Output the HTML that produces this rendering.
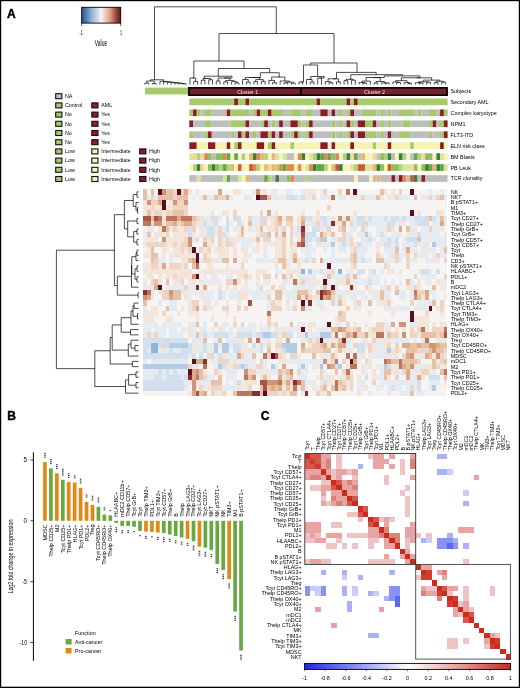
<!DOCTYPE html>
<html><head><meta charset="utf-8"><style>
html,body{margin:0;padding:0;background:#fff;}
body{width:520px;height:688px;overflow:hidden;}
svg{display:block;font-family:"Liberation Sans", sans-serif;will-change:transform;}
</style></head><body>
<svg width="520" height="688" viewBox="0 0 520 688" shape-rendering="auto">
<text x="7.10" y="17.60" font-size="12.0" text-anchor="start" font-weight="bold" fill="#000" stroke="#000" stroke-width="0.45">A</text>
<text x="7.30" y="419.80" font-size="12.0" text-anchor="start" font-weight="bold" fill="#000" stroke="#000" stroke-width="0.45">B</text>
<text x="260.70" y="420.20" font-size="12.0" text-anchor="start" font-weight="bold" fill="#000" stroke="#000" stroke-width="0.45">C</text>
<defs><linearGradient id="gk" x1="0" x2="1" y1="0" y2="0"><stop offset="0" stop-color="#2c4f8f"/><stop offset="0.25" stop-color="#8eb2d6"/><stop offset="0.5" stop-color="#f5f5f3"/><stop offset="0.72" stop-color="#d9a486"/><stop offset="0.87" stop-color="#a14d44"/><stop offset="1" stop-color="#66101f"/></linearGradient><linearGradient id="gc" x1="0" x2="1" y1="0" y2="0"><stop offset="0" stop-color="#2228e2"/><stop offset="0.25" stop-color="#8a90ef"/><stop offset="0.5" stop-color="#ffffff"/><stop offset="0.75" stop-color="#e3a29c"/><stop offset="1" stop-color="#c72a1c"/></linearGradient></defs>
<rect x="81.70" y="7.30" width="39.00" height="15.80" fill="url(#gk)" stroke="#000" stroke-width="0.9"/>
<line x1="81.70" y1="23.10" x2="81.70" y2="26.30" stroke="#000" stroke-width="0.6" />
<line x1="120.70" y1="23.10" x2="120.70" y2="26.30" stroke="#000" stroke-width="0.6" />
<text x="81.30" y="35.00" font-size="6.8" text-anchor="middle" font-weight="normal" fill="#000" textLength="3.40" lengthAdjust="spacingAndGlyphs" >-1</text>
<text x="120.90" y="35.00" font-size="6.8" text-anchor="middle" font-weight="normal" fill="#000" textLength="2.00" lengthAdjust="spacingAndGlyphs" >1</text>
<text x="101.00" y="45.90" font-size="8.2" text-anchor="middle" font-weight="normal" fill="#000" textLength="12.50" lengthAdjust="spacingAndGlyphs" >Value</text>
<rect x="55.70" y="93.70" width="6.20" height="5.00" fill="#bebebe" stroke="#111" stroke-width="1.1"/>
<text x="65.00" y="98.00" font-size="5.3" text-anchor="start" font-weight="normal" fill="#000" >NA</text>
<rect x="55.70" y="102.90" width="6.20" height="5.00" fill="#a6c96b" stroke="#111" stroke-width="1.1"/>
<text x="65.00" y="107.20" font-size="5.3" text-anchor="start" font-weight="normal" fill="#000" >Control</text>
<rect x="91.80" y="102.90" width="6.20" height="5.00" fill="#8c1c28" stroke="#111" stroke-width="1.1"/>
<text x="101.20" y="107.20" font-size="5.3" text-anchor="start" font-weight="normal" fill="#000" >AML</text>
<rect x="55.70" y="112.10" width="6.20" height="5.00" fill="#a6c96b" stroke="#111" stroke-width="1.1"/>
<text x="65.00" y="116.40" font-size="5.3" text-anchor="start" font-weight="normal" fill="#000" >No</text>
<rect x="91.80" y="112.10" width="6.20" height="5.00" fill="#8c1c28" stroke="#111" stroke-width="1.1"/>
<text x="101.20" y="116.40" font-size="5.3" text-anchor="start" font-weight="normal" fill="#000" >Yes</text>
<rect x="55.70" y="121.30" width="6.20" height="5.00" fill="#a6c96b" stroke="#111" stroke-width="1.1"/>
<text x="65.00" y="125.60" font-size="5.3" text-anchor="start" font-weight="normal" fill="#000" >No</text>
<rect x="91.80" y="121.30" width="6.20" height="5.00" fill="#8c1c28" stroke="#111" stroke-width="1.1"/>
<text x="101.20" y="125.60" font-size="5.3" text-anchor="start" font-weight="normal" fill="#000" >Yes</text>
<rect x="55.70" y="130.50" width="6.20" height="5.00" fill="#a6c96b" stroke="#111" stroke-width="1.1"/>
<text x="65.00" y="134.80" font-size="5.3" text-anchor="start" font-weight="normal" fill="#000" >No</text>
<rect x="91.80" y="130.50" width="6.20" height="5.00" fill="#8c1c28" stroke="#111" stroke-width="1.1"/>
<text x="101.20" y="134.80" font-size="5.3" text-anchor="start" font-weight="normal" fill="#000" >Yes</text>
<rect x="55.70" y="139.70" width="6.20" height="5.00" fill="#a6c96b" stroke="#111" stroke-width="1.1"/>
<text x="65.00" y="144.00" font-size="5.3" text-anchor="start" font-weight="normal" fill="#000" >No</text>
<rect x="91.80" y="139.70" width="6.20" height="5.00" fill="#8c1c28" stroke="#111" stroke-width="1.1"/>
<text x="101.20" y="144.00" font-size="5.3" text-anchor="start" font-weight="normal" fill="#000" >Yes</text>
<rect x="55.70" y="148.90" width="6.20" height="5.00" fill="#a6c96b" stroke="#111" stroke-width="1.1"/>
<text x="65.00" y="153.20" font-size="5.3" text-anchor="start" font-weight="normal" fill="#000" >Low</text>
<rect x="91.80" y="148.90" width="6.20" height="5.00" fill="#f7f3b3" stroke="#111" stroke-width="1.1"/>
<text x="101.20" y="153.20" font-size="5.3" text-anchor="start" font-weight="normal" fill="#000" >Intermediate</text>
<rect x="139.70" y="148.90" width="6.20" height="5.00" fill="#8c1c28" stroke="#111" stroke-width="1.1"/>
<text x="149.00" y="153.20" font-size="5.3" text-anchor="start" font-weight="normal" fill="#000" >High</text>
<rect x="55.70" y="158.10" width="6.20" height="5.00" fill="#a6c96b" stroke="#111" stroke-width="1.1"/>
<text x="65.00" y="162.40" font-size="5.3" text-anchor="start" font-weight="normal" fill="#000" >Low</text>
<rect x="91.80" y="158.10" width="6.20" height="5.00" fill="#f7f3b3" stroke="#111" stroke-width="1.1"/>
<text x="101.20" y="162.40" font-size="5.3" text-anchor="start" font-weight="normal" fill="#000" >Intermediate</text>
<rect x="139.70" y="158.10" width="6.20" height="5.00" fill="#8c1c28" stroke="#111" stroke-width="1.1"/>
<text x="149.00" y="162.40" font-size="5.3" text-anchor="start" font-weight="normal" fill="#000" >High</text>
<rect x="55.70" y="167.30" width="6.20" height="5.00" fill="#a6c96b" stroke="#111" stroke-width="1.1"/>
<text x="65.00" y="171.60" font-size="5.3" text-anchor="start" font-weight="normal" fill="#000" >Low</text>
<rect x="91.80" y="167.30" width="6.20" height="5.00" fill="#f7f3b3" stroke="#111" stroke-width="1.1"/>
<text x="101.20" y="171.60" font-size="5.3" text-anchor="start" font-weight="normal" fill="#000" >Intermediate</text>
<rect x="139.70" y="167.30" width="6.20" height="5.00" fill="#8c1c28" stroke="#111" stroke-width="1.1"/>
<text x="149.00" y="171.60" font-size="5.3" text-anchor="start" font-weight="normal" fill="#000" >High</text>
<rect x="55.70" y="176.50" width="6.20" height="5.00" fill="#a6c96b" stroke="#111" stroke-width="1.1"/>
<text x="65.00" y="180.80" font-size="5.3" text-anchor="start" font-weight="normal" fill="#000" >Low</text>
<rect x="91.80" y="176.50" width="6.20" height="5.00" fill="#f7f3b3" stroke="#111" stroke-width="1.1"/>
<text x="101.20" y="180.80" font-size="5.3" text-anchor="start" font-weight="normal" fill="#000" >Intermediate</text>
<rect x="139.70" y="176.50" width="6.20" height="5.00" fill="#8c1c28" stroke="#111" stroke-width="1.1"/>
<text x="149.00" y="180.80" font-size="5.3" text-anchor="start" font-weight="normal" fill="#000" >High</text>
<rect x="189.30" y="98.50" width="44.92" height="6.70" fill="#a6c96b" />
<rect x="234.22" y="98.50" width="3.74" height="6.70" fill="#8c1c28" />
<rect x="237.97" y="98.50" width="7.49" height="6.70" fill="#a6c96b" />
<rect x="245.45" y="98.50" width="3.74" height="6.70" fill="#8c1c28" />
<rect x="249.20" y="98.50" width="67.38" height="6.70" fill="#a6c96b" />
<rect x="316.58" y="98.50" width="3.74" height="6.70" fill="#8c1c28" />
<rect x="320.32" y="98.50" width="26.20" height="6.70" fill="#a6c96b" />
<rect x="346.53" y="98.50" width="3.74" height="6.70" fill="#8c1c28" />
<rect x="350.27" y="98.50" width="3.74" height="6.70" fill="#a6c96b" />
<rect x="354.01" y="98.50" width="3.74" height="6.70" fill="#8c1c28" />
<rect x="357.76" y="98.50" width="89.84" height="6.70" fill="#a6c96b" />
<text x="450.50" y="103.80" font-size="5.4" text-anchor="start" font-weight="normal" fill="#000" >Secondary AML</text>
<rect x="189.30" y="109.45" width="3.74" height="6.70" fill="#a6c96b" />
<rect x="193.04" y="109.45" width="3.74" height="6.70" fill="#8c1c28" />
<rect x="196.79" y="109.45" width="3.74" height="6.70" fill="#a6c96b" />
<rect x="200.53" y="109.45" width="3.74" height="6.70" fill="#bebebe" />
<rect x="204.27" y="109.45" width="7.49" height="6.70" fill="#a6c96b" />
<rect x="211.76" y="109.45" width="14.97" height="6.70" fill="#bebebe" />
<rect x="226.73" y="109.45" width="3.74" height="6.70" fill="#8c1c28" />
<rect x="230.48" y="109.45" width="18.72" height="6.70" fill="#a6c96b" />
<rect x="249.20" y="109.45" width="3.74" height="6.70" fill="#bebebe" />
<rect x="252.94" y="109.45" width="3.74" height="6.70" fill="#a6c96b" />
<rect x="256.68" y="109.45" width="3.74" height="6.70" fill="#8c1c28" />
<rect x="260.43" y="109.45" width="7.49" height="6.70" fill="#a6c96b" />
<rect x="267.91" y="109.45" width="3.74" height="6.70" fill="#8c1c28" />
<rect x="271.66" y="109.45" width="11.23" height="6.70" fill="#a6c96b" />
<rect x="282.89" y="109.45" width="7.49" height="6.70" fill="#bebebe" />
<rect x="290.37" y="109.45" width="11.23" height="6.70" fill="#a6c96b" />
<rect x="301.60" y="109.45" width="3.74" height="6.70" fill="#bebebe" />
<rect x="305.35" y="109.45" width="7.49" height="6.70" fill="#a6c96b" />
<rect x="312.83" y="109.45" width="7.49" height="6.70" fill="#bebebe" />
<rect x="320.32" y="109.45" width="7.49" height="6.70" fill="#8c1c28" />
<rect x="327.81" y="109.45" width="3.74" height="6.70" fill="#bebebe" />
<rect x="331.55" y="109.45" width="3.74" height="6.70" fill="#8c1c28" />
<rect x="335.30" y="109.45" width="3.74" height="6.70" fill="#bebebe" />
<rect x="339.04" y="109.45" width="3.74" height="6.70" fill="#a6c96b" />
<rect x="342.78" y="109.45" width="3.74" height="6.70" fill="#bebebe" />
<rect x="346.53" y="109.45" width="3.74" height="6.70" fill="#a6c96b" />
<rect x="350.27" y="109.45" width="3.74" height="6.70" fill="#8c1c28" />
<rect x="354.01" y="109.45" width="7.49" height="6.70" fill="#bebebe" />
<rect x="361.50" y="109.45" width="14.97" height="6.70" fill="#a6c96b" />
<rect x="376.47" y="109.45" width="3.74" height="6.70" fill="#bebebe" />
<rect x="380.22" y="109.45" width="3.74" height="6.70" fill="#a6c96b" />
<rect x="383.96" y="109.45" width="3.74" height="6.70" fill="#bebebe" />
<rect x="387.70" y="109.45" width="3.74" height="6.70" fill="#a6c96b" />
<rect x="391.45" y="109.45" width="7.49" height="6.70" fill="#bebebe" />
<rect x="398.93" y="109.45" width="14.97" height="6.70" fill="#a6c96b" />
<rect x="413.91" y="109.45" width="3.74" height="6.70" fill="#bebebe" />
<rect x="417.65" y="109.45" width="3.74" height="6.70" fill="#a6c96b" />
<rect x="421.40" y="109.45" width="7.49" height="6.70" fill="#bebebe" />
<rect x="428.88" y="109.45" width="7.49" height="6.70" fill="#a6c96b" />
<rect x="436.37" y="109.45" width="3.74" height="6.70" fill="#bebebe" />
<rect x="440.11" y="109.45" width="3.74" height="6.70" fill="#8c1c28" />
<rect x="443.86" y="109.45" width="3.74" height="6.70" fill="#a6c96b" />
<text x="450.50" y="114.75" font-size="5.4" text-anchor="start" font-weight="normal" fill="#000" >Complex karyotype</text>
<rect x="189.30" y="120.40" width="3.74" height="6.70" fill="#8c1c28" />
<rect x="193.04" y="120.40" width="11.23" height="6.70" fill="#bebebe" />
<rect x="204.27" y="120.40" width="7.49" height="6.70" fill="#a6c96b" />
<rect x="211.76" y="120.40" width="18.72" height="6.70" fill="#bebebe" />
<rect x="230.48" y="120.40" width="14.97" height="6.70" fill="#a6c96b" />
<rect x="245.45" y="120.40" width="3.74" height="6.70" fill="#8c1c28" />
<rect x="249.20" y="120.40" width="11.23" height="6.70" fill="#bebebe" />
<rect x="260.43" y="120.40" width="3.74" height="6.70" fill="#a6c96b" />
<rect x="264.17" y="120.40" width="3.74" height="6.70" fill="#8c1c28" />
<rect x="267.91" y="120.40" width="3.74" height="6.70" fill="#bebebe" />
<rect x="271.66" y="120.40" width="3.74" height="6.70" fill="#a6c96b" />
<rect x="275.40" y="120.40" width="3.74" height="6.70" fill="#bebebe" />
<rect x="279.14" y="120.40" width="3.74" height="6.70" fill="#8c1c28" />
<rect x="282.89" y="120.40" width="7.49" height="6.70" fill="#bebebe" />
<rect x="290.37" y="120.40" width="7.49" height="6.70" fill="#8c1c28" />
<rect x="297.86" y="120.40" width="3.74" height="6.70" fill="#a6c96b" />
<rect x="301.60" y="120.40" width="3.74" height="6.70" fill="#bebebe" />
<rect x="305.35" y="120.40" width="3.74" height="6.70" fill="#a6c96b" />
<rect x="309.09" y="120.40" width="3.74" height="6.70" fill="#8c1c28" />
<rect x="312.83" y="120.40" width="18.72" height="6.70" fill="#bebebe" />
<rect x="331.55" y="120.40" width="3.74" height="6.70" fill="#a6c96b" />
<rect x="335.30" y="120.40" width="3.74" height="6.70" fill="#bebebe" />
<rect x="339.04" y="120.40" width="3.74" height="6.70" fill="#a6c96b" />
<rect x="342.78" y="120.40" width="3.74" height="6.70" fill="#bebebe" />
<rect x="346.53" y="120.40" width="3.74" height="6.70" fill="#8c1c28" />
<rect x="350.27" y="120.40" width="3.74" height="6.70" fill="#a6c96b" />
<rect x="354.01" y="120.40" width="3.74" height="6.70" fill="#bebebe" />
<rect x="357.76" y="120.40" width="7.49" height="6.70" fill="#8c1c28" />
<rect x="365.24" y="120.40" width="7.49" height="6.70" fill="#a6c96b" />
<rect x="372.73" y="120.40" width="3.74" height="6.70" fill="#8c1c28" />
<rect x="376.47" y="120.40" width="3.74" height="6.70" fill="#bebebe" />
<rect x="380.22" y="120.40" width="3.74" height="6.70" fill="#a6c96b" />
<rect x="383.96" y="120.40" width="3.74" height="6.70" fill="#bebebe" />
<rect x="387.70" y="120.40" width="3.74" height="6.70" fill="#a6c96b" />
<rect x="391.45" y="120.40" width="11.23" height="6.70" fill="#bebebe" />
<rect x="402.68" y="120.40" width="7.49" height="6.70" fill="#a6c96b" />
<rect x="410.17" y="120.40" width="18.72" height="6.70" fill="#bebebe" />
<rect x="428.88" y="120.40" width="3.74" height="6.70" fill="#a6c96b" />
<rect x="432.63" y="120.40" width="3.74" height="6.70" fill="#8c1c28" />
<rect x="436.37" y="120.40" width="3.74" height="6.70" fill="#bebebe" />
<rect x="440.11" y="120.40" width="3.74" height="6.70" fill="#a6c96b" />
<rect x="443.86" y="120.40" width="3.74" height="6.70" fill="#8c1c28" />
<text x="450.50" y="125.70" font-size="5.4" text-anchor="start" font-weight="normal" fill="#000" >NPM1</text>
<rect x="189.30" y="131.35" width="3.74" height="6.70" fill="#a6c96b" />
<rect x="193.04" y="131.35" width="11.23" height="6.70" fill="#bebebe" />
<rect x="204.27" y="131.35" width="3.74" height="6.70" fill="#a6c96b" />
<rect x="208.02" y="131.35" width="3.74" height="6.70" fill="#8c1c28" />
<rect x="211.76" y="131.35" width="18.72" height="6.70" fill="#bebebe" />
<rect x="230.48" y="131.35" width="3.74" height="6.70" fill="#a6c96b" />
<rect x="234.22" y="131.35" width="3.74" height="6.70" fill="#bebebe" />
<rect x="237.97" y="131.35" width="3.74" height="6.70" fill="#8c1c28" />
<rect x="241.71" y="131.35" width="3.74" height="6.70" fill="#a6c96b" />
<rect x="245.45" y="131.35" width="3.74" height="6.70" fill="#8c1c28" />
<rect x="249.20" y="131.35" width="3.74" height="6.70" fill="#bebebe" />
<rect x="252.94" y="131.35" width="3.74" height="6.70" fill="#a6c96b" />
<rect x="256.68" y="131.35" width="3.74" height="6.70" fill="#bebebe" />
<rect x="260.43" y="131.35" width="7.49" height="6.70" fill="#8c1c28" />
<rect x="267.91" y="131.35" width="3.74" height="6.70" fill="#a6c96b" />
<rect x="271.66" y="131.35" width="3.74" height="6.70" fill="#8c1c28" />
<rect x="275.40" y="131.35" width="3.74" height="6.70" fill="#bebebe" />
<rect x="279.14" y="131.35" width="3.74" height="6.70" fill="#8c1c28" />
<rect x="282.89" y="131.35" width="7.49" height="6.70" fill="#bebebe" />
<rect x="290.37" y="131.35" width="3.74" height="6.70" fill="#a6c96b" />
<rect x="294.12" y="131.35" width="3.74" height="6.70" fill="#8c1c28" />
<rect x="297.86" y="131.35" width="3.74" height="6.70" fill="#a6c96b" />
<rect x="301.60" y="131.35" width="3.74" height="6.70" fill="#bebebe" />
<rect x="305.35" y="131.35" width="3.74" height="6.70" fill="#a6c96b" />
<rect x="309.09" y="131.35" width="3.74" height="6.70" fill="#8c1c28" />
<rect x="312.83" y="131.35" width="18.72" height="6.70" fill="#bebebe" />
<rect x="331.55" y="131.35" width="3.74" height="6.70" fill="#a6c96b" />
<rect x="335.30" y="131.35" width="3.74" height="6.70" fill="#bebebe" />
<rect x="339.04" y="131.35" width="3.74" height="6.70" fill="#a6c96b" />
<rect x="342.78" y="131.35" width="3.74" height="6.70" fill="#bebebe" />
<rect x="346.53" y="131.35" width="3.74" height="6.70" fill="#a6c96b" />
<rect x="350.27" y="131.35" width="3.74" height="6.70" fill="#8c1c28" />
<rect x="354.01" y="131.35" width="3.74" height="6.70" fill="#bebebe" />
<rect x="357.76" y="131.35" width="7.49" height="6.70" fill="#8c1c28" />
<rect x="365.24" y="131.35" width="11.23" height="6.70" fill="#a6c96b" />
<rect x="376.47" y="131.35" width="3.74" height="6.70" fill="#bebebe" />
<rect x="380.22" y="131.35" width="3.74" height="6.70" fill="#a6c96b" />
<rect x="383.96" y="131.35" width="3.74" height="6.70" fill="#bebebe" />
<rect x="387.70" y="131.35" width="3.74" height="6.70" fill="#8c1c28" />
<rect x="391.45" y="131.35" width="7.49" height="6.70" fill="#bebebe" />
<rect x="398.93" y="131.35" width="11.23" height="6.70" fill="#a6c96b" />
<rect x="410.17" y="131.35" width="18.72" height="6.70" fill="#bebebe" />
<rect x="428.88" y="131.35" width="3.74" height="6.70" fill="#a6c96b" />
<rect x="432.63" y="131.35" width="7.49" height="6.70" fill="#bebebe" />
<rect x="440.11" y="131.35" width="3.74" height="6.70" fill="#a6c96b" />
<rect x="443.86" y="131.35" width="3.74" height="6.70" fill="#8c1c28" />
<text x="450.50" y="136.65" font-size="5.4" text-anchor="start" font-weight="normal" fill="#000" >FLT3-ITD</text>
<rect x="189.30" y="142.30" width="7.49" height="6.70" fill="#8c1c28" />
<rect x="196.79" y="142.30" width="11.23" height="6.70" fill="#f7f3b3" />
<rect x="208.02" y="142.30" width="7.49" height="6.70" fill="#8c1c28" />
<rect x="215.50" y="142.30" width="11.23" height="6.70" fill="#f7f3b3" />
<rect x="226.73" y="142.30" width="3.74" height="6.70" fill="#8c1c28" />
<rect x="230.48" y="142.30" width="3.74" height="6.70" fill="#f7f3b3" />
<rect x="234.22" y="142.30" width="3.74" height="6.70" fill="#a6c96b" />
<rect x="237.97" y="142.30" width="3.74" height="6.70" fill="#8c1c28" />
<rect x="241.71" y="142.30" width="14.97" height="6.70" fill="#f7f3b3" />
<rect x="256.68" y="142.30" width="7.49" height="6.70" fill="#8c1c28" />
<rect x="264.17" y="142.30" width="3.74" height="6.70" fill="#f7f3b3" />
<rect x="267.91" y="142.30" width="3.74" height="6.70" fill="#a6c96b" />
<rect x="271.66" y="142.30" width="3.74" height="6.70" fill="#8c1c28" />
<rect x="275.40" y="142.30" width="14.97" height="6.70" fill="#f7f3b3" />
<rect x="290.37" y="142.30" width="3.74" height="6.70" fill="#a6c96b" />
<rect x="294.12" y="142.30" width="26.20" height="6.70" fill="#f7f3b3" />
<rect x="320.32" y="142.30" width="7.49" height="6.70" fill="#8c1c28" />
<rect x="327.81" y="142.30" width="3.74" height="6.70" fill="#f7f3b3" />
<rect x="331.55" y="142.30" width="3.74" height="6.70" fill="#8c1c28" />
<rect x="335.30" y="142.30" width="14.97" height="6.70" fill="#f7f3b3" />
<rect x="350.27" y="142.30" width="3.74" height="6.70" fill="#8c1c28" />
<rect x="354.01" y="142.30" width="18.72" height="6.70" fill="#f7f3b3" />
<rect x="372.73" y="142.30" width="3.74" height="6.70" fill="#a6c96b" />
<rect x="376.47" y="142.30" width="11.23" height="6.70" fill="#f7f3b3" />
<rect x="387.70" y="142.30" width="3.74" height="6.70" fill="#8c1c28" />
<rect x="391.45" y="142.30" width="18.72" height="6.70" fill="#f7f3b3" />
<rect x="410.17" y="142.30" width="3.74" height="6.70" fill="#a6c96b" />
<rect x="413.91" y="142.30" width="26.20" height="6.70" fill="#f7f3b3" />
<rect x="440.11" y="142.30" width="3.74" height="6.70" fill="#8c1c28" />
<rect x="443.86" y="142.30" width="3.74" height="6.70" fill="#f7f3b3" />
<text x="450.50" y="147.60" font-size="5.4" text-anchor="start" font-weight="normal" fill="#000" >ELN risk class</text>
<rect x="189.30" y="153.25" width="3.74" height="6.70" fill="#d8e59a" />
<rect x="193.04" y="153.25" width="3.74" height="6.70" fill="#f2d898" />
<rect x="196.79" y="153.25" width="3.74" height="6.70" fill="#b0d27a" />
<rect x="200.53" y="153.25" width="3.74" height="6.70" fill="#f2d898" />
<rect x="204.27" y="153.25" width="3.74" height="6.70" fill="#df8a4c" />
<rect x="208.02" y="153.25" width="3.74" height="6.70" fill="#8cbf62" />
<rect x="211.76" y="153.25" width="3.74" height="6.70" fill="#bebebe" />
<rect x="215.50" y="153.25" width="7.49" height="6.70" fill="#8cbf62" />
<rect x="222.99" y="153.25" width="3.74" height="6.70" fill="#df8a4c" />
<rect x="226.73" y="153.25" width="3.74" height="6.70" fill="#66a44e" />
<rect x="230.48" y="153.25" width="3.74" height="6.70" fill="#f6f4b8" />
<rect x="234.22" y="153.25" width="3.74" height="6.70" fill="#66a44e" />
<rect x="237.97" y="153.25" width="3.74" height="6.70" fill="#f6f4b8" />
<rect x="241.71" y="153.25" width="3.74" height="6.70" fill="#b0d27a" />
<rect x="245.45" y="153.25" width="3.74" height="6.70" fill="#f6f4b8" />
<rect x="249.20" y="153.25" width="3.74" height="6.70" fill="#ebb470" />
<rect x="252.94" y="153.25" width="3.74" height="6.70" fill="#3f7d3a" />
<rect x="256.68" y="153.25" width="3.74" height="6.70" fill="#df8a4c" />
<rect x="260.43" y="153.25" width="3.74" height="6.70" fill="#ebb470" />
<rect x="264.17" y="153.25" width="3.74" height="6.70" fill="#b0d27a" />
<rect x="267.91" y="153.25" width="3.74" height="6.70" fill="#f6f4b8" />
<rect x="271.66" y="153.25" width="3.74" height="6.70" fill="#ebb470" />
<rect x="275.40" y="153.25" width="3.74" height="6.70" fill="#d8e59a" />
<rect x="279.14" y="153.25" width="3.74" height="6.70" fill="#f6f4b8" />
<rect x="282.89" y="153.25" width="3.74" height="6.70" fill="#d8e59a" />
<rect x="286.63" y="153.25" width="7.49" height="6.70" fill="#bebebe" />
<rect x="294.12" y="153.25" width="3.74" height="6.70" fill="#f6f4b8" />
<rect x="297.86" y="153.25" width="3.74" height="6.70" fill="#df8a4c" />
<rect x="301.60" y="153.25" width="3.74" height="6.70" fill="#3f7d3a" />
<rect x="305.35" y="153.25" width="3.74" height="6.70" fill="#f6f4b8" />
<rect x="309.09" y="153.25" width="3.74" height="6.70" fill="#f2d898" />
<rect x="312.83" y="153.25" width="3.74" height="6.70" fill="#b0d27a" />
<rect x="316.58" y="153.25" width="3.74" height="6.70" fill="#3f7d3a" />
<rect x="320.32" y="153.25" width="3.74" height="6.70" fill="#66a44e" />
<rect x="324.07" y="153.25" width="3.74" height="6.70" fill="#df8a4c" />
<rect x="327.81" y="153.25" width="3.74" height="6.70" fill="#66a44e" />
<rect x="331.55" y="153.25" width="3.74" height="6.70" fill="#8cbf62" />
<rect x="335.30" y="153.25" width="3.74" height="6.70" fill="#df8a4c" />
<rect x="339.04" y="153.25" width="3.74" height="6.70" fill="#f6f4b8" />
<rect x="342.78" y="153.25" width="3.74" height="6.70" fill="#b0d27a" />
<rect x="346.53" y="153.25" width="3.74" height="6.70" fill="#3f7d3a" />
<rect x="350.27" y="153.25" width="3.74" height="6.70" fill="#f2d898" />
<rect x="354.01" y="153.25" width="3.74" height="6.70" fill="#66a44e" />
<rect x="357.76" y="153.25" width="3.74" height="6.70" fill="#bebebe" />
<rect x="361.50" y="153.25" width="3.74" height="6.70" fill="#ebb470" />
<rect x="365.24" y="153.25" width="7.49" height="6.70" fill="#f6f4b8" />
<rect x="372.73" y="153.25" width="3.74" height="6.70" fill="#f2d898" />
<rect x="376.47" y="153.25" width="3.74" height="6.70" fill="#bebebe" />
<rect x="380.22" y="153.25" width="3.74" height="6.70" fill="#8cbf62" />
<rect x="383.96" y="153.25" width="3.74" height="6.70" fill="#b0d27a" />
<rect x="387.70" y="153.25" width="3.74" height="6.70" fill="#3f7d3a" />
<rect x="391.45" y="153.25" width="3.74" height="6.70" fill="#bebebe" />
<rect x="395.19" y="153.25" width="3.74" height="6.70" fill="#f6f4b8" />
<rect x="398.93" y="153.25" width="3.74" height="6.70" fill="#3f7d3a" />
<rect x="402.68" y="153.25" width="3.74" height="6.70" fill="#b0d27a" />
<rect x="406.42" y="153.25" width="3.74" height="6.70" fill="#f6f4b8" />
<rect x="410.17" y="153.25" width="3.74" height="6.70" fill="#bebebe" />
<rect x="413.91" y="153.25" width="3.74" height="6.70" fill="#66a44e" />
<rect x="417.65" y="153.25" width="3.74" height="6.70" fill="#b0d27a" />
<rect x="421.40" y="153.25" width="3.74" height="6.70" fill="#f2d898" />
<rect x="425.14" y="153.25" width="7.49" height="6.70" fill="#8cbf62" />
<rect x="432.63" y="153.25" width="3.74" height="6.70" fill="#f6f4b8" />
<rect x="436.37" y="153.25" width="3.74" height="6.70" fill="#3f7d3a" />
<rect x="440.11" y="153.25" width="3.74" height="6.70" fill="#d8e59a" />
<rect x="443.86" y="153.25" width="3.74" height="6.70" fill="#f6f4b8" />
<text x="450.50" y="158.55" font-size="5.4" text-anchor="start" font-weight="normal" fill="#000" >BM Blasts</text>
<rect x="189.30" y="164.20" width="3.74" height="6.70" fill="#f6f4b8" />
<rect x="193.04" y="164.20" width="3.74" height="6.70" fill="#b0d27a" />
<rect x="196.79" y="164.20" width="3.74" height="6.70" fill="#3f7d3a" />
<rect x="200.53" y="164.20" width="3.74" height="6.70" fill="#f2d898" />
<rect x="204.27" y="164.20" width="3.74" height="6.70" fill="#f6f4b8" />
<rect x="208.02" y="164.20" width="3.74" height="6.70" fill="#8cbf62" />
<rect x="211.76" y="164.20" width="3.74" height="6.70" fill="#3f7d3a" />
<rect x="215.50" y="164.20" width="3.74" height="6.70" fill="#8cbf62" />
<rect x="219.25" y="164.20" width="3.74" height="6.70" fill="#b0d27a" />
<rect x="222.99" y="164.20" width="3.74" height="6.70" fill="#66a44e" />
<rect x="226.73" y="164.20" width="3.74" height="6.70" fill="#b0d27a" />
<rect x="230.48" y="164.20" width="3.74" height="6.70" fill="#ebb470" />
<rect x="234.22" y="164.20" width="3.74" height="6.70" fill="#f6f4b8" />
<rect x="237.97" y="164.20" width="3.74" height="6.70" fill="#cc5a38" />
<rect x="241.71" y="164.20" width="7.49" height="6.70" fill="#f6f4b8" />
<rect x="249.20" y="164.20" width="3.74" height="6.70" fill="#cc5a38" />
<rect x="252.94" y="164.20" width="3.74" height="6.70" fill="#df8a4c" />
<rect x="256.68" y="164.20" width="3.74" height="6.70" fill="#b0d27a" />
<rect x="260.43" y="164.20" width="3.74" height="6.70" fill="#f6f4b8" />
<rect x="264.17" y="164.20" width="3.74" height="6.70" fill="#ebb470" />
<rect x="267.91" y="164.20" width="3.74" height="6.70" fill="#f2d898" />
<rect x="271.66" y="164.20" width="3.74" height="6.70" fill="#ebb470" />
<rect x="275.40" y="164.20" width="3.74" height="6.70" fill="#b0d27a" />
<rect x="279.14" y="164.20" width="3.74" height="6.70" fill="#df8a4c" />
<rect x="282.89" y="164.20" width="3.74" height="6.70" fill="#66a44e" />
<rect x="286.63" y="164.20" width="7.49" height="6.70" fill="#df8a4c" />
<rect x="294.12" y="164.20" width="3.74" height="6.70" fill="#f6f4b8" />
<rect x="297.86" y="164.20" width="3.74" height="6.70" fill="#df8a4c" />
<rect x="301.60" y="164.20" width="3.74" height="6.70" fill="#f6f4b8" />
<rect x="305.35" y="164.20" width="3.74" height="6.70" fill="#d8e59a" />
<rect x="309.09" y="164.20" width="3.74" height="6.70" fill="#df8a4c" />
<rect x="312.83" y="164.20" width="3.74" height="6.70" fill="#3f7d3a" />
<rect x="316.58" y="164.20" width="7.49" height="6.70" fill="#66a44e" />
<rect x="324.07" y="164.20" width="3.74" height="6.70" fill="#b0d27a" />
<rect x="327.81" y="164.20" width="3.74" height="6.70" fill="#f6f4b8" />
<rect x="331.55" y="164.20" width="3.74" height="6.70" fill="#ebb470" />
<rect x="335.30" y="164.20" width="3.74" height="6.70" fill="#cc5a38" />
<rect x="339.04" y="164.20" width="3.74" height="6.70" fill="#3f7d3a" />
<rect x="342.78" y="164.20" width="7.49" height="6.70" fill="#f6f4b8" />
<rect x="350.27" y="164.20" width="3.74" height="6.70" fill="#f2d898" />
<rect x="354.01" y="164.20" width="3.74" height="6.70" fill="#b0d27a" />
<rect x="357.76" y="164.20" width="7.49" height="6.70" fill="#cc5a38" />
<rect x="365.24" y="164.20" width="3.74" height="6.70" fill="#d8e59a" />
<rect x="368.99" y="164.20" width="3.74" height="6.70" fill="#f2d898" />
<rect x="372.73" y="164.20" width="3.74" height="6.70" fill="#ebb470" />
<rect x="376.47" y="164.20" width="3.74" height="6.70" fill="#3f7d3a" />
<rect x="380.22" y="164.20" width="3.74" height="6.70" fill="#8cbf62" />
<rect x="383.96" y="164.20" width="3.74" height="6.70" fill="#f6f4b8" />
<rect x="387.70" y="164.20" width="3.74" height="6.70" fill="#cc5a38" />
<rect x="391.45" y="164.20" width="7.49" height="6.70" fill="#8cbf62" />
<rect x="398.93" y="164.20" width="3.74" height="6.70" fill="#b0d27a" />
<rect x="402.68" y="164.20" width="7.49" height="6.70" fill="#d8e59a" />
<rect x="410.17" y="164.20" width="3.74" height="6.70" fill="#f2d898" />
<rect x="413.91" y="164.20" width="3.74" height="6.70" fill="#8cbf62" />
<rect x="417.65" y="164.20" width="3.74" height="6.70" fill="#f6f4b8" />
<rect x="421.40" y="164.20" width="3.74" height="6.70" fill="#8cbf62" />
<rect x="425.14" y="164.20" width="3.74" height="6.70" fill="#3f7d3a" />
<rect x="428.88" y="164.20" width="3.74" height="6.70" fill="#66a44e" />
<rect x="432.63" y="164.20" width="3.74" height="6.70" fill="#ebb470" />
<rect x="436.37" y="164.20" width="3.74" height="6.70" fill="#3f7d3a" />
<rect x="440.11" y="164.20" width="3.74" height="6.70" fill="#66a44e" />
<rect x="443.86" y="164.20" width="3.74" height="6.70" fill="#d8e59a" />
<text x="450.50" y="169.50" font-size="5.4" text-anchor="start" font-weight="normal" fill="#000" >PB Leuk</text>
<rect x="189.30" y="175.15" width="7.49" height="6.70" fill="#bebebe" />
<rect x="196.79" y="175.15" width="3.74" height="6.70" fill="#f2d898" />
<rect x="200.53" y="175.15" width="22.46" height="6.70" fill="#bebebe" />
<rect x="222.99" y="175.15" width="3.74" height="6.70" fill="#d8e59a" />
<rect x="226.73" y="175.15" width="3.74" height="6.70" fill="#66a44e" />
<rect x="230.48" y="175.15" width="7.49" height="6.70" fill="#bebebe" />
<rect x="237.97" y="175.15" width="3.74" height="6.70" fill="#d8e59a" />
<rect x="241.71" y="175.15" width="3.74" height="6.70" fill="#f6f4b8" />
<rect x="245.45" y="175.15" width="3.74" height="6.70" fill="#ebb470" />
<rect x="249.20" y="175.15" width="14.97" height="6.70" fill="#bebebe" />
<rect x="264.17" y="175.15" width="3.74" height="6.70" fill="#66a44e" />
<rect x="267.91" y="175.15" width="3.74" height="6.70" fill="#b0d27a" />
<rect x="271.66" y="175.15" width="3.74" height="6.70" fill="#bebebe" />
<rect x="275.40" y="175.15" width="3.74" height="6.70" fill="#3f7d3a" />
<rect x="279.14" y="175.15" width="7.49" height="6.70" fill="#bebebe" />
<rect x="286.63" y="175.15" width="3.74" height="6.70" fill="#8cbf62" />
<rect x="290.37" y="175.15" width="3.74" height="6.70" fill="#df8a4c" />
<rect x="294.12" y="175.15" width="11.23" height="6.70" fill="#bebebe" />
<rect x="305.35" y="175.15" width="3.74" height="6.70" fill="#b0d27a" />
<rect x="309.09" y="175.15" width="44.92" height="6.70" fill="#bebebe" />
<rect x="354.01" y="175.15" width="3.74" height="6.70" fill="#f6f4b8" />
<rect x="357.76" y="175.15" width="11.23" height="6.70" fill="#bebebe" />
<rect x="368.99" y="175.15" width="3.74" height="6.70" fill="#f6f4b8" />
<rect x="372.73" y="175.15" width="3.74" height="6.70" fill="#bebebe" />
<rect x="376.47" y="175.15" width="3.74" height="6.70" fill="#ebb470" />
<rect x="380.22" y="175.15" width="11.23" height="6.70" fill="#bebebe" />
<rect x="391.45" y="175.15" width="3.74" height="6.70" fill="#8c1c28" />
<rect x="395.19" y="175.15" width="3.74" height="6.70" fill="#bebebe" />
<rect x="398.93" y="175.15" width="3.74" height="6.70" fill="#8c1c28" />
<rect x="402.68" y="175.15" width="3.74" height="6.70" fill="#df8a4c" />
<rect x="406.42" y="175.15" width="3.74" height="6.70" fill="#bebebe" />
<rect x="410.17" y="175.15" width="3.74" height="6.70" fill="#cc5a38" />
<rect x="413.91" y="175.15" width="3.74" height="6.70" fill="#3f7d3a" />
<rect x="417.65" y="175.15" width="3.74" height="6.70" fill="#bebebe" />
<rect x="421.40" y="175.15" width="3.74" height="6.70" fill="#8c1c28" />
<rect x="425.14" y="175.15" width="22.46" height="6.70" fill="#bebebe" />
<text x="450.50" y="180.45" font-size="5.4" text-anchor="start" font-weight="normal" fill="#000" >TCR clonality</text>
<rect x="145.00" y="87.60" width="43.00" height="6.80" fill="#a6c96b" />
<rect x="188.90" y="87.80" width="112.20" height="7.40" fill="#7d1c2a" stroke="#000" stroke-width="1.6"/>
<rect x="301.10" y="87.80" width="146.00" height="7.40" fill="#7d1c2a" stroke="#000" stroke-width="1.6"/>
<text x="247.70" y="93.50" font-size="5.2" text-anchor="middle" font-weight="normal" fill="#f3e6e6" >Cluster 1</text>
<text x="374.50" y="93.50" font-size="5.2" text-anchor="middle" font-weight="normal" fill="#f3e6e6" >Cluster 2</text>
<text x="450.50" y="93.00" font-size="5.4" text-anchor="start" font-weight="normal" fill="#000" >Subjects</text>
<g shape-rendering="crispEdges">
<rect x="143.00" y="189.20" width="3.81" height="5.35" fill="#e7c1a6"/>
<rect x="146.76" y="189.20" width="3.81" height="5.35" fill="#f5f4f3"/>
<rect x="150.52" y="189.20" width="3.81" height="5.35" fill="#e7c1a6"/>
<rect x="154.27" y="189.20" width="3.81" height="5.35" fill="#f5f4f3"/>
<rect x="158.03" y="189.20" width="3.81" height="5.35" fill="#5c0b21"/>
<rect x="161.79" y="189.20" width="3.81" height="5.35" fill="#cf9474"/>
<rect x="165.55" y="189.20" width="7.57" height="5.35" fill="#e7c1a6"/>
<rect x="173.06" y="189.20" width="3.81" height="5.35" fill="#eed5c3"/>
<rect x="176.82" y="189.20" width="3.81" height="5.35" fill="#5c0b21"/>
<rect x="180.58" y="189.20" width="3.81" height="5.35" fill="#eed5c3"/>
<rect x="184.34" y="189.20" width="3.81" height="5.35" fill="#dcaa8a"/>
<rect x="188.10" y="189.20" width="3.81" height="5.35" fill="#f3e5da"/>
<rect x="191.85" y="189.20" width="3.81" height="5.35" fill="#f5f4f3"/>
<rect x="195.61" y="189.20" width="3.81" height="5.35" fill="#f3e5da"/>
<rect x="199.37" y="189.20" width="18.84" height="5.35" fill="#f5f4f3"/>
<rect x="218.16" y="189.20" width="3.81" height="5.35" fill="#dcaa8a"/>
<rect x="221.92" y="189.20" width="11.32" height="5.35" fill="#f5f4f3"/>
<rect x="233.19" y="189.20" width="7.57" height="5.35" fill="#f3e5da"/>
<rect x="240.71" y="189.20" width="11.32" height="5.35" fill="#f5f4f3"/>
<rect x="251.98" y="189.20" width="3.81" height="5.35" fill="#e6ebf2"/>
<rect x="255.74" y="189.20" width="3.81" height="5.35" fill="#cf9474"/>
<rect x="259.50" y="189.20" width="7.57" height="5.35" fill="#f3e5da"/>
<rect x="267.01" y="189.20" width="3.81" height="5.35" fill="#f5f4f3"/>
<rect x="270.77" y="189.20" width="7.57" height="5.35" fill="#e6ebf2"/>
<rect x="278.29" y="189.20" width="7.57" height="5.35" fill="#f5f4f3"/>
<rect x="285.80" y="189.20" width="7.57" height="5.35" fill="#e6ebf2"/>
<rect x="293.32" y="189.20" width="7.57" height="5.35" fill="#f5f4f3"/>
<rect x="300.84" y="189.20" width="3.81" height="5.35" fill="#e6ebf2"/>
<rect x="304.60" y="189.20" width="11.32" height="5.35" fill="#f3e5da"/>
<rect x="315.87" y="189.20" width="3.81" height="5.35" fill="#f5f4f3"/>
<rect x="319.63" y="189.20" width="3.81" height="5.35" fill="#e6ebf2"/>
<rect x="323.39" y="189.20" width="3.81" height="5.35" fill="#eed5c3"/>
<rect x="327.14" y="189.20" width="11.32" height="5.35" fill="#f5f4f3"/>
<rect x="338.42" y="189.20" width="3.81" height="5.35" fill="#eed5c3"/>
<rect x="342.18" y="189.20" width="3.81" height="5.35" fill="#f5f4f3"/>
<rect x="345.93" y="189.20" width="3.81" height="5.35" fill="#bd765d"/>
<rect x="349.69" y="189.20" width="3.81" height="5.35" fill="#f5f4f3"/>
<rect x="353.45" y="189.20" width="3.81" height="5.35" fill="#5c0b21"/>
<rect x="357.21" y="189.20" width="22.60" height="5.35" fill="#f5f4f3"/>
<rect x="379.76" y="189.20" width="3.81" height="5.35" fill="#e7c1a6"/>
<rect x="383.51" y="189.20" width="3.81" height="5.35" fill="#f3e5da"/>
<rect x="387.27" y="189.20" width="3.81" height="5.35" fill="#f5f4f3"/>
<rect x="391.03" y="189.20" width="3.81" height="5.35" fill="#f3e5da"/>
<rect x="394.79" y="189.20" width="3.81" height="5.35" fill="#f5f4f3"/>
<rect x="398.55" y="189.20" width="3.81" height="5.35" fill="#eed5c3"/>
<rect x="402.30" y="189.20" width="7.57" height="5.35" fill="#f5f4f3"/>
<rect x="409.82" y="189.20" width="3.81" height="5.35" fill="#5c0b21"/>
<rect x="413.58" y="189.20" width="15.08" height="5.35" fill="#f5f4f3"/>
<rect x="428.61" y="189.20" width="3.81" height="5.35" fill="#e6ebf2"/>
<rect x="432.37" y="189.20" width="7.57" height="5.35" fill="#f5f4f3"/>
<rect x="439.88" y="189.20" width="3.81" height="5.35" fill="#e6ebf2"/>
<rect x="443.64" y="189.20" width="3.81" height="5.35" fill="#f5f4f3"/>
<rect x="143.00" y="194.50" width="3.81" height="5.35" fill="#e7c1a6"/>
<rect x="146.76" y="194.50" width="3.81" height="5.35" fill="#e6ebf2"/>
<rect x="150.52" y="194.50" width="3.81" height="5.35" fill="#eed5c3"/>
<rect x="154.27" y="194.50" width="3.81" height="5.35" fill="#e6ebf2"/>
<rect x="158.03" y="194.50" width="15.08" height="5.35" fill="#e7c1a6"/>
<rect x="173.06" y="194.50" width="3.81" height="5.35" fill="#eed5c3"/>
<rect x="176.82" y="194.50" width="11.32" height="5.35" fill="#e7c1a6"/>
<rect x="188.10" y="194.50" width="3.81" height="5.35" fill="#f5f4f3"/>
<rect x="191.85" y="194.50" width="3.81" height="5.35" fill="#e6ebf2"/>
<rect x="195.61" y="194.50" width="3.81" height="5.35" fill="#f5f4f3"/>
<rect x="199.37" y="194.50" width="3.81" height="5.35" fill="#e6ebf2"/>
<rect x="203.13" y="194.50" width="3.81" height="5.35" fill="#e7c1a6"/>
<rect x="206.89" y="194.50" width="7.57" height="5.35" fill="#e6ebf2"/>
<rect x="214.40" y="194.50" width="3.81" height="5.35" fill="#e7c1a6"/>
<rect x="218.16" y="194.50" width="7.57" height="5.35" fill="#eed5c3"/>
<rect x="225.68" y="194.50" width="3.81" height="5.35" fill="#dcaa8a"/>
<rect x="229.43" y="194.50" width="3.81" height="5.35" fill="#e6ebf2"/>
<rect x="233.19" y="194.50" width="11.32" height="5.35" fill="#f5f4f3"/>
<rect x="244.47" y="194.50" width="3.81" height="5.35" fill="#f3e5da"/>
<rect x="248.22" y="194.50" width="3.81" height="5.35" fill="#e6ebf2"/>
<rect x="251.98" y="194.50" width="3.81" height="5.35" fill="#f5f4f3"/>
<rect x="255.74" y="194.50" width="3.81" height="5.35" fill="#5c0b21"/>
<rect x="259.50" y="194.50" width="7.57" height="5.35" fill="#a65548"/>
<rect x="267.01" y="194.50" width="3.81" height="5.35" fill="#e7c1a6"/>
<rect x="270.77" y="194.50" width="3.81" height="5.35" fill="#e6ebf2"/>
<rect x="274.53" y="194.50" width="3.81" height="5.35" fill="#f3e5da"/>
<rect x="278.29" y="194.50" width="7.57" height="5.35" fill="#e6ebf2"/>
<rect x="285.80" y="194.50" width="11.32" height="5.35" fill="#d2dfed"/>
<rect x="297.08" y="194.50" width="3.81" height="5.35" fill="#e6ebf2"/>
<rect x="300.84" y="194.50" width="3.81" height="5.35" fill="#d2dfed"/>
<rect x="304.60" y="194.50" width="7.57" height="5.35" fill="#e6ebf2"/>
<rect x="312.11" y="194.50" width="3.81" height="5.35" fill="#eed5c3"/>
<rect x="315.87" y="194.50" width="3.81" height="5.35" fill="#f5f4f3"/>
<rect x="319.63" y="194.50" width="7.57" height="5.35" fill="#e6ebf2"/>
<rect x="327.14" y="194.50" width="3.81" height="5.35" fill="#f3e5da"/>
<rect x="330.90" y="194.50" width="3.81" height="5.35" fill="#bd765d"/>
<rect x="334.66" y="194.50" width="3.81" height="5.35" fill="#f5f4f3"/>
<rect x="338.42" y="194.50" width="7.57" height="5.35" fill="#e6ebf2"/>
<rect x="345.93" y="194.50" width="3.81" height="5.35" fill="#f5f4f3"/>
<rect x="349.69" y="194.50" width="3.81" height="5.35" fill="#e6ebf2"/>
<rect x="353.45" y="194.50" width="3.81" height="5.35" fill="#f3e5da"/>
<rect x="357.21" y="194.50" width="3.81" height="5.35" fill="#e6ebf2"/>
<rect x="360.97" y="194.50" width="3.81" height="5.35" fill="#eed5c3"/>
<rect x="364.72" y="194.50" width="7.57" height="5.35" fill="#e6ebf2"/>
<rect x="372.24" y="194.50" width="3.81" height="5.35" fill="#f3e5da"/>
<rect x="376.00" y="194.50" width="3.81" height="5.35" fill="#e7c1a6"/>
<rect x="379.76" y="194.50" width="3.81" height="5.35" fill="#e6ebf2"/>
<rect x="383.51" y="194.50" width="3.81" height="5.35" fill="#f5f4f3"/>
<rect x="387.27" y="194.50" width="3.81" height="5.35" fill="#f3e5da"/>
<rect x="391.03" y="194.50" width="3.81" height="5.35" fill="#e6ebf2"/>
<rect x="394.79" y="194.50" width="3.81" height="5.35" fill="#eed5c3"/>
<rect x="398.55" y="194.50" width="11.32" height="5.35" fill="#e6ebf2"/>
<rect x="409.82" y="194.50" width="3.81" height="5.35" fill="#f5f4f3"/>
<rect x="413.58" y="194.50" width="3.81" height="5.35" fill="#e7c1a6"/>
<rect x="417.34" y="194.50" width="3.81" height="5.35" fill="#f5f4f3"/>
<rect x="421.09" y="194.50" width="7.57" height="5.35" fill="#e6ebf2"/>
<rect x="428.61" y="194.50" width="3.81" height="5.35" fill="#eed5c3"/>
<rect x="432.37" y="194.50" width="3.81" height="5.35" fill="#e6ebf2"/>
<rect x="436.13" y="194.50" width="3.81" height="5.35" fill="#eed5c3"/>
<rect x="439.88" y="194.50" width="3.81" height="5.35" fill="#e7c1a6"/>
<rect x="443.64" y="194.50" width="3.81" height="5.35" fill="#e6ebf2"/>
<rect x="143.00" y="199.79" width="3.81" height="5.35" fill="#f3e5da"/>
<rect x="146.76" y="199.79" width="3.81" height="5.35" fill="#cf9474"/>
<rect x="150.52" y="199.79" width="7.57" height="5.35" fill="#eed5c3"/>
<rect x="158.03" y="199.79" width="3.81" height="5.35" fill="#dcaa8a"/>
<rect x="161.79" y="199.79" width="3.81" height="5.35" fill="#5c0b21"/>
<rect x="165.55" y="199.79" width="3.81" height="5.35" fill="#f5f4f3"/>
<rect x="169.31" y="199.79" width="3.81" height="5.35" fill="#f3e5da"/>
<rect x="173.06" y="199.79" width="3.81" height="5.35" fill="#cf9474"/>
<rect x="176.82" y="199.79" width="7.57" height="5.35" fill="#eed5c3"/>
<rect x="184.34" y="199.79" width="3.81" height="5.35" fill="#cf9474"/>
<rect x="188.10" y="199.79" width="259.35" height="5.35" fill="#f5f4f3"/>
<rect x="143.00" y="205.09" width="7.57" height="5.35" fill="#f3e5da"/>
<rect x="150.52" y="205.09" width="3.81" height="5.35" fill="#eed5c3"/>
<rect x="154.27" y="205.09" width="7.57" height="5.35" fill="#f3e5da"/>
<rect x="161.79" y="205.09" width="3.81" height="5.35" fill="#5c0b21"/>
<rect x="165.55" y="205.09" width="7.57" height="5.35" fill="#f3e5da"/>
<rect x="173.06" y="205.09" width="15.08" height="5.35" fill="#eed5c3"/>
<rect x="188.10" y="205.09" width="139.10" height="5.35" fill="#f5f4f3"/>
<rect x="327.14" y="205.09" width="3.81" height="5.35" fill="#eed5c3"/>
<rect x="330.90" y="205.09" width="116.55" height="5.35" fill="#f5f4f3"/>
<rect x="143.00" y="210.39" width="3.81" height="5.35" fill="#f3e5da"/>
<rect x="146.76" y="210.39" width="3.81" height="5.35" fill="#e7c1a6"/>
<rect x="150.52" y="210.39" width="3.81" height="5.35" fill="#f3e5da"/>
<rect x="154.27" y="210.39" width="7.57" height="5.35" fill="#eed5c3"/>
<rect x="161.79" y="210.39" width="3.81" height="5.35" fill="#f3e5da"/>
<rect x="165.55" y="210.39" width="7.57" height="5.35" fill="#eed5c3"/>
<rect x="173.06" y="210.39" width="11.32" height="5.35" fill="#e7c1a6"/>
<rect x="184.34" y="210.39" width="3.81" height="5.35" fill="#eed5c3"/>
<rect x="188.10" y="210.39" width="22.60" height="5.35" fill="#f5f4f3"/>
<rect x="210.64" y="210.39" width="3.81" height="5.35" fill="#f3e5da"/>
<rect x="214.40" y="210.39" width="7.57" height="5.35" fill="#f5f4f3"/>
<rect x="221.92" y="210.39" width="7.57" height="5.35" fill="#f3e5da"/>
<rect x="229.43" y="210.39" width="3.81" height="5.35" fill="#f5f4f3"/>
<rect x="233.19" y="210.39" width="3.81" height="5.35" fill="#eed5c3"/>
<rect x="236.95" y="210.39" width="22.60" height="5.35" fill="#f5f4f3"/>
<rect x="259.50" y="210.39" width="3.81" height="5.35" fill="#eed5c3"/>
<rect x="263.26" y="210.39" width="3.81" height="5.35" fill="#f5f4f3"/>
<rect x="267.01" y="210.39" width="3.81" height="5.35" fill="#dcaa8a"/>
<rect x="270.77" y="210.39" width="3.81" height="5.35" fill="#f5f4f3"/>
<rect x="274.53" y="210.39" width="3.81" height="5.35" fill="#f3e5da"/>
<rect x="278.29" y="210.39" width="22.60" height="5.35" fill="#f5f4f3"/>
<rect x="300.84" y="210.39" width="3.81" height="5.35" fill="#f3e5da"/>
<rect x="304.60" y="210.39" width="11.32" height="5.35" fill="#f5f4f3"/>
<rect x="315.87" y="210.39" width="3.81" height="5.35" fill="#f3e5da"/>
<rect x="319.63" y="210.39" width="33.87" height="5.35" fill="#f5f4f3"/>
<rect x="353.45" y="210.39" width="3.81" height="5.35" fill="#f3e5da"/>
<rect x="357.21" y="210.39" width="52.66" height="5.35" fill="#f5f4f3"/>
<rect x="409.82" y="210.39" width="3.81" height="5.35" fill="#5c0b21"/>
<rect x="413.58" y="210.39" width="3.81" height="5.35" fill="#f5f4f3"/>
<rect x="417.34" y="210.39" width="3.81" height="5.35" fill="#f3e5da"/>
<rect x="421.09" y="210.39" width="15.08" height="5.35" fill="#f5f4f3"/>
<rect x="436.13" y="210.39" width="7.57" height="5.35" fill="#f3e5da"/>
<rect x="443.64" y="210.39" width="3.81" height="5.35" fill="#f5f4f3"/>
<rect x="143.00" y="215.69" width="7.57" height="5.35" fill="#a65548"/>
<rect x="150.52" y="215.69" width="3.81" height="5.35" fill="#e7c1a6"/>
<rect x="154.27" y="215.69" width="3.81" height="5.35" fill="#a65548"/>
<rect x="158.03" y="215.69" width="3.81" height="5.35" fill="#bd765d"/>
<rect x="161.79" y="215.69" width="3.81" height="5.35" fill="#f3e5da"/>
<rect x="165.55" y="215.69" width="11.32" height="5.35" fill="#bd765d"/>
<rect x="176.82" y="215.69" width="3.81" height="5.35" fill="#dcaa8a"/>
<rect x="180.58" y="215.69" width="11.32" height="5.35" fill="#bd765d"/>
<rect x="191.85" y="215.69" width="3.81" height="5.35" fill="#e7c1a6"/>
<rect x="195.61" y="215.69" width="3.81" height="5.35" fill="#eed5c3"/>
<rect x="199.37" y="215.69" width="3.81" height="5.35" fill="#f3e5da"/>
<rect x="203.13" y="215.69" width="7.57" height="5.35" fill="#e6ebf2"/>
<rect x="210.64" y="215.69" width="3.81" height="5.35" fill="#eed5c3"/>
<rect x="214.40" y="215.69" width="3.81" height="5.35" fill="#d2dfed"/>
<rect x="218.16" y="215.69" width="3.81" height="5.35" fill="#e6ebf2"/>
<rect x="221.92" y="215.69" width="3.81" height="5.35" fill="#f5f4f3"/>
<rect x="225.68" y="215.69" width="3.81" height="5.35" fill="#d2dfed"/>
<rect x="229.43" y="215.69" width="3.81" height="5.35" fill="#f5f4f3"/>
<rect x="233.19" y="215.69" width="3.81" height="5.35" fill="#eed5c3"/>
<rect x="236.95" y="215.69" width="3.81" height="5.35" fill="#d2dfed"/>
<rect x="240.71" y="215.69" width="7.57" height="5.35" fill="#f5f4f3"/>
<rect x="248.22" y="215.69" width="3.81" height="5.35" fill="#eed5c3"/>
<rect x="251.98" y="215.69" width="7.57" height="5.35" fill="#e6ebf2"/>
<rect x="259.50" y="215.69" width="3.81" height="5.35" fill="#d2dfed"/>
<rect x="263.26" y="215.69" width="3.81" height="5.35" fill="#eed5c3"/>
<rect x="267.01" y="215.69" width="3.81" height="5.35" fill="#e6ebf2"/>
<rect x="270.77" y="215.69" width="3.81" height="5.35" fill="#f3e5da"/>
<rect x="274.53" y="215.69" width="3.81" height="5.35" fill="#eed5c3"/>
<rect x="278.29" y="215.69" width="3.81" height="5.35" fill="#dcaa8a"/>
<rect x="282.05" y="215.69" width="3.81" height="5.35" fill="#f3e5da"/>
<rect x="285.80" y="215.69" width="7.57" height="5.35" fill="#e7c1a6"/>
<rect x="293.32" y="215.69" width="3.81" height="5.35" fill="#f5f4f3"/>
<rect x="297.08" y="215.69" width="3.81" height="5.35" fill="#f3e5da"/>
<rect x="300.84" y="215.69" width="3.81" height="5.35" fill="#e7c1a6"/>
<rect x="304.60" y="215.69" width="7.57" height="5.35" fill="#d2dfed"/>
<rect x="312.11" y="215.69" width="3.81" height="5.35" fill="#e6ebf2"/>
<rect x="315.87" y="215.69" width="3.81" height="5.35" fill="#f3e5da"/>
<rect x="319.63" y="215.69" width="7.57" height="5.35" fill="#d2dfed"/>
<rect x="327.14" y="215.69" width="3.81" height="5.35" fill="#e6ebf2"/>
<rect x="330.90" y="215.69" width="3.81" height="5.35" fill="#f3e5da"/>
<rect x="334.66" y="215.69" width="3.81" height="5.35" fill="#f5f4f3"/>
<rect x="338.42" y="215.69" width="3.81" height="5.35" fill="#cf9474"/>
<rect x="342.18" y="215.69" width="3.81" height="5.35" fill="#e6ebf2"/>
<rect x="345.93" y="215.69" width="3.81" height="5.35" fill="#cf9474"/>
<rect x="349.69" y="215.69" width="3.81" height="5.35" fill="#f3e5da"/>
<rect x="353.45" y="215.69" width="3.81" height="5.35" fill="#e6ebf2"/>
<rect x="357.21" y="215.69" width="7.57" height="5.35" fill="#d2dfed"/>
<rect x="364.72" y="215.69" width="3.81" height="5.35" fill="#e6ebf2"/>
<rect x="368.48" y="215.69" width="3.81" height="5.35" fill="#d2dfed"/>
<rect x="372.24" y="215.69" width="11.32" height="5.35" fill="#e6ebf2"/>
<rect x="383.51" y="215.69" width="3.81" height="5.35" fill="#d2dfed"/>
<rect x="387.27" y="215.69" width="3.81" height="5.35" fill="#e6ebf2"/>
<rect x="391.03" y="215.69" width="7.57" height="5.35" fill="#d2dfed"/>
<rect x="398.55" y="215.69" width="3.81" height="5.35" fill="#e6ebf2"/>
<rect x="402.30" y="215.69" width="3.81" height="5.35" fill="#d2dfed"/>
<rect x="406.06" y="215.69" width="7.57" height="5.35" fill="#e6ebf2"/>
<rect x="413.58" y="215.69" width="15.08" height="5.35" fill="#d2dfed"/>
<rect x="428.61" y="215.69" width="3.81" height="5.35" fill="#e7c1a6"/>
<rect x="432.37" y="215.69" width="3.81" height="5.35" fill="#d2dfed"/>
<rect x="436.13" y="215.69" width="3.81" height="5.35" fill="#e6ebf2"/>
<rect x="439.88" y="215.69" width="3.81" height="5.35" fill="#e7c1a6"/>
<rect x="443.64" y="215.69" width="3.81" height="5.35" fill="#e6ebf2"/>
<rect x="143.00" y="220.98" width="7.57" height="5.35" fill="#bd765d"/>
<rect x="150.52" y="220.98" width="3.81" height="5.35" fill="#eed5c3"/>
<rect x="154.27" y="220.98" width="7.57" height="5.35" fill="#cf9474"/>
<rect x="161.79" y="220.98" width="3.81" height="5.35" fill="#f3e5da"/>
<rect x="165.55" y="220.98" width="7.57" height="5.35" fill="#e7c1a6"/>
<rect x="173.06" y="220.98" width="3.81" height="5.35" fill="#dcaa8a"/>
<rect x="176.82" y="220.98" width="3.81" height="5.35" fill="#eed5c3"/>
<rect x="180.58" y="220.98" width="3.81" height="5.35" fill="#e7c1a6"/>
<rect x="184.34" y="220.98" width="7.57" height="5.35" fill="#dcaa8a"/>
<rect x="191.85" y="220.98" width="3.81" height="5.35" fill="#eed5c3"/>
<rect x="195.61" y="220.98" width="7.57" height="5.35" fill="#f3e5da"/>
<rect x="203.13" y="220.98" width="3.81" height="5.35" fill="#d2dfed"/>
<rect x="206.89" y="220.98" width="3.81" height="5.35" fill="#e6ebf2"/>
<rect x="210.64" y="220.98" width="3.81" height="5.35" fill="#f3e5da"/>
<rect x="214.40" y="220.98" width="3.81" height="5.35" fill="#d2dfed"/>
<rect x="218.16" y="220.98" width="7.57" height="5.35" fill="#f5f4f3"/>
<rect x="225.68" y="220.98" width="3.81" height="5.35" fill="#d2dfed"/>
<rect x="229.43" y="220.98" width="3.81" height="5.35" fill="#e6ebf2"/>
<rect x="233.19" y="220.98" width="3.81" height="5.35" fill="#f5f4f3"/>
<rect x="236.95" y="220.98" width="3.81" height="5.35" fill="#d2dfed"/>
<rect x="240.71" y="220.98" width="3.81" height="5.35" fill="#f3e5da"/>
<rect x="244.47" y="220.98" width="3.81" height="5.35" fill="#f5f4f3"/>
<rect x="248.22" y="220.98" width="3.81" height="5.35" fill="#e7c1a6"/>
<rect x="251.98" y="220.98" width="3.81" height="5.35" fill="#e6ebf2"/>
<rect x="255.74" y="220.98" width="3.81" height="5.35" fill="#f3e5da"/>
<rect x="259.50" y="220.98" width="3.81" height="5.35" fill="#d2dfed"/>
<rect x="263.26" y="220.98" width="3.81" height="5.35" fill="#eed5c3"/>
<rect x="267.01" y="220.98" width="3.81" height="5.35" fill="#f5f4f3"/>
<rect x="270.77" y="220.98" width="3.81" height="5.35" fill="#f3e5da"/>
<rect x="274.53" y="220.98" width="3.81" height="5.35" fill="#eed5c3"/>
<rect x="278.29" y="220.98" width="3.81" height="5.35" fill="#e7c1a6"/>
<rect x="282.05" y="220.98" width="3.81" height="5.35" fill="#f5f4f3"/>
<rect x="285.80" y="220.98" width="7.57" height="5.35" fill="#eed5c3"/>
<rect x="293.32" y="220.98" width="3.81" height="5.35" fill="#f5f4f3"/>
<rect x="297.08" y="220.98" width="3.81" height="5.35" fill="#f3e5da"/>
<rect x="300.84" y="220.98" width="3.81" height="5.35" fill="#dcaa8a"/>
<rect x="304.60" y="220.98" width="7.57" height="5.35" fill="#e6ebf2"/>
<rect x="312.11" y="220.98" width="3.81" height="5.35" fill="#f3e5da"/>
<rect x="315.87" y="220.98" width="3.81" height="5.35" fill="#eed5c3"/>
<rect x="319.63" y="220.98" width="3.81" height="5.35" fill="#f3e5da"/>
<rect x="323.39" y="220.98" width="3.81" height="5.35" fill="#d2dfed"/>
<rect x="327.14" y="220.98" width="3.81" height="5.35" fill="#e6ebf2"/>
<rect x="330.90" y="220.98" width="3.81" height="5.35" fill="#882e36"/>
<rect x="334.66" y="220.98" width="7.57" height="5.35" fill="#f3e5da"/>
<rect x="342.18" y="220.98" width="3.81" height="5.35" fill="#dcaa8a"/>
<rect x="345.93" y="220.98" width="3.81" height="5.35" fill="#f5f4f3"/>
<rect x="349.69" y="220.98" width="3.81" height="5.35" fill="#eed5c3"/>
<rect x="353.45" y="220.98" width="3.81" height="5.35" fill="#e6ebf2"/>
<rect x="357.21" y="220.98" width="7.57" height="5.35" fill="#d2dfed"/>
<rect x="364.72" y="220.98" width="3.81" height="5.35" fill="#eed5c3"/>
<rect x="368.48" y="220.98" width="18.84" height="5.35" fill="#e6ebf2"/>
<rect x="387.27" y="220.98" width="7.57" height="5.35" fill="#d2dfed"/>
<rect x="394.79" y="220.98" width="3.81" height="5.35" fill="#e6ebf2"/>
<rect x="398.55" y="220.98" width="3.81" height="5.35" fill="#f3e5da"/>
<rect x="402.30" y="220.98" width="3.81" height="5.35" fill="#e6ebf2"/>
<rect x="406.06" y="220.98" width="3.81" height="5.35" fill="#f5f4f3"/>
<rect x="409.82" y="220.98" width="7.57" height="5.35" fill="#e6ebf2"/>
<rect x="417.34" y="220.98" width="11.32" height="5.35" fill="#d2dfed"/>
<rect x="428.61" y="220.98" width="3.81" height="5.35" fill="#f5f4f3"/>
<rect x="432.37" y="220.98" width="7.57" height="5.35" fill="#e6ebf2"/>
<rect x="439.88" y="220.98" width="3.81" height="5.35" fill="#dcaa8a"/>
<rect x="443.64" y="220.98" width="3.81" height="5.35" fill="#e6ebf2"/>
<rect x="143.00" y="226.28" width="3.81" height="5.35" fill="#f5f4f3"/>
<rect x="146.76" y="226.28" width="3.81" height="5.35" fill="#f3e5da"/>
<rect x="150.52" y="226.28" width="3.81" height="5.35" fill="#e6ebf2"/>
<rect x="154.27" y="226.28" width="3.81" height="5.35" fill="#f5f4f3"/>
<rect x="158.03" y="226.28" width="3.81" height="5.35" fill="#f3e5da"/>
<rect x="161.79" y="226.28" width="3.81" height="5.35" fill="#bd765d"/>
<rect x="165.55" y="226.28" width="3.81" height="5.35" fill="#e7c1a6"/>
<rect x="169.31" y="226.28" width="3.81" height="5.35" fill="#f3e5da"/>
<rect x="173.06" y="226.28" width="3.81" height="5.35" fill="#eed5c3"/>
<rect x="176.82" y="226.28" width="7.57" height="5.35" fill="#f3e5da"/>
<rect x="184.34" y="226.28" width="3.81" height="5.35" fill="#eed5c3"/>
<rect x="188.10" y="226.28" width="3.81" height="5.35" fill="#d2dfed"/>
<rect x="191.85" y="226.28" width="3.81" height="5.35" fill="#eed5c3"/>
<rect x="195.61" y="226.28" width="3.81" height="5.35" fill="#f5f4f3"/>
<rect x="199.37" y="226.28" width="3.81" height="5.35" fill="#f3e5da"/>
<rect x="203.13" y="226.28" width="3.81" height="5.35" fill="#e6ebf2"/>
<rect x="206.89" y="226.28" width="7.57" height="5.35" fill="#d2dfed"/>
<rect x="214.40" y="226.28" width="3.81" height="5.35" fill="#e6ebf2"/>
<rect x="218.16" y="226.28" width="3.81" height="5.35" fill="#eed5c3"/>
<rect x="221.92" y="226.28" width="3.81" height="5.35" fill="#e6ebf2"/>
<rect x="225.68" y="226.28" width="3.81" height="5.35" fill="#d2dfed"/>
<rect x="229.43" y="226.28" width="3.81" height="5.35" fill="#f5f4f3"/>
<rect x="233.19" y="226.28" width="7.57" height="5.35" fill="#f3e5da"/>
<rect x="240.71" y="226.28" width="3.81" height="5.35" fill="#e7c1a6"/>
<rect x="244.47" y="226.28" width="3.81" height="5.35" fill="#f5f4f3"/>
<rect x="248.22" y="226.28" width="3.81" height="5.35" fill="#f3e5da"/>
<rect x="251.98" y="226.28" width="3.81" height="5.35" fill="#e6ebf2"/>
<rect x="255.74" y="226.28" width="3.81" height="5.35" fill="#f3e5da"/>
<rect x="259.50" y="226.28" width="3.81" height="5.35" fill="#e7c1a6"/>
<rect x="263.26" y="226.28" width="3.81" height="5.35" fill="#f5f4f3"/>
<rect x="267.01" y="226.28" width="7.57" height="5.35" fill="#f3e5da"/>
<rect x="274.53" y="226.28" width="3.81" height="5.35" fill="#eed5c3"/>
<rect x="278.29" y="226.28" width="3.81" height="5.35" fill="#e6ebf2"/>
<rect x="282.05" y="226.28" width="3.81" height="5.35" fill="#eed5c3"/>
<rect x="285.80" y="226.28" width="3.81" height="5.35" fill="#f5f4f3"/>
<rect x="289.56" y="226.28" width="3.81" height="5.35" fill="#eed5c3"/>
<rect x="293.32" y="226.28" width="3.81" height="5.35" fill="#e6ebf2"/>
<rect x="297.08" y="226.28" width="3.81" height="5.35" fill="#d2dfed"/>
<rect x="300.84" y="226.28" width="3.81" height="5.35" fill="#882e36"/>
<rect x="304.60" y="226.28" width="3.81" height="5.35" fill="#e6ebf2"/>
<rect x="308.35" y="226.28" width="3.81" height="5.35" fill="#f5f4f3"/>
<rect x="312.11" y="226.28" width="7.57" height="5.35" fill="#d2dfed"/>
<rect x="319.63" y="226.28" width="7.57" height="5.35" fill="#e6ebf2"/>
<rect x="327.14" y="226.28" width="3.81" height="5.35" fill="#eed5c3"/>
<rect x="330.90" y="226.28" width="7.57" height="5.35" fill="#f5f4f3"/>
<rect x="338.42" y="226.28" width="3.81" height="5.35" fill="#eed5c3"/>
<rect x="342.18" y="226.28" width="3.81" height="5.35" fill="#e7c1a6"/>
<rect x="345.93" y="226.28" width="3.81" height="5.35" fill="#f5f4f3"/>
<rect x="349.69" y="226.28" width="7.57" height="5.35" fill="#e6ebf2"/>
<rect x="357.21" y="226.28" width="3.81" height="5.35" fill="#f5f4f3"/>
<rect x="360.97" y="226.28" width="3.81" height="5.35" fill="#eed5c3"/>
<rect x="364.72" y="226.28" width="3.81" height="5.35" fill="#e6ebf2"/>
<rect x="368.48" y="226.28" width="7.57" height="5.35" fill="#f5f4f3"/>
<rect x="376.00" y="226.28" width="11.32" height="5.35" fill="#e6ebf2"/>
<rect x="387.27" y="226.28" width="3.81" height="5.35" fill="#eed5c3"/>
<rect x="391.03" y="226.28" width="3.81" height="5.35" fill="#f3e5da"/>
<rect x="394.79" y="226.28" width="3.81" height="5.35" fill="#f5f4f3"/>
<rect x="398.55" y="226.28" width="3.81" height="5.35" fill="#dcaa8a"/>
<rect x="402.30" y="226.28" width="3.81" height="5.35" fill="#f5f4f3"/>
<rect x="406.06" y="226.28" width="3.81" height="5.35" fill="#e7c1a6"/>
<rect x="409.82" y="226.28" width="7.57" height="5.35" fill="#e6ebf2"/>
<rect x="417.34" y="226.28" width="3.81" height="5.35" fill="#f5f4f3"/>
<rect x="421.09" y="226.28" width="7.57" height="5.35" fill="#e6ebf2"/>
<rect x="428.61" y="226.28" width="3.81" height="5.35" fill="#eed5c3"/>
<rect x="432.37" y="226.28" width="7.57" height="5.35" fill="#e6ebf2"/>
<rect x="439.88" y="226.28" width="3.81" height="5.35" fill="#f3e5da"/>
<rect x="443.64" y="226.28" width="3.81" height="5.35" fill="#f5f4f3"/>
<rect x="143.00" y="231.58" width="3.81" height="5.35" fill="#e6ebf2"/>
<rect x="146.76" y="231.58" width="3.81" height="5.35" fill="#e7c1a6"/>
<rect x="150.52" y="231.58" width="3.81" height="5.35" fill="#f5f4f3"/>
<rect x="154.27" y="231.58" width="3.81" height="5.35" fill="#e6ebf2"/>
<rect x="158.03" y="231.58" width="7.57" height="5.35" fill="#f3e5da"/>
<rect x="165.55" y="231.58" width="3.81" height="5.35" fill="#eed5c3"/>
<rect x="169.31" y="231.58" width="3.81" height="5.35" fill="#f5f4f3"/>
<rect x="173.06" y="231.58" width="15.08" height="5.35" fill="#f3e5da"/>
<rect x="188.10" y="231.58" width="3.81" height="5.35" fill="#d2dfed"/>
<rect x="191.85" y="231.58" width="3.81" height="5.35" fill="#f3e5da"/>
<rect x="195.61" y="231.58" width="3.81" height="5.35" fill="#f5f4f3"/>
<rect x="199.37" y="231.58" width="3.81" height="5.35" fill="#f3e5da"/>
<rect x="203.13" y="231.58" width="3.81" height="5.35" fill="#e6ebf2"/>
<rect x="206.89" y="231.58" width="7.57" height="5.35" fill="#d2dfed"/>
<rect x="214.40" y="231.58" width="3.81" height="5.35" fill="#e6ebf2"/>
<rect x="218.16" y="231.58" width="3.81" height="5.35" fill="#eed5c3"/>
<rect x="221.92" y="231.58" width="3.81" height="5.35" fill="#d2dfed"/>
<rect x="225.68" y="231.58" width="3.81" height="5.35" fill="#e6ebf2"/>
<rect x="229.43" y="231.58" width="7.57" height="5.35" fill="#f5f4f3"/>
<rect x="236.95" y="231.58" width="3.81" height="5.35" fill="#f3e5da"/>
<rect x="240.71" y="231.58" width="3.81" height="5.35" fill="#e7c1a6"/>
<rect x="244.47" y="231.58" width="11.32" height="5.35" fill="#f5f4f3"/>
<rect x="255.74" y="231.58" width="3.81" height="5.35" fill="#e6ebf2"/>
<rect x="259.50" y="231.58" width="3.81" height="5.35" fill="#eed5c3"/>
<rect x="263.26" y="231.58" width="3.81" height="5.35" fill="#d2dfed"/>
<rect x="267.01" y="231.58" width="3.81" height="5.35" fill="#e7c1a6"/>
<rect x="270.77" y="231.58" width="3.81" height="5.35" fill="#f5f4f3"/>
<rect x="274.53" y="231.58" width="3.81" height="5.35" fill="#e7c1a6"/>
<rect x="278.29" y="231.58" width="3.81" height="5.35" fill="#e6ebf2"/>
<rect x="282.05" y="231.58" width="3.81" height="5.35" fill="#dcaa8a"/>
<rect x="285.80" y="231.58" width="3.81" height="5.35" fill="#f5f4f3"/>
<rect x="289.56" y="231.58" width="3.81" height="5.35" fill="#eed5c3"/>
<rect x="293.32" y="231.58" width="3.81" height="5.35" fill="#e6ebf2"/>
<rect x="297.08" y="231.58" width="3.81" height="5.35" fill="#f3e5da"/>
<rect x="300.84" y="231.58" width="3.81" height="5.35" fill="#a65548"/>
<rect x="304.60" y="231.58" width="11.32" height="5.35" fill="#d2dfed"/>
<rect x="315.87" y="231.58" width="3.81" height="5.35" fill="#f5f4f3"/>
<rect x="319.63" y="231.58" width="3.81" height="5.35" fill="#dcaa8a"/>
<rect x="323.39" y="231.58" width="3.81" height="5.35" fill="#eed5c3"/>
<rect x="327.14" y="231.58" width="3.81" height="5.35" fill="#f3e5da"/>
<rect x="330.90" y="231.58" width="3.81" height="5.35" fill="#e7c1a6"/>
<rect x="334.66" y="231.58" width="7.57" height="5.35" fill="#f5f4f3"/>
<rect x="342.18" y="231.58" width="3.81" height="5.35" fill="#eed5c3"/>
<rect x="345.93" y="231.58" width="7.57" height="5.35" fill="#e6ebf2"/>
<rect x="353.45" y="231.58" width="3.81" height="5.35" fill="#f5f4f3"/>
<rect x="357.21" y="231.58" width="3.81" height="5.35" fill="#e6ebf2"/>
<rect x="360.97" y="231.58" width="3.81" height="5.35" fill="#f3e5da"/>
<rect x="364.72" y="231.58" width="3.81" height="5.35" fill="#b3cbe4"/>
<rect x="368.48" y="231.58" width="3.81" height="5.35" fill="#e6ebf2"/>
<rect x="372.24" y="231.58" width="3.81" height="5.35" fill="#f5f4f3"/>
<rect x="376.00" y="231.58" width="3.81" height="5.35" fill="#e6ebf2"/>
<rect x="379.76" y="231.58" width="3.81" height="5.35" fill="#d2dfed"/>
<rect x="383.51" y="231.58" width="3.81" height="5.35" fill="#e6ebf2"/>
<rect x="387.27" y="231.58" width="3.81" height="5.35" fill="#f5f4f3"/>
<rect x="391.03" y="231.58" width="7.57" height="5.35" fill="#e6ebf2"/>
<rect x="398.55" y="231.58" width="3.81" height="5.35" fill="#f3e5da"/>
<rect x="402.30" y="231.58" width="3.81" height="5.35" fill="#f5f4f3"/>
<rect x="406.06" y="231.58" width="3.81" height="5.35" fill="#f3e5da"/>
<rect x="409.82" y="231.58" width="7.57" height="5.35" fill="#e6ebf2"/>
<rect x="417.34" y="231.58" width="3.81" height="5.35" fill="#d2dfed"/>
<rect x="421.09" y="231.58" width="7.57" height="5.35" fill="#e6ebf2"/>
<rect x="428.61" y="231.58" width="3.81" height="5.35" fill="#f3e5da"/>
<rect x="432.37" y="231.58" width="7.57" height="5.35" fill="#e6ebf2"/>
<rect x="439.88" y="231.58" width="3.81" height="5.35" fill="#f5f4f3"/>
<rect x="443.64" y="231.58" width="3.81" height="5.35" fill="#e6ebf2"/>
<rect x="143.00" y="236.88" width="3.81" height="5.35" fill="#e6ebf2"/>
<rect x="146.76" y="236.88" width="11.32" height="5.35" fill="#f3e5da"/>
<rect x="158.03" y="236.88" width="3.81" height="5.35" fill="#f5f4f3"/>
<rect x="161.79" y="236.88" width="3.81" height="5.35" fill="#cf9474"/>
<rect x="165.55" y="236.88" width="18.84" height="5.35" fill="#f3e5da"/>
<rect x="184.34" y="236.88" width="3.81" height="5.35" fill="#eed5c3"/>
<rect x="188.10" y="236.88" width="3.81" height="5.35" fill="#cf9474"/>
<rect x="191.85" y="236.88" width="3.81" height="5.35" fill="#f3e5da"/>
<rect x="195.61" y="236.88" width="3.81" height="5.35" fill="#d2dfed"/>
<rect x="199.37" y="236.88" width="3.81" height="5.35" fill="#f5f4f3"/>
<rect x="203.13" y="236.88" width="3.81" height="5.35" fill="#eed5c3"/>
<rect x="206.89" y="236.88" width="3.81" height="5.35" fill="#f3e5da"/>
<rect x="210.64" y="236.88" width="3.81" height="5.35" fill="#eed5c3"/>
<rect x="214.40" y="236.88" width="3.81" height="5.35" fill="#f5f4f3"/>
<rect x="218.16" y="236.88" width="3.81" height="5.35" fill="#eed5c3"/>
<rect x="221.92" y="236.88" width="3.81" height="5.35" fill="#e6ebf2"/>
<rect x="225.68" y="236.88" width="3.81" height="5.35" fill="#eed5c3"/>
<rect x="229.43" y="236.88" width="11.32" height="5.35" fill="#f3e5da"/>
<rect x="240.71" y="236.88" width="11.32" height="5.35" fill="#e6ebf2"/>
<rect x="251.98" y="236.88" width="3.81" height="5.35" fill="#f3e5da"/>
<rect x="255.74" y="236.88" width="3.81" height="5.35" fill="#e7c1a6"/>
<rect x="259.50" y="236.88" width="3.81" height="5.35" fill="#f5f4f3"/>
<rect x="263.26" y="236.88" width="7.57" height="5.35" fill="#eed5c3"/>
<rect x="270.77" y="236.88" width="3.81" height="5.35" fill="#f5f4f3"/>
<rect x="274.53" y="236.88" width="7.57" height="5.35" fill="#f3e5da"/>
<rect x="282.05" y="236.88" width="3.81" height="5.35" fill="#eed5c3"/>
<rect x="285.80" y="236.88" width="3.81" height="5.35" fill="#f5f4f3"/>
<rect x="289.56" y="236.88" width="3.81" height="5.35" fill="#eed5c3"/>
<rect x="293.32" y="236.88" width="3.81" height="5.35" fill="#f5f4f3"/>
<rect x="297.08" y="236.88" width="3.81" height="5.35" fill="#f3e5da"/>
<rect x="300.84" y="236.88" width="3.81" height="5.35" fill="#bd765d"/>
<rect x="304.60" y="236.88" width="7.57" height="5.35" fill="#d2dfed"/>
<rect x="312.11" y="236.88" width="3.81" height="5.35" fill="#e6ebf2"/>
<rect x="315.87" y="236.88" width="3.81" height="5.35" fill="#d2dfed"/>
<rect x="319.63" y="236.88" width="3.81" height="5.35" fill="#e7c1a6"/>
<rect x="323.39" y="236.88" width="3.81" height="5.35" fill="#b3cbe4"/>
<rect x="327.14" y="236.88" width="3.81" height="5.35" fill="#f5f4f3"/>
<rect x="330.90" y="236.88" width="3.81" height="5.35" fill="#e6ebf2"/>
<rect x="334.66" y="236.88" width="3.81" height="5.35" fill="#f3e5da"/>
<rect x="338.42" y="236.88" width="7.57" height="5.35" fill="#eed5c3"/>
<rect x="345.93" y="236.88" width="3.81" height="5.35" fill="#e6ebf2"/>
<rect x="349.69" y="236.88" width="3.81" height="5.35" fill="#eed5c3"/>
<rect x="353.45" y="236.88" width="7.57" height="5.35" fill="#f5f4f3"/>
<rect x="360.97" y="236.88" width="7.57" height="5.35" fill="#e6ebf2"/>
<rect x="368.48" y="236.88" width="3.81" height="5.35" fill="#d2dfed"/>
<rect x="372.24" y="236.88" width="3.81" height="5.35" fill="#e6ebf2"/>
<rect x="376.00" y="236.88" width="3.81" height="5.35" fill="#f5f4f3"/>
<rect x="379.76" y="236.88" width="3.81" height="5.35" fill="#f3e5da"/>
<rect x="383.51" y="236.88" width="3.81" height="5.35" fill="#e6ebf2"/>
<rect x="387.27" y="236.88" width="3.81" height="5.35" fill="#d2dfed"/>
<rect x="391.03" y="236.88" width="3.81" height="5.35" fill="#e6ebf2"/>
<rect x="394.79" y="236.88" width="3.81" height="5.35" fill="#d2dfed"/>
<rect x="398.55" y="236.88" width="3.81" height="5.35" fill="#f5f4f3"/>
<rect x="402.30" y="236.88" width="3.81" height="5.35" fill="#e6ebf2"/>
<rect x="406.06" y="236.88" width="11.32" height="5.35" fill="#d2dfed"/>
<rect x="417.34" y="236.88" width="3.81" height="5.35" fill="#e7c1a6"/>
<rect x="421.09" y="236.88" width="26.36" height="5.35" fill="#e6ebf2"/>
<rect x="143.00" y="242.17" width="3.81" height="5.35" fill="#f3e5da"/>
<rect x="146.76" y="242.17" width="18.84" height="5.35" fill="#eed5c3"/>
<rect x="165.55" y="242.17" width="7.57" height="5.35" fill="#f3e5da"/>
<rect x="173.06" y="242.17" width="3.81" height="5.35" fill="#eed5c3"/>
<rect x="176.82" y="242.17" width="3.81" height="5.35" fill="#f3e5da"/>
<rect x="180.58" y="242.17" width="7.57" height="5.35" fill="#eed5c3"/>
<rect x="188.10" y="242.17" width="3.81" height="5.35" fill="#cf9474"/>
<rect x="191.85" y="242.17" width="11.32" height="5.35" fill="#f5f4f3"/>
<rect x="203.13" y="242.17" width="3.81" height="5.35" fill="#dcaa8a"/>
<rect x="206.89" y="242.17" width="7.57" height="5.35" fill="#f3e5da"/>
<rect x="214.40" y="242.17" width="3.81" height="5.35" fill="#f5f4f3"/>
<rect x="218.16" y="242.17" width="3.81" height="5.35" fill="#eed5c3"/>
<rect x="221.92" y="242.17" width="3.81" height="5.35" fill="#f3e5da"/>
<rect x="225.68" y="242.17" width="7.57" height="5.35" fill="#eed5c3"/>
<rect x="233.19" y="242.17" width="3.81" height="5.35" fill="#f3e5da"/>
<rect x="236.95" y="242.17" width="3.81" height="5.35" fill="#f5f4f3"/>
<rect x="240.71" y="242.17" width="11.32" height="5.35" fill="#e6ebf2"/>
<rect x="251.98" y="242.17" width="3.81" height="5.35" fill="#f5f4f3"/>
<rect x="255.74" y="242.17" width="3.81" height="5.35" fill="#f3e5da"/>
<rect x="259.50" y="242.17" width="3.81" height="5.35" fill="#f5f4f3"/>
<rect x="263.26" y="242.17" width="7.57" height="5.35" fill="#e6ebf2"/>
<rect x="270.77" y="242.17" width="11.32" height="5.35" fill="#f3e5da"/>
<rect x="282.05" y="242.17" width="3.81" height="5.35" fill="#eed5c3"/>
<rect x="285.80" y="242.17" width="3.81" height="5.35" fill="#f5f4f3"/>
<rect x="289.56" y="242.17" width="3.81" height="5.35" fill="#eed5c3"/>
<rect x="293.32" y="242.17" width="3.81" height="5.35" fill="#f3e5da"/>
<rect x="297.08" y="242.17" width="3.81" height="5.35" fill="#bd765d"/>
<rect x="300.84" y="242.17" width="3.81" height="5.35" fill="#a65548"/>
<rect x="304.60" y="242.17" width="3.81" height="5.35" fill="#d2dfed"/>
<rect x="308.35" y="242.17" width="3.81" height="5.35" fill="#e6ebf2"/>
<rect x="312.11" y="242.17" width="3.81" height="5.35" fill="#f5f4f3"/>
<rect x="315.87" y="242.17" width="3.81" height="5.35" fill="#f3e5da"/>
<rect x="319.63" y="242.17" width="11.32" height="5.35" fill="#e6ebf2"/>
<rect x="330.90" y="242.17" width="3.81" height="5.35" fill="#b3cbe4"/>
<rect x="334.66" y="242.17" width="3.81" height="5.35" fill="#f5f4f3"/>
<rect x="338.42" y="242.17" width="3.81" height="5.35" fill="#e6ebf2"/>
<rect x="342.18" y="242.17" width="3.81" height="5.35" fill="#d2dfed"/>
<rect x="345.93" y="242.17" width="3.81" height="5.35" fill="#e6ebf2"/>
<rect x="349.69" y="242.17" width="3.81" height="5.35" fill="#eed5c3"/>
<rect x="353.45" y="242.17" width="3.81" height="5.35" fill="#f3e5da"/>
<rect x="357.21" y="242.17" width="3.81" height="5.35" fill="#d2dfed"/>
<rect x="360.97" y="242.17" width="11.32" height="5.35" fill="#e6ebf2"/>
<rect x="372.24" y="242.17" width="3.81" height="5.35" fill="#f5f4f3"/>
<rect x="376.00" y="242.17" width="3.81" height="5.35" fill="#f3e5da"/>
<rect x="379.76" y="242.17" width="3.81" height="5.35" fill="#e6ebf2"/>
<rect x="383.51" y="242.17" width="7.57" height="5.35" fill="#d2dfed"/>
<rect x="391.03" y="242.17" width="3.81" height="5.35" fill="#e6ebf2"/>
<rect x="394.79" y="242.17" width="3.81" height="5.35" fill="#d2dfed"/>
<rect x="398.55" y="242.17" width="3.81" height="5.35" fill="#f5f4f3"/>
<rect x="402.30" y="242.17" width="11.32" height="5.35" fill="#e6ebf2"/>
<rect x="413.58" y="242.17" width="3.81" height="5.35" fill="#d2dfed"/>
<rect x="417.34" y="242.17" width="7.57" height="5.35" fill="#e6ebf2"/>
<rect x="424.85" y="242.17" width="3.81" height="5.35" fill="#f3e5da"/>
<rect x="428.61" y="242.17" width="3.81" height="5.35" fill="#f5f4f3"/>
<rect x="432.37" y="242.17" width="3.81" height="5.35" fill="#b3cbe4"/>
<rect x="436.13" y="242.17" width="11.32" height="5.35" fill="#e6ebf2"/>
<rect x="143.00" y="247.47" width="3.81" height="5.35" fill="#f5f4f3"/>
<rect x="146.76" y="247.47" width="3.81" height="5.35" fill="#f3e5da"/>
<rect x="150.52" y="247.47" width="3.81" height="5.35" fill="#e7c1a6"/>
<rect x="154.27" y="247.47" width="7.57" height="5.35" fill="#f5f4f3"/>
<rect x="161.79" y="247.47" width="3.81" height="5.35" fill="#f3e5da"/>
<rect x="165.55" y="247.47" width="3.81" height="5.35" fill="#e6ebf2"/>
<rect x="169.31" y="247.47" width="3.81" height="5.35" fill="#f5f4f3"/>
<rect x="173.06" y="247.47" width="7.57" height="5.35" fill="#f3e5da"/>
<rect x="180.58" y="247.47" width="3.81" height="5.35" fill="#eed5c3"/>
<rect x="184.34" y="247.47" width="3.81" height="5.35" fill="#f3e5da"/>
<rect x="188.10" y="247.47" width="3.81" height="5.35" fill="#eed5c3"/>
<rect x="191.85" y="247.47" width="3.81" height="5.35" fill="#5c0b21"/>
<rect x="195.61" y="247.47" width="3.81" height="5.35" fill="#f5f4f3"/>
<rect x="199.37" y="247.47" width="3.81" height="5.35" fill="#eed5c3"/>
<rect x="203.13" y="247.47" width="3.81" height="5.35" fill="#f3e5da"/>
<rect x="206.89" y="247.47" width="3.81" height="5.35" fill="#eed5c3"/>
<rect x="210.64" y="247.47" width="3.81" height="5.35" fill="#f5f4f3"/>
<rect x="214.40" y="247.47" width="15.08" height="5.35" fill="#f3e5da"/>
<rect x="229.43" y="247.47" width="3.81" height="5.35" fill="#f5f4f3"/>
<rect x="233.19" y="247.47" width="3.81" height="5.35" fill="#f3e5da"/>
<rect x="236.95" y="247.47" width="3.81" height="5.35" fill="#f5f4f3"/>
<rect x="240.71" y="247.47" width="7.57" height="5.35" fill="#f3e5da"/>
<rect x="248.22" y="247.47" width="3.81" height="5.35" fill="#f5f4f3"/>
<rect x="251.98" y="247.47" width="3.81" height="5.35" fill="#e6ebf2"/>
<rect x="255.74" y="247.47" width="3.81" height="5.35" fill="#f3e5da"/>
<rect x="259.50" y="247.47" width="3.81" height="5.35" fill="#f5f4f3"/>
<rect x="263.26" y="247.47" width="3.81" height="5.35" fill="#f3e5da"/>
<rect x="267.01" y="247.47" width="7.57" height="5.35" fill="#f5f4f3"/>
<rect x="274.53" y="247.47" width="7.57" height="5.35" fill="#f3e5da"/>
<rect x="282.05" y="247.47" width="3.81" height="5.35" fill="#eed5c3"/>
<rect x="285.80" y="247.47" width="3.81" height="5.35" fill="#f5f4f3"/>
<rect x="289.56" y="247.47" width="7.57" height="5.35" fill="#f3e5da"/>
<rect x="297.08" y="247.47" width="3.81" height="5.35" fill="#f5f4f3"/>
<rect x="300.84" y="247.47" width="15.08" height="5.35" fill="#e6ebf2"/>
<rect x="315.87" y="247.47" width="7.57" height="5.35" fill="#f5f4f3"/>
<rect x="323.39" y="247.47" width="3.81" height="5.35" fill="#e6ebf2"/>
<rect x="327.14" y="247.47" width="3.81" height="5.35" fill="#f5f4f3"/>
<rect x="330.90" y="247.47" width="3.81" height="5.35" fill="#e6ebf2"/>
<rect x="334.66" y="247.47" width="3.81" height="5.35" fill="#f5f4f3"/>
<rect x="338.42" y="247.47" width="7.57" height="5.35" fill="#e6ebf2"/>
<rect x="345.93" y="247.47" width="3.81" height="5.35" fill="#f5f4f3"/>
<rect x="349.69" y="247.47" width="3.81" height="5.35" fill="#f3e5da"/>
<rect x="353.45" y="247.47" width="3.81" height="5.35" fill="#eed5c3"/>
<rect x="357.21" y="247.47" width="11.32" height="5.35" fill="#e6ebf2"/>
<rect x="368.48" y="247.47" width="7.57" height="5.35" fill="#f5f4f3"/>
<rect x="376.00" y="247.47" width="3.81" height="5.35" fill="#f3e5da"/>
<rect x="379.76" y="247.47" width="3.81" height="5.35" fill="#f5f4f3"/>
<rect x="383.51" y="247.47" width="11.32" height="5.35" fill="#e6ebf2"/>
<rect x="394.79" y="247.47" width="3.81" height="5.35" fill="#e7c1a6"/>
<rect x="398.55" y="247.47" width="3.81" height="5.35" fill="#f5f4f3"/>
<rect x="402.30" y="247.47" width="3.81" height="5.35" fill="#e6ebf2"/>
<rect x="406.06" y="247.47" width="3.81" height="5.35" fill="#dcaa8a"/>
<rect x="409.82" y="247.47" width="3.81" height="5.35" fill="#e6ebf2"/>
<rect x="413.58" y="247.47" width="3.81" height="5.35" fill="#f3e5da"/>
<rect x="417.34" y="247.47" width="3.81" height="5.35" fill="#f5f4f3"/>
<rect x="421.09" y="247.47" width="3.81" height="5.35" fill="#f3e5da"/>
<rect x="424.85" y="247.47" width="11.32" height="5.35" fill="#e6ebf2"/>
<rect x="436.13" y="247.47" width="3.81" height="5.35" fill="#f5f4f3"/>
<rect x="439.88" y="247.47" width="3.81" height="5.35" fill="#e6ebf2"/>
<rect x="443.64" y="247.47" width="3.81" height="5.35" fill="#e7c1a6"/>
<rect x="143.00" y="252.77" width="7.57" height="5.35" fill="#f3e5da"/>
<rect x="150.52" y="252.77" width="7.57" height="5.35" fill="#e7c1a6"/>
<rect x="158.03" y="252.77" width="3.81" height="5.35" fill="#f5f4f3"/>
<rect x="161.79" y="252.77" width="3.81" height="5.35" fill="#f3e5da"/>
<rect x="165.55" y="252.77" width="3.81" height="5.35" fill="#f5f4f3"/>
<rect x="169.31" y="252.77" width="26.36" height="5.35" fill="#f3e5da"/>
<rect x="195.61" y="252.77" width="3.81" height="5.35" fill="#5c0b21"/>
<rect x="199.37" y="252.77" width="3.81" height="5.35" fill="#f5f4f3"/>
<rect x="203.13" y="252.77" width="3.81" height="5.35" fill="#eed5c3"/>
<rect x="206.89" y="252.77" width="3.81" height="5.35" fill="#f3e5da"/>
<rect x="210.64" y="252.77" width="7.57" height="5.35" fill="#f5f4f3"/>
<rect x="218.16" y="252.77" width="11.32" height="5.35" fill="#f3e5da"/>
<rect x="229.43" y="252.77" width="3.81" height="5.35" fill="#f5f4f3"/>
<rect x="233.19" y="252.77" width="3.81" height="5.35" fill="#f3e5da"/>
<rect x="236.95" y="252.77" width="7.57" height="5.35" fill="#f5f4f3"/>
<rect x="244.47" y="252.77" width="3.81" height="5.35" fill="#f3e5da"/>
<rect x="248.22" y="252.77" width="3.81" height="5.35" fill="#e6ebf2"/>
<rect x="251.98" y="252.77" width="11.32" height="5.35" fill="#f5f4f3"/>
<rect x="263.26" y="252.77" width="3.81" height="5.35" fill="#e6ebf2"/>
<rect x="267.01" y="252.77" width="7.57" height="5.35" fill="#f5f4f3"/>
<rect x="274.53" y="252.77" width="7.57" height="5.35" fill="#f3e5da"/>
<rect x="282.05" y="252.77" width="3.81" height="5.35" fill="#eed5c3"/>
<rect x="285.80" y="252.77" width="3.81" height="5.35" fill="#f5f4f3"/>
<rect x="289.56" y="252.77" width="3.81" height="5.35" fill="#f3e5da"/>
<rect x="293.32" y="252.77" width="3.81" height="5.35" fill="#e7c1a6"/>
<rect x="297.08" y="252.77" width="7.57" height="5.35" fill="#f5f4f3"/>
<rect x="304.60" y="252.77" width="7.57" height="5.35" fill="#e6ebf2"/>
<rect x="312.11" y="252.77" width="18.84" height="5.35" fill="#f5f4f3"/>
<rect x="330.90" y="252.77" width="3.81" height="5.35" fill="#e6ebf2"/>
<rect x="334.66" y="252.77" width="15.08" height="5.35" fill="#f5f4f3"/>
<rect x="349.69" y="252.77" width="3.81" height="5.35" fill="#eed5c3"/>
<rect x="353.45" y="252.77" width="3.81" height="5.35" fill="#e7c1a6"/>
<rect x="357.21" y="252.77" width="7.57" height="5.35" fill="#e6ebf2"/>
<rect x="364.72" y="252.77" width="11.32" height="5.35" fill="#f5f4f3"/>
<rect x="376.00" y="252.77" width="3.81" height="5.35" fill="#eed5c3"/>
<rect x="379.76" y="252.77" width="3.81" height="5.35" fill="#e6ebf2"/>
<rect x="383.51" y="252.77" width="3.81" height="5.35" fill="#f5f4f3"/>
<rect x="387.27" y="252.77" width="3.81" height="5.35" fill="#e6ebf2"/>
<rect x="391.03" y="252.77" width="3.81" height="5.35" fill="#f3e5da"/>
<rect x="394.79" y="252.77" width="3.81" height="5.35" fill="#eed5c3"/>
<rect x="398.55" y="252.77" width="7.57" height="5.35" fill="#e6ebf2"/>
<rect x="406.06" y="252.77" width="3.81" height="5.35" fill="#eed5c3"/>
<rect x="409.82" y="252.77" width="3.81" height="5.35" fill="#f5f4f3"/>
<rect x="413.58" y="252.77" width="3.81" height="5.35" fill="#eed5c3"/>
<rect x="417.34" y="252.77" width="11.32" height="5.35" fill="#e6ebf2"/>
<rect x="428.61" y="252.77" width="3.81" height="5.35" fill="#f5f4f3"/>
<rect x="432.37" y="252.77" width="3.81" height="5.35" fill="#e6ebf2"/>
<rect x="436.13" y="252.77" width="3.81" height="5.35" fill="#eed5c3"/>
<rect x="439.88" y="252.77" width="7.57" height="5.35" fill="#e6ebf2"/>
<rect x="143.00" y="258.07" width="7.57" height="5.35" fill="#f5f4f3"/>
<rect x="150.52" y="258.07" width="3.81" height="5.35" fill="#e7c1a6"/>
<rect x="154.27" y="258.07" width="3.81" height="5.35" fill="#eed5c3"/>
<rect x="158.03" y="258.07" width="7.57" height="5.35" fill="#e6ebf2"/>
<rect x="165.55" y="258.07" width="3.81" height="5.35" fill="#f5f4f3"/>
<rect x="169.31" y="258.07" width="3.81" height="5.35" fill="#e6ebf2"/>
<rect x="173.06" y="258.07" width="7.57" height="5.35" fill="#f5f4f3"/>
<rect x="180.58" y="258.07" width="7.57" height="5.35" fill="#f3e5da"/>
<rect x="188.10" y="258.07" width="3.81" height="5.35" fill="#e7c1a6"/>
<rect x="191.85" y="258.07" width="3.81" height="5.35" fill="#dcaa8a"/>
<rect x="195.61" y="258.07" width="3.81" height="5.35" fill="#5c0b21"/>
<rect x="199.37" y="258.07" width="3.81" height="5.35" fill="#e6ebf2"/>
<rect x="203.13" y="258.07" width="7.57" height="5.35" fill="#eed5c3"/>
<rect x="210.64" y="258.07" width="7.57" height="5.35" fill="#f3e5da"/>
<rect x="218.16" y="258.07" width="3.81" height="5.35" fill="#e6ebf2"/>
<rect x="221.92" y="258.07" width="7.57" height="5.35" fill="#e7c1a6"/>
<rect x="229.43" y="258.07" width="3.81" height="5.35" fill="#f5f4f3"/>
<rect x="233.19" y="258.07" width="3.81" height="5.35" fill="#dcaa8a"/>
<rect x="236.95" y="258.07" width="3.81" height="5.35" fill="#f5f4f3"/>
<rect x="240.71" y="258.07" width="7.57" height="5.35" fill="#f3e5da"/>
<rect x="248.22" y="258.07" width="7.57" height="5.35" fill="#f5f4f3"/>
<rect x="255.74" y="258.07" width="18.84" height="5.35" fill="#e6ebf2"/>
<rect x="274.53" y="258.07" width="3.81" height="5.35" fill="#f3e5da"/>
<rect x="278.29" y="258.07" width="7.57" height="5.35" fill="#e7c1a6"/>
<rect x="285.80" y="258.07" width="7.57" height="5.35" fill="#e6ebf2"/>
<rect x="293.32" y="258.07" width="3.81" height="5.35" fill="#dcaa8a"/>
<rect x="297.08" y="258.07" width="3.81" height="5.35" fill="#f3e5da"/>
<rect x="300.84" y="258.07" width="3.81" height="5.35" fill="#e6ebf2"/>
<rect x="304.60" y="258.07" width="3.81" height="5.35" fill="#d2dfed"/>
<rect x="308.35" y="258.07" width="3.81" height="5.35" fill="#e6ebf2"/>
<rect x="312.11" y="258.07" width="3.81" height="5.35" fill="#eed5c3"/>
<rect x="315.87" y="258.07" width="3.81" height="5.35" fill="#f5f4f3"/>
<rect x="319.63" y="258.07" width="3.81" height="5.35" fill="#dcaa8a"/>
<rect x="323.39" y="258.07" width="26.36" height="5.35" fill="#e6ebf2"/>
<rect x="349.69" y="258.07" width="3.81" height="5.35" fill="#eed5c3"/>
<rect x="353.45" y="258.07" width="3.81" height="5.35" fill="#e7c1a6"/>
<rect x="357.21" y="258.07" width="3.81" height="5.35" fill="#e6ebf2"/>
<rect x="360.97" y="258.07" width="3.81" height="5.35" fill="#d2dfed"/>
<rect x="364.72" y="258.07" width="7.57" height="5.35" fill="#e6ebf2"/>
<rect x="372.24" y="258.07" width="3.81" height="5.35" fill="#f5f4f3"/>
<rect x="376.00" y="258.07" width="7.57" height="5.35" fill="#e7c1a6"/>
<rect x="383.51" y="258.07" width="11.32" height="5.35" fill="#e6ebf2"/>
<rect x="394.79" y="258.07" width="3.81" height="5.35" fill="#eed5c3"/>
<rect x="398.55" y="258.07" width="3.81" height="5.35" fill="#e6ebf2"/>
<rect x="402.30" y="258.07" width="3.81" height="5.35" fill="#f5f4f3"/>
<rect x="406.06" y="258.07" width="3.81" height="5.35" fill="#eed5c3"/>
<rect x="409.82" y="258.07" width="3.81" height="5.35" fill="#e6ebf2"/>
<rect x="413.58" y="258.07" width="3.81" height="5.35" fill="#f3e5da"/>
<rect x="417.34" y="258.07" width="7.57" height="5.35" fill="#f5f4f3"/>
<rect x="424.85" y="258.07" width="11.32" height="5.35" fill="#e6ebf2"/>
<rect x="436.13" y="258.07" width="3.81" height="5.35" fill="#f3e5da"/>
<rect x="439.88" y="258.07" width="3.81" height="5.35" fill="#f5f4f3"/>
<rect x="443.64" y="258.07" width="3.81" height="5.35" fill="#eed5c3"/>
<rect x="143.00" y="263.36" width="7.57" height="5.35" fill="#f3e5da"/>
<rect x="150.52" y="263.36" width="7.57" height="5.35" fill="#eed5c3"/>
<rect x="158.03" y="263.36" width="3.81" height="5.35" fill="#f3e5da"/>
<rect x="161.79" y="263.36" width="3.81" height="5.35" fill="#dcaa8a"/>
<rect x="165.55" y="263.36" width="3.81" height="5.35" fill="#f5f4f3"/>
<rect x="169.31" y="263.36" width="11.32" height="5.35" fill="#eed5c3"/>
<rect x="180.58" y="263.36" width="3.81" height="5.35" fill="#f3e5da"/>
<rect x="184.34" y="263.36" width="3.81" height="5.35" fill="#eed5c3"/>
<rect x="188.10" y="263.36" width="3.81" height="5.35" fill="#f5f4f3"/>
<rect x="191.85" y="263.36" width="3.81" height="5.35" fill="#e7c1a6"/>
<rect x="195.61" y="263.36" width="3.81" height="5.35" fill="#bd765d"/>
<rect x="199.37" y="263.36" width="7.57" height="5.35" fill="#f5f4f3"/>
<rect x="206.89" y="263.36" width="7.57" height="5.35" fill="#f3e5da"/>
<rect x="214.40" y="263.36" width="11.32" height="5.35" fill="#f5f4f3"/>
<rect x="225.68" y="263.36" width="3.81" height="5.35" fill="#f3e5da"/>
<rect x="229.43" y="263.36" width="11.32" height="5.35" fill="#f5f4f3"/>
<rect x="240.71" y="263.36" width="3.81" height="5.35" fill="#eed5c3"/>
<rect x="244.47" y="263.36" width="30.11" height="5.35" fill="#f5f4f3"/>
<rect x="274.53" y="263.36" width="3.81" height="5.35" fill="#f3e5da"/>
<rect x="278.29" y="263.36" width="3.81" height="5.35" fill="#f5f4f3"/>
<rect x="282.05" y="263.36" width="3.81" height="5.35" fill="#e7c1a6"/>
<rect x="285.80" y="263.36" width="3.81" height="5.35" fill="#f3e5da"/>
<rect x="289.56" y="263.36" width="7.57" height="5.35" fill="#f5f4f3"/>
<rect x="297.08" y="263.36" width="3.81" height="5.35" fill="#f3e5da"/>
<rect x="300.84" y="263.36" width="26.36" height="5.35" fill="#f5f4f3"/>
<rect x="327.14" y="263.36" width="3.81" height="5.35" fill="#5c0b21"/>
<rect x="330.90" y="263.36" width="18.84" height="5.35" fill="#f5f4f3"/>
<rect x="349.69" y="263.36" width="3.81" height="5.35" fill="#f3e5da"/>
<rect x="353.45" y="263.36" width="3.81" height="5.35" fill="#eed5c3"/>
<rect x="357.21" y="263.36" width="26.36" height="5.35" fill="#f5f4f3"/>
<rect x="383.51" y="263.36" width="3.81" height="5.35" fill="#eed5c3"/>
<rect x="387.27" y="263.36" width="3.81" height="5.35" fill="#f3e5da"/>
<rect x="391.03" y="263.36" width="15.08" height="5.35" fill="#f5f4f3"/>
<rect x="406.06" y="263.36" width="3.81" height="5.35" fill="#eed5c3"/>
<rect x="409.82" y="263.36" width="37.63" height="5.35" fill="#f5f4f3"/>
<rect x="143.00" y="268.66" width="48.90" height="5.35" fill="#f3e5da"/>
<rect x="191.85" y="268.66" width="7.57" height="5.35" fill="#f5f4f3"/>
<rect x="199.37" y="268.66" width="15.08" height="5.35" fill="#f3e5da"/>
<rect x="214.40" y="268.66" width="3.81" height="5.35" fill="#e6ebf2"/>
<rect x="218.16" y="268.66" width="7.57" height="5.35" fill="#f3e5da"/>
<rect x="225.68" y="268.66" width="3.81" height="5.35" fill="#e6ebf2"/>
<rect x="229.43" y="268.66" width="7.57" height="5.35" fill="#f3e5da"/>
<rect x="236.95" y="268.66" width="3.81" height="5.35" fill="#e6ebf2"/>
<rect x="240.71" y="268.66" width="7.57" height="5.35" fill="#f3e5da"/>
<rect x="248.22" y="268.66" width="7.57" height="5.35" fill="#f5f4f3"/>
<rect x="255.74" y="268.66" width="11.32" height="5.35" fill="#f3e5da"/>
<rect x="267.01" y="268.66" width="7.57" height="5.35" fill="#f5f4f3"/>
<rect x="274.53" y="268.66" width="7.57" height="5.35" fill="#e6ebf2"/>
<rect x="282.05" y="268.66" width="3.81" height="5.35" fill="#f5f4f3"/>
<rect x="285.80" y="268.66" width="15.08" height="5.35" fill="#f3e5da"/>
<rect x="300.84" y="268.66" width="3.81" height="5.35" fill="#8fb2d8"/>
<rect x="304.60" y="268.66" width="3.81" height="5.35" fill="#f5f4f3"/>
<rect x="308.35" y="268.66" width="3.81" height="5.35" fill="#b3cbe4"/>
<rect x="312.11" y="268.66" width="7.57" height="5.35" fill="#e6ebf2"/>
<rect x="319.63" y="268.66" width="3.81" height="5.35" fill="#d2dfed"/>
<rect x="323.39" y="268.66" width="3.81" height="5.35" fill="#e6ebf2"/>
<rect x="327.14" y="268.66" width="3.81" height="5.35" fill="#f3e5da"/>
<rect x="330.90" y="268.66" width="3.81" height="5.35" fill="#d2dfed"/>
<rect x="334.66" y="268.66" width="3.81" height="5.35" fill="#f5f4f3"/>
<rect x="338.42" y="268.66" width="3.81" height="5.35" fill="#8fb2d8"/>
<rect x="342.18" y="268.66" width="3.81" height="5.35" fill="#f5f4f3"/>
<rect x="345.93" y="268.66" width="3.81" height="5.35" fill="#e6ebf2"/>
<rect x="349.69" y="268.66" width="3.81" height="5.35" fill="#f3e5da"/>
<rect x="353.45" y="268.66" width="3.81" height="5.35" fill="#f5f4f3"/>
<rect x="357.21" y="268.66" width="7.57" height="5.35" fill="#d2dfed"/>
<rect x="364.72" y="268.66" width="3.81" height="5.35" fill="#f5f4f3"/>
<rect x="368.48" y="268.66" width="3.81" height="5.35" fill="#e6ebf2"/>
<rect x="372.24" y="268.66" width="3.81" height="5.35" fill="#d2dfed"/>
<rect x="376.00" y="268.66" width="3.81" height="5.35" fill="#f5f4f3"/>
<rect x="379.76" y="268.66" width="3.81" height="5.35" fill="#e6ebf2"/>
<rect x="383.51" y="268.66" width="3.81" height="5.35" fill="#f5f4f3"/>
<rect x="387.27" y="268.66" width="3.81" height="5.35" fill="#f3e5da"/>
<rect x="391.03" y="268.66" width="3.81" height="5.35" fill="#e6ebf2"/>
<rect x="394.79" y="268.66" width="3.81" height="5.35" fill="#f5f4f3"/>
<rect x="398.55" y="268.66" width="3.81" height="5.35" fill="#f3e5da"/>
<rect x="402.30" y="268.66" width="15.08" height="5.35" fill="#f5f4f3"/>
<rect x="417.34" y="268.66" width="3.81" height="5.35" fill="#e6ebf2"/>
<rect x="421.09" y="268.66" width="7.57" height="5.35" fill="#d2dfed"/>
<rect x="428.61" y="268.66" width="3.81" height="5.35" fill="#e6ebf2"/>
<rect x="432.37" y="268.66" width="3.81" height="5.35" fill="#f5f4f3"/>
<rect x="436.13" y="268.66" width="3.81" height="5.35" fill="#d2dfed"/>
<rect x="439.88" y="268.66" width="7.57" height="5.35" fill="#f5f4f3"/>
<rect x="143.00" y="273.96" width="3.81" height="5.35" fill="#f5f4f3"/>
<rect x="146.76" y="273.96" width="7.57" height="5.35" fill="#f3e5da"/>
<rect x="154.27" y="273.96" width="3.81" height="5.35" fill="#f5f4f3"/>
<rect x="158.03" y="273.96" width="3.81" height="5.35" fill="#f3e5da"/>
<rect x="161.79" y="273.96" width="3.81" height="5.35" fill="#f5f4f3"/>
<rect x="165.55" y="273.96" width="7.57" height="5.35" fill="#f3e5da"/>
<rect x="173.06" y="273.96" width="3.81" height="5.35" fill="#eed5c3"/>
<rect x="176.82" y="273.96" width="15.08" height="5.35" fill="#f3e5da"/>
<rect x="191.85" y="273.96" width="3.81" height="5.35" fill="#cf9474"/>
<rect x="195.61" y="273.96" width="3.81" height="5.35" fill="#5c0b21"/>
<rect x="199.37" y="273.96" width="3.81" height="5.35" fill="#f5f4f3"/>
<rect x="203.13" y="273.96" width="3.81" height="5.35" fill="#e6ebf2"/>
<rect x="206.89" y="273.96" width="3.81" height="5.35" fill="#f5f4f3"/>
<rect x="210.64" y="273.96" width="3.81" height="5.35" fill="#f3e5da"/>
<rect x="214.40" y="273.96" width="3.81" height="5.35" fill="#e6ebf2"/>
<rect x="218.16" y="273.96" width="7.57" height="5.35" fill="#f5f4f3"/>
<rect x="225.68" y="273.96" width="7.57" height="5.35" fill="#e6ebf2"/>
<rect x="233.19" y="273.96" width="3.81" height="5.35" fill="#f5f4f3"/>
<rect x="236.95" y="273.96" width="7.57" height="5.35" fill="#f3e5da"/>
<rect x="244.47" y="273.96" width="3.81" height="5.35" fill="#eed5c3"/>
<rect x="248.22" y="273.96" width="3.81" height="5.35" fill="#f3e5da"/>
<rect x="251.98" y="273.96" width="3.81" height="5.35" fill="#f5f4f3"/>
<rect x="255.74" y="273.96" width="3.81" height="5.35" fill="#f3e5da"/>
<rect x="259.50" y="273.96" width="3.81" height="5.35" fill="#f5f4f3"/>
<rect x="263.26" y="273.96" width="7.57" height="5.35" fill="#eed5c3"/>
<rect x="270.77" y="273.96" width="3.81" height="5.35" fill="#f5f4f3"/>
<rect x="274.53" y="273.96" width="3.81" height="5.35" fill="#eed5c3"/>
<rect x="278.29" y="273.96" width="3.81" height="5.35" fill="#f5f4f3"/>
<rect x="282.05" y="273.96" width="3.81" height="5.35" fill="#e7c1a6"/>
<rect x="285.80" y="273.96" width="3.81" height="5.35" fill="#f3e5da"/>
<rect x="289.56" y="273.96" width="3.81" height="5.35" fill="#eed5c3"/>
<rect x="293.32" y="273.96" width="3.81" height="5.35" fill="#f5f4f3"/>
<rect x="297.08" y="273.96" width="15.08" height="5.35" fill="#e6ebf2"/>
<rect x="312.11" y="273.96" width="3.81" height="5.35" fill="#f3e5da"/>
<rect x="315.87" y="273.96" width="7.57" height="5.35" fill="#f5f4f3"/>
<rect x="323.39" y="273.96" width="3.81" height="5.35" fill="#e6ebf2"/>
<rect x="327.14" y="273.96" width="3.81" height="5.35" fill="#e7c1a6"/>
<rect x="330.90" y="273.96" width="3.81" height="5.35" fill="#f3e5da"/>
<rect x="334.66" y="273.96" width="11.32" height="5.35" fill="#e6ebf2"/>
<rect x="345.93" y="273.96" width="3.81" height="5.35" fill="#eed5c3"/>
<rect x="349.69" y="273.96" width="3.81" height="5.35" fill="#e6ebf2"/>
<rect x="353.45" y="273.96" width="3.81" height="5.35" fill="#e7c1a6"/>
<rect x="357.21" y="273.96" width="3.81" height="5.35" fill="#e6ebf2"/>
<rect x="360.97" y="273.96" width="7.57" height="5.35" fill="#f5f4f3"/>
<rect x="368.48" y="273.96" width="11.32" height="5.35" fill="#e6ebf2"/>
<rect x="379.76" y="273.96" width="33.87" height="5.35" fill="#f5f4f3"/>
<rect x="413.58" y="273.96" width="3.81" height="5.35" fill="#eed5c3"/>
<rect x="417.34" y="273.96" width="3.81" height="5.35" fill="#f5f4f3"/>
<rect x="421.09" y="273.96" width="15.08" height="5.35" fill="#e6ebf2"/>
<rect x="436.13" y="273.96" width="7.57" height="5.35" fill="#f5f4f3"/>
<rect x="443.64" y="273.96" width="3.81" height="5.35" fill="#eed5c3"/>
<rect x="143.00" y="279.26" width="3.81" height="5.35" fill="#f3e5da"/>
<rect x="146.76" y="279.26" width="3.81" height="5.35" fill="#f5f4f3"/>
<rect x="150.52" y="279.26" width="3.81" height="5.35" fill="#eed5c3"/>
<rect x="154.27" y="279.26" width="3.81" height="5.35" fill="#e7c1a6"/>
<rect x="158.03" y="279.26" width="3.81" height="5.35" fill="#f3e5da"/>
<rect x="161.79" y="279.26" width="3.81" height="5.35" fill="#f5f4f3"/>
<rect x="165.55" y="279.26" width="3.81" height="5.35" fill="#e7c1a6"/>
<rect x="169.31" y="279.26" width="3.81" height="5.35" fill="#f5f4f3"/>
<rect x="173.06" y="279.26" width="7.57" height="5.35" fill="#f3e5da"/>
<rect x="180.58" y="279.26" width="3.81" height="5.35" fill="#eed5c3"/>
<rect x="184.34" y="279.26" width="3.81" height="5.35" fill="#f5f4f3"/>
<rect x="188.10" y="279.26" width="7.57" height="5.35" fill="#f3e5da"/>
<rect x="195.61" y="279.26" width="3.81" height="5.35" fill="#f5f4f3"/>
<rect x="199.37" y="279.26" width="3.81" height="5.35" fill="#f3e5da"/>
<rect x="203.13" y="279.26" width="7.57" height="5.35" fill="#e6ebf2"/>
<rect x="210.64" y="279.26" width="3.81" height="5.35" fill="#f3e5da"/>
<rect x="214.40" y="279.26" width="7.57" height="5.35" fill="#e6ebf2"/>
<rect x="221.92" y="279.26" width="3.81" height="5.35" fill="#f5f4f3"/>
<rect x="225.68" y="279.26" width="7.57" height="5.35" fill="#eed5c3"/>
<rect x="233.19" y="279.26" width="3.81" height="5.35" fill="#cf9474"/>
<rect x="236.95" y="279.26" width="3.81" height="5.35" fill="#f3e5da"/>
<rect x="240.71" y="279.26" width="3.81" height="5.35" fill="#f5f4f3"/>
<rect x="244.47" y="279.26" width="3.81" height="5.35" fill="#f3e5da"/>
<rect x="248.22" y="279.26" width="7.57" height="5.35" fill="#f5f4f3"/>
<rect x="255.74" y="279.26" width="3.81" height="5.35" fill="#f3e5da"/>
<rect x="259.50" y="279.26" width="3.81" height="5.35" fill="#f5f4f3"/>
<rect x="263.26" y="279.26" width="3.81" height="5.35" fill="#e6ebf2"/>
<rect x="267.01" y="279.26" width="3.81" height="5.35" fill="#f3e5da"/>
<rect x="270.77" y="279.26" width="11.32" height="5.35" fill="#f5f4f3"/>
<rect x="282.05" y="279.26" width="3.81" height="5.35" fill="#f3e5da"/>
<rect x="285.80" y="279.26" width="3.81" height="5.35" fill="#e6ebf2"/>
<rect x="289.56" y="279.26" width="3.81" height="5.35" fill="#f5f4f3"/>
<rect x="293.32" y="279.26" width="3.81" height="5.35" fill="#bd765d"/>
<rect x="297.08" y="279.26" width="3.81" height="5.35" fill="#f3e5da"/>
<rect x="300.84" y="279.26" width="3.81" height="5.35" fill="#eed5c3"/>
<rect x="304.60" y="279.26" width="7.57" height="5.35" fill="#e6ebf2"/>
<rect x="312.11" y="279.26" width="3.81" height="5.35" fill="#f3e5da"/>
<rect x="315.87" y="279.26" width="3.81" height="5.35" fill="#e6ebf2"/>
<rect x="319.63" y="279.26" width="3.81" height="5.35" fill="#f5f4f3"/>
<rect x="323.39" y="279.26" width="3.81" height="5.35" fill="#5c0b21"/>
<rect x="327.14" y="279.26" width="3.81" height="5.35" fill="#e6ebf2"/>
<rect x="330.90" y="279.26" width="3.81" height="5.35" fill="#f5f4f3"/>
<rect x="334.66" y="279.26" width="3.81" height="5.35" fill="#e6ebf2"/>
<rect x="338.42" y="279.26" width="7.57" height="5.35" fill="#f3e5da"/>
<rect x="345.93" y="279.26" width="3.81" height="5.35" fill="#e7c1a6"/>
<rect x="349.69" y="279.26" width="18.84" height="5.35" fill="#e6ebf2"/>
<rect x="368.48" y="279.26" width="3.81" height="5.35" fill="#d2dfed"/>
<rect x="372.24" y="279.26" width="7.57" height="5.35" fill="#e6ebf2"/>
<rect x="379.76" y="279.26" width="3.81" height="5.35" fill="#f5f4f3"/>
<rect x="383.51" y="279.26" width="3.81" height="5.35" fill="#e6ebf2"/>
<rect x="387.27" y="279.26" width="3.81" height="5.35" fill="#f5f4f3"/>
<rect x="391.03" y="279.26" width="3.81" height="5.35" fill="#e6ebf2"/>
<rect x="394.79" y="279.26" width="3.81" height="5.35" fill="#f5f4f3"/>
<rect x="398.55" y="279.26" width="3.81" height="5.35" fill="#e6ebf2"/>
<rect x="402.30" y="279.26" width="3.81" height="5.35" fill="#f5f4f3"/>
<rect x="406.06" y="279.26" width="3.81" height="5.35" fill="#e7c1a6"/>
<rect x="409.82" y="279.26" width="3.81" height="5.35" fill="#e6ebf2"/>
<rect x="413.58" y="279.26" width="3.81" height="5.35" fill="#f5f4f3"/>
<rect x="417.34" y="279.26" width="3.81" height="5.35" fill="#f3e5da"/>
<rect x="421.09" y="279.26" width="3.81" height="5.35" fill="#f5f4f3"/>
<rect x="424.85" y="279.26" width="7.57" height="5.35" fill="#e6ebf2"/>
<rect x="432.37" y="279.26" width="3.81" height="5.35" fill="#f5f4f3"/>
<rect x="436.13" y="279.26" width="3.81" height="5.35" fill="#f3e5da"/>
<rect x="439.88" y="279.26" width="7.57" height="5.35" fill="#e6ebf2"/>
<rect x="143.00" y="284.55" width="7.57" height="5.35" fill="#e6ebf2"/>
<rect x="150.52" y="284.55" width="3.81" height="5.35" fill="#f3e5da"/>
<rect x="154.27" y="284.55" width="3.81" height="5.35" fill="#dcaa8a"/>
<rect x="158.03" y="284.55" width="3.81" height="5.35" fill="#5c0b21"/>
<rect x="161.79" y="284.55" width="3.81" height="5.35" fill="#f5f4f3"/>
<rect x="165.55" y="284.55" width="18.84" height="5.35" fill="#e6ebf2"/>
<rect x="184.34" y="284.55" width="3.81" height="5.35" fill="#eed5c3"/>
<rect x="188.10" y="284.55" width="7.57" height="5.35" fill="#e6ebf2"/>
<rect x="195.61" y="284.55" width="3.81" height="5.35" fill="#882e36"/>
<rect x="199.37" y="284.55" width="3.81" height="5.35" fill="#f5f4f3"/>
<rect x="203.13" y="284.55" width="3.81" height="5.35" fill="#dcaa8a"/>
<rect x="206.89" y="284.55" width="11.32" height="5.35" fill="#f5f4f3"/>
<rect x="218.16" y="284.55" width="3.81" height="5.35" fill="#f3e5da"/>
<rect x="221.92" y="284.55" width="3.81" height="5.35" fill="#f5f4f3"/>
<rect x="225.68" y="284.55" width="3.81" height="5.35" fill="#f3e5da"/>
<rect x="229.43" y="284.55" width="3.81" height="5.35" fill="#f5f4f3"/>
<rect x="233.19" y="284.55" width="3.81" height="5.35" fill="#f3e5da"/>
<rect x="236.95" y="284.55" width="3.81" height="5.35" fill="#f5f4f3"/>
<rect x="240.71" y="284.55" width="7.57" height="5.35" fill="#e6ebf2"/>
<rect x="248.22" y="284.55" width="7.57" height="5.35" fill="#f5f4f3"/>
<rect x="255.74" y="284.55" width="3.81" height="5.35" fill="#e6ebf2"/>
<rect x="259.50" y="284.55" width="3.81" height="5.35" fill="#eed5c3"/>
<rect x="263.26" y="284.55" width="7.57" height="5.35" fill="#f5f4f3"/>
<rect x="270.77" y="284.55" width="3.81" height="5.35" fill="#eed5c3"/>
<rect x="274.53" y="284.55" width="3.81" height="5.35" fill="#f5f4f3"/>
<rect x="278.29" y="284.55" width="3.81" height="5.35" fill="#f3e5da"/>
<rect x="282.05" y="284.55" width="3.81" height="5.35" fill="#e6ebf2"/>
<rect x="285.80" y="284.55" width="7.57" height="5.35" fill="#f5f4f3"/>
<rect x="293.32" y="284.55" width="22.60" height="5.35" fill="#e6ebf2"/>
<rect x="315.87" y="284.55" width="3.81" height="5.35" fill="#f5f4f3"/>
<rect x="319.63" y="284.55" width="3.81" height="5.35" fill="#e6ebf2"/>
<rect x="323.39" y="284.55" width="3.81" height="5.35" fill="#e7c1a6"/>
<rect x="327.14" y="284.55" width="3.81" height="5.35" fill="#f5f4f3"/>
<rect x="330.90" y="284.55" width="3.81" height="5.35" fill="#5c0b21"/>
<rect x="334.66" y="284.55" width="3.81" height="5.35" fill="#f3e5da"/>
<rect x="338.42" y="284.55" width="11.32" height="5.35" fill="#f5f4f3"/>
<rect x="349.69" y="284.55" width="3.81" height="5.35" fill="#882e36"/>
<rect x="353.45" y="284.55" width="3.81" height="5.35" fill="#f3e5da"/>
<rect x="357.21" y="284.55" width="7.57" height="5.35" fill="#f5f4f3"/>
<rect x="364.72" y="284.55" width="3.81" height="5.35" fill="#eed5c3"/>
<rect x="368.48" y="284.55" width="3.81" height="5.35" fill="#f3e5da"/>
<rect x="372.24" y="284.55" width="7.57" height="5.35" fill="#f5f4f3"/>
<rect x="379.76" y="284.55" width="3.81" height="5.35" fill="#e6ebf2"/>
<rect x="383.51" y="284.55" width="3.81" height="5.35" fill="#f3e5da"/>
<rect x="387.27" y="284.55" width="3.81" height="5.35" fill="#eed5c3"/>
<rect x="391.03" y="284.55" width="3.81" height="5.35" fill="#f5f4f3"/>
<rect x="394.79" y="284.55" width="3.81" height="5.35" fill="#eed5c3"/>
<rect x="398.55" y="284.55" width="7.57" height="5.35" fill="#f5f4f3"/>
<rect x="406.06" y="284.55" width="7.57" height="5.35" fill="#f3e5da"/>
<rect x="413.58" y="284.55" width="3.81" height="5.35" fill="#eed5c3"/>
<rect x="417.34" y="284.55" width="3.81" height="5.35" fill="#f3e5da"/>
<rect x="421.09" y="284.55" width="11.32" height="5.35" fill="#f5f4f3"/>
<rect x="432.37" y="284.55" width="3.81" height="5.35" fill="#e7c1a6"/>
<rect x="436.13" y="284.55" width="3.81" height="5.35" fill="#f5f4f3"/>
<rect x="439.88" y="284.55" width="7.57" height="5.35" fill="#f3e5da"/>
<rect x="143.00" y="289.85" width="3.81" height="5.35" fill="#882e36"/>
<rect x="146.76" y="289.85" width="3.81" height="5.35" fill="#bd765d"/>
<rect x="150.52" y="289.85" width="3.81" height="5.35" fill="#f3e5da"/>
<rect x="154.27" y="289.85" width="3.81" height="5.35" fill="#f5f4f3"/>
<rect x="158.03" y="289.85" width="3.81" height="5.35" fill="#f3e5da"/>
<rect x="161.79" y="289.85" width="7.57" height="5.35" fill="#eed5c3"/>
<rect x="169.31" y="289.85" width="3.81" height="5.35" fill="#cf9474"/>
<rect x="173.06" y="289.85" width="7.57" height="5.35" fill="#e7c1a6"/>
<rect x="180.58" y="289.85" width="7.57" height="5.35" fill="#f3e5da"/>
<rect x="188.10" y="289.85" width="7.57" height="5.35" fill="#e6ebf2"/>
<rect x="195.61" y="289.85" width="3.81" height="5.35" fill="#f3e5da"/>
<rect x="199.37" y="289.85" width="15.08" height="5.35" fill="#e6ebf2"/>
<rect x="214.40" y="289.85" width="3.81" height="5.35" fill="#f5f4f3"/>
<rect x="218.16" y="289.85" width="3.81" height="5.35" fill="#d2dfed"/>
<rect x="221.92" y="289.85" width="3.81" height="5.35" fill="#e6ebf2"/>
<rect x="225.68" y="289.85" width="3.81" height="5.35" fill="#f5f4f3"/>
<rect x="229.43" y="289.85" width="7.57" height="5.35" fill="#e6ebf2"/>
<rect x="236.95" y="289.85" width="11.32" height="5.35" fill="#f3e5da"/>
<rect x="248.22" y="289.85" width="18.84" height="5.35" fill="#e6ebf2"/>
<rect x="267.01" y="289.85" width="3.81" height="5.35" fill="#f3e5da"/>
<rect x="270.77" y="289.85" width="3.81" height="5.35" fill="#f5f4f3"/>
<rect x="274.53" y="289.85" width="7.57" height="5.35" fill="#e7c1a6"/>
<rect x="282.05" y="289.85" width="15.08" height="5.35" fill="#e6ebf2"/>
<rect x="297.08" y="289.85" width="11.32" height="5.35" fill="#e7c1a6"/>
<rect x="308.35" y="289.85" width="3.81" height="5.35" fill="#f3e5da"/>
<rect x="312.11" y="289.85" width="3.81" height="5.35" fill="#f5f4f3"/>
<rect x="315.87" y="289.85" width="3.81" height="5.35" fill="#e7c1a6"/>
<rect x="319.63" y="289.85" width="3.81" height="5.35" fill="#882e36"/>
<rect x="323.39" y="289.85" width="3.81" height="5.35" fill="#a65548"/>
<rect x="327.14" y="289.85" width="3.81" height="5.35" fill="#bd765d"/>
<rect x="330.90" y="289.85" width="3.81" height="5.35" fill="#e7c1a6"/>
<rect x="334.66" y="289.85" width="11.32" height="5.35" fill="#e6ebf2"/>
<rect x="345.93" y="289.85" width="3.81" height="5.35" fill="#f3e5da"/>
<rect x="349.69" y="289.85" width="15.08" height="5.35" fill="#e6ebf2"/>
<rect x="364.72" y="289.85" width="3.81" height="5.35" fill="#f5f4f3"/>
<rect x="368.48" y="289.85" width="7.57" height="5.35" fill="#e6ebf2"/>
<rect x="376.00" y="289.85" width="3.81" height="5.35" fill="#f3e5da"/>
<rect x="379.76" y="289.85" width="3.81" height="5.35" fill="#e7c1a6"/>
<rect x="383.51" y="289.85" width="7.57" height="5.35" fill="#e6ebf2"/>
<rect x="391.03" y="289.85" width="3.81" height="5.35" fill="#f5f4f3"/>
<rect x="394.79" y="289.85" width="3.81" height="5.35" fill="#e7c1a6"/>
<rect x="398.55" y="289.85" width="7.57" height="5.35" fill="#e6ebf2"/>
<rect x="406.06" y="289.85" width="3.81" height="5.35" fill="#f5f4f3"/>
<rect x="409.82" y="289.85" width="3.81" height="5.35" fill="#e6ebf2"/>
<rect x="413.58" y="289.85" width="3.81" height="5.35" fill="#bd765d"/>
<rect x="417.34" y="289.85" width="7.57" height="5.35" fill="#eed5c3"/>
<rect x="424.85" y="289.85" width="3.81" height="5.35" fill="#dcaa8a"/>
<rect x="428.61" y="289.85" width="7.57" height="5.35" fill="#e6ebf2"/>
<rect x="436.13" y="289.85" width="11.32" height="5.35" fill="#f5f4f3"/>
<rect x="143.00" y="295.15" width="3.81" height="5.35" fill="#cf9474"/>
<rect x="146.76" y="295.15" width="3.81" height="5.35" fill="#dcaa8a"/>
<rect x="150.52" y="295.15" width="3.81" height="5.35" fill="#f3e5da"/>
<rect x="154.27" y="295.15" width="7.57" height="5.35" fill="#f5f4f3"/>
<rect x="161.79" y="295.15" width="7.57" height="5.35" fill="#eed5c3"/>
<rect x="169.31" y="295.15" width="3.81" height="5.35" fill="#dcaa8a"/>
<rect x="173.06" y="295.15" width="7.57" height="5.35" fill="#e7c1a6"/>
<rect x="180.58" y="295.15" width="3.81" height="5.35" fill="#f5f4f3"/>
<rect x="184.34" y="295.15" width="3.81" height="5.35" fill="#f3e5da"/>
<rect x="188.10" y="295.15" width="3.81" height="5.35" fill="#e6ebf2"/>
<rect x="191.85" y="295.15" width="7.57" height="5.35" fill="#f5f4f3"/>
<rect x="199.37" y="295.15" width="15.08" height="5.35" fill="#e6ebf2"/>
<rect x="214.40" y="295.15" width="3.81" height="5.35" fill="#f5f4f3"/>
<rect x="218.16" y="295.15" width="3.81" height="5.35" fill="#d2dfed"/>
<rect x="221.92" y="295.15" width="3.81" height="5.35" fill="#e6ebf2"/>
<rect x="225.68" y="295.15" width="3.81" height="5.35" fill="#f5f4f3"/>
<rect x="229.43" y="295.15" width="7.57" height="5.35" fill="#e6ebf2"/>
<rect x="236.95" y="295.15" width="11.32" height="5.35" fill="#f3e5da"/>
<rect x="248.22" y="295.15" width="3.81" height="5.35" fill="#f5f4f3"/>
<rect x="251.98" y="295.15" width="15.08" height="5.35" fill="#e6ebf2"/>
<rect x="267.01" y="295.15" width="3.81" height="5.35" fill="#eed5c3"/>
<rect x="270.77" y="295.15" width="3.81" height="5.35" fill="#f5f4f3"/>
<rect x="274.53" y="295.15" width="7.57" height="5.35" fill="#e7c1a6"/>
<rect x="282.05" y="295.15" width="3.81" height="5.35" fill="#f5f4f3"/>
<rect x="285.80" y="295.15" width="11.32" height="5.35" fill="#e6ebf2"/>
<rect x="297.08" y="295.15" width="3.81" height="5.35" fill="#dcaa8a"/>
<rect x="300.84" y="295.15" width="3.81" height="5.35" fill="#f3e5da"/>
<rect x="304.60" y="295.15" width="3.81" height="5.35" fill="#dcaa8a"/>
<rect x="308.35" y="295.15" width="3.81" height="5.35" fill="#eed5c3"/>
<rect x="312.11" y="295.15" width="7.57" height="5.35" fill="#f3e5da"/>
<rect x="319.63" y="295.15" width="3.81" height="5.35" fill="#882e36"/>
<rect x="323.39" y="295.15" width="3.81" height="5.35" fill="#dcaa8a"/>
<rect x="327.14" y="295.15" width="3.81" height="5.35" fill="#cf9474"/>
<rect x="330.90" y="295.15" width="3.81" height="5.35" fill="#eed5c3"/>
<rect x="334.66" y="295.15" width="3.81" height="5.35" fill="#e6ebf2"/>
<rect x="338.42" y="295.15" width="3.81" height="5.35" fill="#eed5c3"/>
<rect x="342.18" y="295.15" width="3.81" height="5.35" fill="#e6ebf2"/>
<rect x="345.93" y="295.15" width="3.81" height="5.35" fill="#f5f4f3"/>
<rect x="349.69" y="295.15" width="7.57" height="5.35" fill="#e6ebf2"/>
<rect x="357.21" y="295.15" width="3.81" height="5.35" fill="#f5f4f3"/>
<rect x="360.97" y="295.15" width="7.57" height="5.35" fill="#e6ebf2"/>
<rect x="368.48" y="295.15" width="3.81" height="5.35" fill="#f5f4f3"/>
<rect x="372.24" y="295.15" width="3.81" height="5.35" fill="#e6ebf2"/>
<rect x="376.00" y="295.15" width="3.81" height="5.35" fill="#f3e5da"/>
<rect x="379.76" y="295.15" width="3.81" height="5.35" fill="#e7c1a6"/>
<rect x="383.51" y="295.15" width="7.57" height="5.35" fill="#e6ebf2"/>
<rect x="391.03" y="295.15" width="7.57" height="5.35" fill="#f5f4f3"/>
<rect x="398.55" y="295.15" width="7.57" height="5.35" fill="#e6ebf2"/>
<rect x="406.06" y="295.15" width="3.81" height="5.35" fill="#f5f4f3"/>
<rect x="409.82" y="295.15" width="3.81" height="5.35" fill="#e6ebf2"/>
<rect x="413.58" y="295.15" width="3.81" height="5.35" fill="#cf9474"/>
<rect x="417.34" y="295.15" width="3.81" height="5.35" fill="#e7c1a6"/>
<rect x="421.09" y="295.15" width="3.81" height="5.35" fill="#f3e5da"/>
<rect x="424.85" y="295.15" width="3.81" height="5.35" fill="#dcaa8a"/>
<rect x="428.61" y="295.15" width="3.81" height="5.35" fill="#f5f4f3"/>
<rect x="432.37" y="295.15" width="3.81" height="5.35" fill="#e6ebf2"/>
<rect x="436.13" y="295.15" width="7.57" height="5.35" fill="#f5f4f3"/>
<rect x="443.64" y="295.15" width="3.81" height="5.35" fill="#f3e5da"/>
<rect x="143.00" y="300.45" width="3.81" height="5.35" fill="#e7c1a6"/>
<rect x="146.76" y="300.45" width="11.32" height="5.35" fill="#f5f4f3"/>
<rect x="158.03" y="300.45" width="3.81" height="5.35" fill="#e6ebf2"/>
<rect x="161.79" y="300.45" width="7.57" height="5.35" fill="#f5f4f3"/>
<rect x="169.31" y="300.45" width="7.57" height="5.35" fill="#e6ebf2"/>
<rect x="176.82" y="300.45" width="11.32" height="5.35" fill="#f5f4f3"/>
<rect x="188.10" y="300.45" width="3.81" height="5.35" fill="#f3e5da"/>
<rect x="191.85" y="300.45" width="7.57" height="5.35" fill="#eed5c3"/>
<rect x="199.37" y="300.45" width="3.81" height="5.35" fill="#f5f4f3"/>
<rect x="203.13" y="300.45" width="7.57" height="5.35" fill="#f3e5da"/>
<rect x="210.64" y="300.45" width="3.81" height="5.35" fill="#f5f4f3"/>
<rect x="214.40" y="300.45" width="3.81" height="5.35" fill="#e6ebf2"/>
<rect x="218.16" y="300.45" width="7.57" height="5.35" fill="#f5f4f3"/>
<rect x="225.68" y="300.45" width="3.81" height="5.35" fill="#f3e5da"/>
<rect x="229.43" y="300.45" width="7.57" height="5.35" fill="#f5f4f3"/>
<rect x="236.95" y="300.45" width="3.81" height="5.35" fill="#f3e5da"/>
<rect x="240.71" y="300.45" width="7.57" height="5.35" fill="#f5f4f3"/>
<rect x="248.22" y="300.45" width="3.81" height="5.35" fill="#a65548"/>
<rect x="251.98" y="300.45" width="15.08" height="5.35" fill="#f5f4f3"/>
<rect x="267.01" y="300.45" width="3.81" height="5.35" fill="#e6ebf2"/>
<rect x="270.77" y="300.45" width="3.81" height="5.35" fill="#eed5c3"/>
<rect x="274.53" y="300.45" width="7.57" height="5.35" fill="#f3e5da"/>
<rect x="282.05" y="300.45" width="3.81" height="5.35" fill="#f5f4f3"/>
<rect x="285.80" y="300.45" width="3.81" height="5.35" fill="#f3e5da"/>
<rect x="289.56" y="300.45" width="3.81" height="5.35" fill="#f5f4f3"/>
<rect x="293.32" y="300.45" width="3.81" height="5.35" fill="#f3e5da"/>
<rect x="297.08" y="300.45" width="3.81" height="5.35" fill="#f5f4f3"/>
<rect x="300.84" y="300.45" width="3.81" height="5.35" fill="#5c0b21"/>
<rect x="304.60" y="300.45" width="3.81" height="5.35" fill="#f5f4f3"/>
<rect x="308.35" y="300.45" width="3.81" height="5.35" fill="#882e36"/>
<rect x="312.11" y="300.45" width="3.81" height="5.35" fill="#f5f4f3"/>
<rect x="315.87" y="300.45" width="7.57" height="5.35" fill="#e6ebf2"/>
<rect x="323.39" y="300.45" width="7.57" height="5.35" fill="#f5f4f3"/>
<rect x="330.90" y="300.45" width="3.81" height="5.35" fill="#eed5c3"/>
<rect x="334.66" y="300.45" width="3.81" height="5.35" fill="#e6ebf2"/>
<rect x="338.42" y="300.45" width="3.81" height="5.35" fill="#e7c1a6"/>
<rect x="342.18" y="300.45" width="3.81" height="5.35" fill="#f3e5da"/>
<rect x="345.93" y="300.45" width="7.57" height="5.35" fill="#f5f4f3"/>
<rect x="353.45" y="300.45" width="3.81" height="5.35" fill="#f3e5da"/>
<rect x="357.21" y="300.45" width="3.81" height="5.35" fill="#eed5c3"/>
<rect x="360.97" y="300.45" width="7.57" height="5.35" fill="#f5f4f3"/>
<rect x="368.48" y="300.45" width="3.81" height="5.35" fill="#e7c1a6"/>
<rect x="372.24" y="300.45" width="3.81" height="5.35" fill="#f5f4f3"/>
<rect x="376.00" y="300.45" width="3.81" height="5.35" fill="#e6ebf2"/>
<rect x="379.76" y="300.45" width="7.57" height="5.35" fill="#f3e5da"/>
<rect x="387.27" y="300.45" width="3.81" height="5.35" fill="#eed5c3"/>
<rect x="391.03" y="300.45" width="18.84" height="5.35" fill="#f5f4f3"/>
<rect x="409.82" y="300.45" width="3.81" height="5.35" fill="#eed5c3"/>
<rect x="413.58" y="300.45" width="3.81" height="5.35" fill="#f5f4f3"/>
<rect x="417.34" y="300.45" width="11.32" height="5.35" fill="#e6ebf2"/>
<rect x="428.61" y="300.45" width="3.81" height="5.35" fill="#f3e5da"/>
<rect x="432.37" y="300.45" width="3.81" height="5.35" fill="#e7c1a6"/>
<rect x="436.13" y="300.45" width="3.81" height="5.35" fill="#f5f4f3"/>
<rect x="439.88" y="300.45" width="3.81" height="5.35" fill="#eed5c3"/>
<rect x="443.64" y="300.45" width="3.81" height="5.35" fill="#f5f4f3"/>
<rect x="143.00" y="305.74" width="3.81" height="5.35" fill="#e6ebf2"/>
<rect x="146.76" y="305.74" width="3.81" height="5.35" fill="#f5f4f3"/>
<rect x="150.52" y="305.74" width="7.57" height="5.35" fill="#f3e5da"/>
<rect x="158.03" y="305.74" width="7.57" height="5.35" fill="#f5f4f3"/>
<rect x="165.55" y="305.74" width="3.81" height="5.35" fill="#e7c1a6"/>
<rect x="169.31" y="305.74" width="7.57" height="5.35" fill="#e6ebf2"/>
<rect x="176.82" y="305.74" width="3.81" height="5.35" fill="#f5f4f3"/>
<rect x="180.58" y="305.74" width="3.81" height="5.35" fill="#f3e5da"/>
<rect x="184.34" y="305.74" width="3.81" height="5.35" fill="#f5f4f3"/>
<rect x="188.10" y="305.74" width="3.81" height="5.35" fill="#f3e5da"/>
<rect x="191.85" y="305.74" width="3.81" height="5.35" fill="#eed5c3"/>
<rect x="195.61" y="305.74" width="3.81" height="5.35" fill="#dcaa8a"/>
<rect x="199.37" y="305.74" width="3.81" height="5.35" fill="#f5f4f3"/>
<rect x="203.13" y="305.74" width="3.81" height="5.35" fill="#eed5c3"/>
<rect x="206.89" y="305.74" width="7.57" height="5.35" fill="#f3e5da"/>
<rect x="214.40" y="305.74" width="7.57" height="5.35" fill="#f5f4f3"/>
<rect x="221.92" y="305.74" width="7.57" height="5.35" fill="#eed5c3"/>
<rect x="229.43" y="305.74" width="7.57" height="5.35" fill="#f5f4f3"/>
<rect x="236.95" y="305.74" width="3.81" height="5.35" fill="#eed5c3"/>
<rect x="240.71" y="305.74" width="3.81" height="5.35" fill="#f5f4f3"/>
<rect x="244.47" y="305.74" width="3.81" height="5.35" fill="#eed5c3"/>
<rect x="248.22" y="305.74" width="18.84" height="5.35" fill="#f5f4f3"/>
<rect x="267.01" y="305.74" width="3.81" height="5.35" fill="#e6ebf2"/>
<rect x="270.77" y="305.74" width="11.32" height="5.35" fill="#eed5c3"/>
<rect x="282.05" y="305.74" width="3.81" height="5.35" fill="#f5f4f3"/>
<rect x="285.80" y="305.74" width="7.57" height="5.35" fill="#e6ebf2"/>
<rect x="293.32" y="305.74" width="3.81" height="5.35" fill="#eed5c3"/>
<rect x="297.08" y="305.74" width="3.81" height="5.35" fill="#f5f4f3"/>
<rect x="300.84" y="305.74" width="3.81" height="5.35" fill="#cf9474"/>
<rect x="304.60" y="305.74" width="7.57" height="5.35" fill="#e6ebf2"/>
<rect x="312.11" y="305.74" width="7.57" height="5.35" fill="#f5f4f3"/>
<rect x="319.63" y="305.74" width="3.81" height="5.35" fill="#f3e5da"/>
<rect x="323.39" y="305.74" width="3.81" height="5.35" fill="#e6ebf2"/>
<rect x="327.14" y="305.74" width="18.84" height="5.35" fill="#f5f4f3"/>
<rect x="345.93" y="305.74" width="3.81" height="5.35" fill="#eed5c3"/>
<rect x="349.69" y="305.74" width="3.81" height="5.35" fill="#f5f4f3"/>
<rect x="353.45" y="305.74" width="3.81" height="5.35" fill="#f3e5da"/>
<rect x="357.21" y="305.74" width="3.81" height="5.35" fill="#e6ebf2"/>
<rect x="360.97" y="305.74" width="22.60" height="5.35" fill="#f5f4f3"/>
<rect x="383.51" y="305.74" width="26.36" height="5.35" fill="#e6ebf2"/>
<rect x="409.82" y="305.74" width="3.81" height="5.35" fill="#f5f4f3"/>
<rect x="413.58" y="305.74" width="3.81" height="5.35" fill="#f3e5da"/>
<rect x="417.34" y="305.74" width="11.32" height="5.35" fill="#e6ebf2"/>
<rect x="428.61" y="305.74" width="3.81" height="5.35" fill="#5c0b21"/>
<rect x="432.37" y="305.74" width="3.81" height="5.35" fill="#f5f4f3"/>
<rect x="436.13" y="305.74" width="3.81" height="5.35" fill="#f3e5da"/>
<rect x="439.88" y="305.74" width="3.81" height="5.35" fill="#eed5c3"/>
<rect x="443.64" y="305.74" width="3.81" height="5.35" fill="#f5f4f3"/>
<rect x="143.00" y="311.04" width="15.08" height="5.35" fill="#f3e5da"/>
<rect x="158.03" y="311.04" width="3.81" height="5.35" fill="#f5f4f3"/>
<rect x="161.79" y="311.04" width="3.81" height="5.35" fill="#eed5c3"/>
<rect x="165.55" y="311.04" width="11.32" height="5.35" fill="#f5f4f3"/>
<rect x="176.82" y="311.04" width="3.81" height="5.35" fill="#f3e5da"/>
<rect x="180.58" y="311.04" width="7.57" height="5.35" fill="#f5f4f3"/>
<rect x="188.10" y="311.04" width="11.32" height="5.35" fill="#f3e5da"/>
<rect x="199.37" y="311.04" width="26.36" height="5.35" fill="#f5f4f3"/>
<rect x="225.68" y="311.04" width="3.81" height="5.35" fill="#f3e5da"/>
<rect x="229.43" y="311.04" width="37.63" height="5.35" fill="#f5f4f3"/>
<rect x="267.01" y="311.04" width="3.81" height="5.35" fill="#bd765d"/>
<rect x="270.77" y="311.04" width="67.69" height="5.35" fill="#f5f4f3"/>
<rect x="338.42" y="311.04" width="3.81" height="5.35" fill="#e7c1a6"/>
<rect x="342.18" y="311.04" width="3.81" height="5.35" fill="#eed5c3"/>
<rect x="345.93" y="311.04" width="22.60" height="5.35" fill="#f5f4f3"/>
<rect x="368.48" y="311.04" width="3.81" height="5.35" fill="#f3e5da"/>
<rect x="372.24" y="311.04" width="18.84" height="5.35" fill="#f5f4f3"/>
<rect x="391.03" y="311.04" width="3.81" height="5.35" fill="#f3e5da"/>
<rect x="394.79" y="311.04" width="15.08" height="5.35" fill="#f5f4f3"/>
<rect x="409.82" y="311.04" width="3.81" height="5.35" fill="#5c0b21"/>
<rect x="413.58" y="311.04" width="11.32" height="5.35" fill="#f5f4f3"/>
<rect x="424.85" y="311.04" width="3.81" height="5.35" fill="#eed5c3"/>
<rect x="428.61" y="311.04" width="11.32" height="5.35" fill="#f5f4f3"/>
<rect x="439.88" y="311.04" width="3.81" height="5.35" fill="#f3e5da"/>
<rect x="443.64" y="311.04" width="3.81" height="5.35" fill="#f5f4f3"/>
<rect x="143.00" y="316.34" width="11.32" height="5.35" fill="#f3e5da"/>
<rect x="154.27" y="316.34" width="11.32" height="5.35" fill="#f5f4f3"/>
<rect x="165.55" y="316.34" width="7.57" height="5.35" fill="#f3e5da"/>
<rect x="173.06" y="316.34" width="22.60" height="5.35" fill="#f5f4f3"/>
<rect x="195.61" y="316.34" width="3.81" height="5.35" fill="#f3e5da"/>
<rect x="199.37" y="316.34" width="11.32" height="5.35" fill="#f5f4f3"/>
<rect x="210.64" y="316.34" width="3.81" height="5.35" fill="#f3e5da"/>
<rect x="214.40" y="316.34" width="18.84" height="5.35" fill="#f5f4f3"/>
<rect x="233.19" y="316.34" width="3.81" height="5.35" fill="#f3e5da"/>
<rect x="236.95" y="316.34" width="30.11" height="5.35" fill="#f5f4f3"/>
<rect x="267.01" y="316.34" width="3.81" height="5.35" fill="#eed5c3"/>
<rect x="270.77" y="316.34" width="63.94" height="5.35" fill="#f5f4f3"/>
<rect x="334.66" y="316.34" width="3.81" height="5.35" fill="#f3e5da"/>
<rect x="338.42" y="316.34" width="7.57" height="5.35" fill="#eed5c3"/>
<rect x="345.93" y="316.34" width="63.94" height="5.35" fill="#f5f4f3"/>
<rect x="409.82" y="316.34" width="3.81" height="5.35" fill="#5c0b21"/>
<rect x="413.58" y="316.34" width="15.08" height="5.35" fill="#f3e5da"/>
<rect x="428.61" y="316.34" width="18.84" height="5.35" fill="#f5f4f3"/>
<rect x="143.00" y="321.64" width="15.08" height="5.35" fill="#e6ebf2"/>
<rect x="158.03" y="321.64" width="3.81" height="5.35" fill="#f5f4f3"/>
<rect x="161.79" y="321.64" width="18.84" height="5.35" fill="#e6ebf2"/>
<rect x="180.58" y="321.64" width="7.57" height="5.35" fill="#f5f4f3"/>
<rect x="188.10" y="321.64" width="7.57" height="5.35" fill="#e6ebf2"/>
<rect x="195.61" y="321.64" width="3.81" height="5.35" fill="#e7c1a6"/>
<rect x="199.37" y="321.64" width="3.81" height="5.35" fill="#f5f4f3"/>
<rect x="203.13" y="321.64" width="3.81" height="5.35" fill="#e6ebf2"/>
<rect x="206.89" y="321.64" width="7.57" height="5.35" fill="#f5f4f3"/>
<rect x="214.40" y="321.64" width="3.81" height="5.35" fill="#eed5c3"/>
<rect x="218.16" y="321.64" width="3.81" height="5.35" fill="#f5f4f3"/>
<rect x="221.92" y="321.64" width="7.57" height="5.35" fill="#e6ebf2"/>
<rect x="229.43" y="321.64" width="3.81" height="5.35" fill="#f5f4f3"/>
<rect x="233.19" y="321.64" width="3.81" height="5.35" fill="#eed5c3"/>
<rect x="236.95" y="321.64" width="3.81" height="5.35" fill="#f5f4f3"/>
<rect x="240.71" y="321.64" width="3.81" height="5.35" fill="#eed5c3"/>
<rect x="244.47" y="321.64" width="3.81" height="5.35" fill="#f5f4f3"/>
<rect x="248.22" y="321.64" width="7.57" height="5.35" fill="#e6ebf2"/>
<rect x="255.74" y="321.64" width="3.81" height="5.35" fill="#f5f4f3"/>
<rect x="259.50" y="321.64" width="3.81" height="5.35" fill="#e6ebf2"/>
<rect x="263.26" y="321.64" width="3.81" height="5.35" fill="#f5f4f3"/>
<rect x="267.01" y="321.64" width="3.81" height="5.35" fill="#eed5c3"/>
<rect x="270.77" y="321.64" width="3.81" height="5.35" fill="#f3e5da"/>
<rect x="274.53" y="321.64" width="3.81" height="5.35" fill="#eed5c3"/>
<rect x="278.29" y="321.64" width="11.32" height="5.35" fill="#f5f4f3"/>
<rect x="289.56" y="321.64" width="3.81" height="5.35" fill="#e7c1a6"/>
<rect x="293.32" y="321.64" width="3.81" height="5.35" fill="#f5f4f3"/>
<rect x="297.08" y="321.64" width="7.57" height="5.35" fill="#e6ebf2"/>
<rect x="304.60" y="321.64" width="3.81" height="5.35" fill="#f5f4f3"/>
<rect x="308.35" y="321.64" width="7.57" height="5.35" fill="#f3e5da"/>
<rect x="315.87" y="321.64" width="11.32" height="5.35" fill="#f5f4f3"/>
<rect x="327.14" y="321.64" width="3.81" height="5.35" fill="#5c0b21"/>
<rect x="330.90" y="321.64" width="3.81" height="5.35" fill="#f5f4f3"/>
<rect x="334.66" y="321.64" width="7.57" height="5.35" fill="#e6ebf2"/>
<rect x="342.18" y="321.64" width="3.81" height="5.35" fill="#f5f4f3"/>
<rect x="345.93" y="321.64" width="3.81" height="5.35" fill="#eed5c3"/>
<rect x="349.69" y="321.64" width="3.81" height="5.35" fill="#f5f4f3"/>
<rect x="353.45" y="321.64" width="3.81" height="5.35" fill="#f3e5da"/>
<rect x="357.21" y="321.64" width="7.57" height="5.35" fill="#f5f4f3"/>
<rect x="364.72" y="321.64" width="3.81" height="5.35" fill="#f3e5da"/>
<rect x="368.48" y="321.64" width="7.57" height="5.35" fill="#f5f4f3"/>
<rect x="376.00" y="321.64" width="7.57" height="5.35" fill="#eed5c3"/>
<rect x="383.51" y="321.64" width="7.57" height="5.35" fill="#e6ebf2"/>
<rect x="391.03" y="321.64" width="3.81" height="5.35" fill="#dcaa8a"/>
<rect x="394.79" y="321.64" width="3.81" height="5.35" fill="#f5f4f3"/>
<rect x="398.55" y="321.64" width="7.57" height="5.35" fill="#cf9474"/>
<rect x="406.06" y="321.64" width="3.81" height="5.35" fill="#f5f4f3"/>
<rect x="409.82" y="321.64" width="3.81" height="5.35" fill="#e6ebf2"/>
<rect x="413.58" y="321.64" width="15.08" height="5.35" fill="#f3e5da"/>
<rect x="428.61" y="321.64" width="3.81" height="5.35" fill="#f5f4f3"/>
<rect x="432.37" y="321.64" width="3.81" height="5.35" fill="#f3e5da"/>
<rect x="436.13" y="321.64" width="3.81" height="5.35" fill="#f5f4f3"/>
<rect x="439.88" y="321.64" width="3.81" height="5.35" fill="#f3e5da"/>
<rect x="443.64" y="321.64" width="3.81" height="5.35" fill="#e6ebf2"/>
<rect x="143.00" y="326.93" width="7.57" height="5.35" fill="#e6ebf2"/>
<rect x="150.52" y="326.93" width="3.81" height="5.35" fill="#f5f4f3"/>
<rect x="154.27" y="326.93" width="11.32" height="5.35" fill="#e6ebf2"/>
<rect x="165.55" y="326.93" width="3.81" height="5.35" fill="#f5f4f3"/>
<rect x="169.31" y="326.93" width="7.57" height="5.35" fill="#e6ebf2"/>
<rect x="176.82" y="326.93" width="3.81" height="5.35" fill="#f5f4f3"/>
<rect x="180.58" y="326.93" width="7.57" height="5.35" fill="#e6ebf2"/>
<rect x="188.10" y="326.93" width="3.81" height="5.35" fill="#f3e5da"/>
<rect x="191.85" y="326.93" width="3.81" height="5.35" fill="#e6ebf2"/>
<rect x="195.61" y="326.93" width="3.81" height="5.35" fill="#f5f4f3"/>
<rect x="199.37" y="326.93" width="7.57" height="5.35" fill="#e6ebf2"/>
<rect x="206.89" y="326.93" width="3.81" height="5.35" fill="#f5f4f3"/>
<rect x="210.64" y="326.93" width="3.81" height="5.35" fill="#e6ebf2"/>
<rect x="214.40" y="326.93" width="3.81" height="5.35" fill="#f5f4f3"/>
<rect x="218.16" y="326.93" width="3.81" height="5.35" fill="#f3e5da"/>
<rect x="221.92" y="326.93" width="3.81" height="5.35" fill="#e6ebf2"/>
<rect x="225.68" y="326.93" width="3.81" height="5.35" fill="#f5f4f3"/>
<rect x="229.43" y="326.93" width="3.81" height="5.35" fill="#e6ebf2"/>
<rect x="233.19" y="326.93" width="3.81" height="5.35" fill="#f5f4f3"/>
<rect x="236.95" y="326.93" width="18.84" height="5.35" fill="#e6ebf2"/>
<rect x="255.74" y="326.93" width="3.81" height="5.35" fill="#f5f4f3"/>
<rect x="259.50" y="326.93" width="11.32" height="5.35" fill="#e6ebf2"/>
<rect x="270.77" y="326.93" width="3.81" height="5.35" fill="#f5f4f3"/>
<rect x="274.53" y="326.93" width="7.57" height="5.35" fill="#e6ebf2"/>
<rect x="282.05" y="326.93" width="3.81" height="5.35" fill="#f3e5da"/>
<rect x="285.80" y="326.93" width="15.08" height="5.35" fill="#e6ebf2"/>
<rect x="300.84" y="326.93" width="3.81" height="5.35" fill="#5c0b21"/>
<rect x="304.60" y="326.93" width="3.81" height="5.35" fill="#f5f4f3"/>
<rect x="308.35" y="326.93" width="3.81" height="5.35" fill="#f3e5da"/>
<rect x="312.11" y="326.93" width="3.81" height="5.35" fill="#f5f4f3"/>
<rect x="315.87" y="326.93" width="15.08" height="5.35" fill="#e6ebf2"/>
<rect x="330.90" y="326.93" width="7.57" height="5.35" fill="#e7c1a6"/>
<rect x="338.42" y="326.93" width="3.81" height="5.35" fill="#cf9474"/>
<rect x="342.18" y="326.93" width="3.81" height="5.35" fill="#dcaa8a"/>
<rect x="345.93" y="326.93" width="3.81" height="5.35" fill="#eed5c3"/>
<rect x="349.69" y="326.93" width="3.81" height="5.35" fill="#f3e5da"/>
<rect x="353.45" y="326.93" width="3.81" height="5.35" fill="#eed5c3"/>
<rect x="357.21" y="326.93" width="3.81" height="5.35" fill="#e7c1a6"/>
<rect x="360.97" y="326.93" width="7.57" height="5.35" fill="#f5f4f3"/>
<rect x="368.48" y="326.93" width="3.81" height="5.35" fill="#f3e5da"/>
<rect x="372.24" y="326.93" width="11.32" height="5.35" fill="#eed5c3"/>
<rect x="383.51" y="326.93" width="7.57" height="5.35" fill="#f3e5da"/>
<rect x="391.03" y="326.93" width="3.81" height="5.35" fill="#f5f4f3"/>
<rect x="394.79" y="326.93" width="3.81" height="5.35" fill="#f3e5da"/>
<rect x="398.55" y="326.93" width="3.81" height="5.35" fill="#f5f4f3"/>
<rect x="402.30" y="326.93" width="3.81" height="5.35" fill="#f3e5da"/>
<rect x="406.06" y="326.93" width="3.81" height="5.35" fill="#f5f4f3"/>
<rect x="409.82" y="326.93" width="3.81" height="5.35" fill="#eed5c3"/>
<rect x="413.58" y="326.93" width="3.81" height="5.35" fill="#f5f4f3"/>
<rect x="417.34" y="326.93" width="3.81" height="5.35" fill="#eed5c3"/>
<rect x="421.09" y="326.93" width="3.81" height="5.35" fill="#bd765d"/>
<rect x="424.85" y="326.93" width="3.81" height="5.35" fill="#f3e5da"/>
<rect x="428.61" y="326.93" width="3.81" height="5.35" fill="#f5f4f3"/>
<rect x="432.37" y="326.93" width="11.32" height="5.35" fill="#eed5c3"/>
<rect x="443.64" y="326.93" width="3.81" height="5.35" fill="#bd765d"/>
<rect x="143.00" y="332.23" width="3.81" height="5.35" fill="#e6ebf2"/>
<rect x="146.76" y="332.23" width="3.81" height="5.35" fill="#eed5c3"/>
<rect x="150.52" y="332.23" width="3.81" height="5.35" fill="#e6ebf2"/>
<rect x="154.27" y="332.23" width="3.81" height="5.35" fill="#eed5c3"/>
<rect x="158.03" y="332.23" width="7.57" height="5.35" fill="#e6ebf2"/>
<rect x="165.55" y="332.23" width="3.81" height="5.35" fill="#f5f4f3"/>
<rect x="169.31" y="332.23" width="15.08" height="5.35" fill="#e6ebf2"/>
<rect x="184.34" y="332.23" width="3.81" height="5.35" fill="#f5f4f3"/>
<rect x="188.10" y="332.23" width="3.81" height="5.35" fill="#f3e5da"/>
<rect x="191.85" y="332.23" width="3.81" height="5.35" fill="#e6ebf2"/>
<rect x="195.61" y="332.23" width="3.81" height="5.35" fill="#e7c1a6"/>
<rect x="199.37" y="332.23" width="3.81" height="5.35" fill="#e6ebf2"/>
<rect x="203.13" y="332.23" width="3.81" height="5.35" fill="#d2dfed"/>
<rect x="206.89" y="332.23" width="7.57" height="5.35" fill="#e6ebf2"/>
<rect x="214.40" y="332.23" width="15.08" height="5.35" fill="#d2dfed"/>
<rect x="229.43" y="332.23" width="7.57" height="5.35" fill="#e6ebf2"/>
<rect x="236.95" y="332.23" width="15.08" height="5.35" fill="#d2dfed"/>
<rect x="251.98" y="332.23" width="3.81" height="5.35" fill="#e6ebf2"/>
<rect x="255.74" y="332.23" width="7.57" height="5.35" fill="#d2dfed"/>
<rect x="263.26" y="332.23" width="7.57" height="5.35" fill="#b3cbe4"/>
<rect x="270.77" y="332.23" width="7.57" height="5.35" fill="#d2dfed"/>
<rect x="278.29" y="332.23" width="3.81" height="5.35" fill="#f3e5da"/>
<rect x="282.05" y="332.23" width="3.81" height="5.35" fill="#eed5c3"/>
<rect x="285.80" y="332.23" width="7.57" height="5.35" fill="#d2dfed"/>
<rect x="293.32" y="332.23" width="3.81" height="5.35" fill="#f5f4f3"/>
<rect x="297.08" y="332.23" width="3.81" height="5.35" fill="#e6ebf2"/>
<rect x="300.84" y="332.23" width="3.81" height="5.35" fill="#f3e5da"/>
<rect x="304.60" y="332.23" width="3.81" height="5.35" fill="#b3cbe4"/>
<rect x="308.35" y="332.23" width="11.32" height="5.35" fill="#e6ebf2"/>
<rect x="319.63" y="332.23" width="11.32" height="5.35" fill="#b3cbe4"/>
<rect x="330.90" y="332.23" width="3.81" height="5.35" fill="#f3e5da"/>
<rect x="334.66" y="332.23" width="3.81" height="5.35" fill="#bd765d"/>
<rect x="338.42" y="332.23" width="3.81" height="5.35" fill="#f5f4f3"/>
<rect x="342.18" y="332.23" width="3.81" height="5.35" fill="#eed5c3"/>
<rect x="345.93" y="332.23" width="3.81" height="5.35" fill="#dcaa8a"/>
<rect x="349.69" y="332.23" width="3.81" height="5.35" fill="#e7c1a6"/>
<rect x="353.45" y="332.23" width="3.81" height="5.35" fill="#bd765d"/>
<rect x="357.21" y="332.23" width="7.57" height="5.35" fill="#eed5c3"/>
<rect x="364.72" y="332.23" width="3.81" height="5.35" fill="#dcaa8a"/>
<rect x="368.48" y="332.23" width="7.57" height="5.35" fill="#f3e5da"/>
<rect x="376.00" y="332.23" width="7.57" height="5.35" fill="#bd765d"/>
<rect x="383.51" y="332.23" width="3.81" height="5.35" fill="#e6ebf2"/>
<rect x="387.27" y="332.23" width="3.81" height="5.35" fill="#e7c1a6"/>
<rect x="391.03" y="332.23" width="7.57" height="5.35" fill="#eed5c3"/>
<rect x="398.55" y="332.23" width="3.81" height="5.35" fill="#f5f4f3"/>
<rect x="402.30" y="332.23" width="3.81" height="5.35" fill="#cf9474"/>
<rect x="406.06" y="332.23" width="3.81" height="5.35" fill="#f5f4f3"/>
<rect x="409.82" y="332.23" width="7.57" height="5.35" fill="#eed5c3"/>
<rect x="417.34" y="332.23" width="3.81" height="5.35" fill="#f3e5da"/>
<rect x="421.09" y="332.23" width="15.08" height="5.35" fill="#e7c1a6"/>
<rect x="436.13" y="332.23" width="3.81" height="5.35" fill="#eed5c3"/>
<rect x="439.88" y="332.23" width="3.81" height="5.35" fill="#e7c1a6"/>
<rect x="443.64" y="332.23" width="3.81" height="5.35" fill="#a65548"/>
<rect x="143.00" y="337.53" width="45.15" height="5.35" fill="#d2dfed"/>
<rect x="188.10" y="337.53" width="3.81" height="5.35" fill="#f5f4f3"/>
<rect x="191.85" y="337.53" width="11.32" height="5.35" fill="#e6ebf2"/>
<rect x="203.13" y="337.53" width="3.81" height="5.35" fill="#e7c1a6"/>
<rect x="206.89" y="337.53" width="7.57" height="5.35" fill="#f5f4f3"/>
<rect x="214.40" y="337.53" width="3.81" height="5.35" fill="#e6ebf2"/>
<rect x="218.16" y="337.53" width="3.81" height="5.35" fill="#e7c1a6"/>
<rect x="221.92" y="337.53" width="3.81" height="5.35" fill="#f5f4f3"/>
<rect x="225.68" y="337.53" width="7.57" height="5.35" fill="#e6ebf2"/>
<rect x="233.19" y="337.53" width="3.81" height="5.35" fill="#f3e5da"/>
<rect x="236.95" y="337.53" width="3.81" height="5.35" fill="#e6ebf2"/>
<rect x="240.71" y="337.53" width="3.81" height="5.35" fill="#f3e5da"/>
<rect x="244.47" y="337.53" width="3.81" height="5.35" fill="#f5f4f3"/>
<rect x="248.22" y="337.53" width="3.81" height="5.35" fill="#dcaa8a"/>
<rect x="251.98" y="337.53" width="3.81" height="5.35" fill="#f5f4f3"/>
<rect x="255.74" y="337.53" width="3.81" height="5.35" fill="#bd765d"/>
<rect x="259.50" y="337.53" width="11.32" height="5.35" fill="#e6ebf2"/>
<rect x="270.77" y="337.53" width="3.81" height="5.35" fill="#f5f4f3"/>
<rect x="274.53" y="337.53" width="7.57" height="5.35" fill="#f3e5da"/>
<rect x="282.05" y="337.53" width="3.81" height="5.35" fill="#f5f4f3"/>
<rect x="285.80" y="337.53" width="3.81" height="5.35" fill="#dcaa8a"/>
<rect x="289.56" y="337.53" width="11.32" height="5.35" fill="#f5f4f3"/>
<rect x="300.84" y="337.53" width="3.81" height="5.35" fill="#e6ebf2"/>
<rect x="304.60" y="337.53" width="3.81" height="5.35" fill="#f3e5da"/>
<rect x="308.35" y="337.53" width="3.81" height="5.35" fill="#eed5c3"/>
<rect x="312.11" y="337.53" width="3.81" height="5.35" fill="#f3e5da"/>
<rect x="315.87" y="337.53" width="3.81" height="5.35" fill="#eed5c3"/>
<rect x="319.63" y="337.53" width="3.81" height="5.35" fill="#5c0b21"/>
<rect x="323.39" y="337.53" width="3.81" height="5.35" fill="#e6ebf2"/>
<rect x="327.14" y="337.53" width="11.32" height="5.35" fill="#f3e5da"/>
<rect x="338.42" y="337.53" width="3.81" height="5.35" fill="#e7c1a6"/>
<rect x="342.18" y="337.53" width="3.81" height="5.35" fill="#882e36"/>
<rect x="345.93" y="337.53" width="7.57" height="5.35" fill="#e6ebf2"/>
<rect x="353.45" y="337.53" width="7.57" height="5.35" fill="#f5f4f3"/>
<rect x="360.97" y="337.53" width="3.81" height="5.35" fill="#f3e5da"/>
<rect x="364.72" y="337.53" width="3.81" height="5.35" fill="#e6ebf2"/>
<rect x="368.48" y="337.53" width="3.81" height="5.35" fill="#f5f4f3"/>
<rect x="372.24" y="337.53" width="3.81" height="5.35" fill="#eed5c3"/>
<rect x="376.00" y="337.53" width="7.57" height="5.35" fill="#e6ebf2"/>
<rect x="383.51" y="337.53" width="7.57" height="5.35" fill="#f3e5da"/>
<rect x="391.03" y="337.53" width="18.84" height="5.35" fill="#e6ebf2"/>
<rect x="409.82" y="337.53" width="3.81" height="5.35" fill="#f5f4f3"/>
<rect x="413.58" y="337.53" width="3.81" height="5.35" fill="#e6ebf2"/>
<rect x="417.34" y="337.53" width="3.81" height="5.35" fill="#f5f4f3"/>
<rect x="421.09" y="337.53" width="3.81" height="5.35" fill="#f3e5da"/>
<rect x="424.85" y="337.53" width="3.81" height="5.35" fill="#bd765d"/>
<rect x="428.61" y="337.53" width="7.57" height="5.35" fill="#f5f4f3"/>
<rect x="436.13" y="337.53" width="11.32" height="5.35" fill="#f3e5da"/>
<rect x="143.00" y="342.83" width="7.57" height="5.35" fill="#d2dfed"/>
<rect x="150.52" y="342.83" width="7.57" height="5.35" fill="#8fb2d8"/>
<rect x="158.03" y="342.83" width="3.81" height="5.35" fill="#d2dfed"/>
<rect x="161.79" y="342.83" width="3.81" height="5.35" fill="#eed5c3"/>
<rect x="165.55" y="342.83" width="3.81" height="5.35" fill="#d2dfed"/>
<rect x="169.31" y="342.83" width="18.84" height="5.35" fill="#b3cbe4"/>
<rect x="188.10" y="342.83" width="3.81" height="5.35" fill="#d2dfed"/>
<rect x="191.85" y="342.83" width="3.81" height="5.35" fill="#f3e5da"/>
<rect x="195.61" y="342.83" width="7.57" height="5.35" fill="#e6ebf2"/>
<rect x="203.13" y="342.83" width="3.81" height="5.35" fill="#d2dfed"/>
<rect x="206.89" y="342.83" width="3.81" height="5.35" fill="#e6ebf2"/>
<rect x="210.64" y="342.83" width="3.81" height="5.35" fill="#f3e5da"/>
<rect x="214.40" y="342.83" width="3.81" height="5.35" fill="#b3cbe4"/>
<rect x="218.16" y="342.83" width="3.81" height="5.35" fill="#e6ebf2"/>
<rect x="221.92" y="342.83" width="7.57" height="5.35" fill="#b3cbe4"/>
<rect x="229.43" y="342.83" width="3.81" height="5.35" fill="#e6ebf2"/>
<rect x="233.19" y="342.83" width="7.57" height="5.35" fill="#d2dfed"/>
<rect x="240.71" y="342.83" width="3.81" height="5.35" fill="#e6ebf2"/>
<rect x="244.47" y="342.83" width="3.81" height="5.35" fill="#f3e5da"/>
<rect x="248.22" y="342.83" width="3.81" height="5.35" fill="#f5f4f3"/>
<rect x="251.98" y="342.83" width="3.81" height="5.35" fill="#d2dfed"/>
<rect x="255.74" y="342.83" width="3.81" height="5.35" fill="#e6ebf2"/>
<rect x="259.50" y="342.83" width="3.81" height="5.35" fill="#d2dfed"/>
<rect x="263.26" y="342.83" width="3.81" height="5.35" fill="#e6ebf2"/>
<rect x="267.01" y="342.83" width="3.81" height="5.35" fill="#eed5c3"/>
<rect x="270.77" y="342.83" width="3.81" height="5.35" fill="#f5f4f3"/>
<rect x="274.53" y="342.83" width="7.57" height="5.35" fill="#eed5c3"/>
<rect x="282.05" y="342.83" width="15.08" height="5.35" fill="#b3cbe4"/>
<rect x="297.08" y="342.83" width="3.81" height="5.35" fill="#f5f4f3"/>
<rect x="300.84" y="342.83" width="3.81" height="5.35" fill="#dcaa8a"/>
<rect x="304.60" y="342.83" width="3.81" height="5.35" fill="#f5f4f3"/>
<rect x="308.35" y="342.83" width="3.81" height="5.35" fill="#f3e5da"/>
<rect x="312.11" y="342.83" width="7.57" height="5.35" fill="#eed5c3"/>
<rect x="319.63" y="342.83" width="3.81" height="5.35" fill="#e7c1a6"/>
<rect x="323.39" y="342.83" width="3.81" height="5.35" fill="#dcaa8a"/>
<rect x="327.14" y="342.83" width="3.81" height="5.35" fill="#f3e5da"/>
<rect x="330.90" y="342.83" width="3.81" height="5.35" fill="#dcaa8a"/>
<rect x="334.66" y="342.83" width="3.81" height="5.35" fill="#eed5c3"/>
<rect x="338.42" y="342.83" width="7.57" height="5.35" fill="#dcaa8a"/>
<rect x="345.93" y="342.83" width="3.81" height="5.35" fill="#e6ebf2"/>
<rect x="349.69" y="342.83" width="3.81" height="5.35" fill="#f5f4f3"/>
<rect x="353.45" y="342.83" width="3.81" height="5.35" fill="#eed5c3"/>
<rect x="357.21" y="342.83" width="7.57" height="5.35" fill="#d2dfed"/>
<rect x="364.72" y="342.83" width="3.81" height="5.35" fill="#f3e5da"/>
<rect x="368.48" y="342.83" width="3.81" height="5.35" fill="#eed5c3"/>
<rect x="372.24" y="342.83" width="7.57" height="5.35" fill="#f3e5da"/>
<rect x="379.76" y="342.83" width="3.81" height="5.35" fill="#e6ebf2"/>
<rect x="383.51" y="342.83" width="3.81" height="5.35" fill="#f3e5da"/>
<rect x="387.27" y="342.83" width="3.81" height="5.35" fill="#eed5c3"/>
<rect x="391.03" y="342.83" width="3.81" height="5.35" fill="#f5f4f3"/>
<rect x="394.79" y="342.83" width="3.81" height="5.35" fill="#eed5c3"/>
<rect x="398.55" y="342.83" width="3.81" height="5.35" fill="#f5f4f3"/>
<rect x="402.30" y="342.83" width="7.57" height="5.35" fill="#dcaa8a"/>
<rect x="409.82" y="342.83" width="7.57" height="5.35" fill="#e7c1a6"/>
<rect x="417.34" y="342.83" width="3.81" height="5.35" fill="#dcaa8a"/>
<rect x="421.09" y="342.83" width="7.57" height="5.35" fill="#e7c1a6"/>
<rect x="428.61" y="342.83" width="7.57" height="5.35" fill="#cf9474"/>
<rect x="436.13" y="342.83" width="3.81" height="5.35" fill="#dcaa8a"/>
<rect x="439.88" y="342.83" width="7.57" height="5.35" fill="#e7c1a6"/>
<rect x="143.00" y="348.12" width="3.81" height="5.35" fill="#d2dfed"/>
<rect x="146.76" y="348.12" width="3.81" height="5.35" fill="#f3e5da"/>
<rect x="150.52" y="348.12" width="7.57" height="5.35" fill="#8fb2d8"/>
<rect x="158.03" y="348.12" width="3.81" height="5.35" fill="#e6ebf2"/>
<rect x="161.79" y="348.12" width="3.81" height="5.35" fill="#f3e5da"/>
<rect x="165.55" y="348.12" width="3.81" height="5.35" fill="#e6ebf2"/>
<rect x="169.31" y="348.12" width="3.81" height="5.35" fill="#d2dfed"/>
<rect x="173.06" y="348.12" width="7.57" height="5.35" fill="#e6ebf2"/>
<rect x="180.58" y="348.12" width="11.32" height="5.35" fill="#d2dfed"/>
<rect x="191.85" y="348.12" width="3.81" height="5.35" fill="#f3e5da"/>
<rect x="195.61" y="348.12" width="7.57" height="5.35" fill="#e6ebf2"/>
<rect x="203.13" y="348.12" width="3.81" height="5.35" fill="#d2dfed"/>
<rect x="206.89" y="348.12" width="3.81" height="5.35" fill="#e6ebf2"/>
<rect x="210.64" y="348.12" width="3.81" height="5.35" fill="#f3e5da"/>
<rect x="214.40" y="348.12" width="3.81" height="5.35" fill="#b3cbe4"/>
<rect x="218.16" y="348.12" width="3.81" height="5.35" fill="#f5f4f3"/>
<rect x="221.92" y="348.12" width="7.57" height="5.35" fill="#b3cbe4"/>
<rect x="229.43" y="348.12" width="3.81" height="5.35" fill="#f5f4f3"/>
<rect x="233.19" y="348.12" width="7.57" height="5.35" fill="#d2dfed"/>
<rect x="240.71" y="348.12" width="11.32" height="5.35" fill="#f3e5da"/>
<rect x="251.98" y="348.12" width="7.57" height="5.35" fill="#e6ebf2"/>
<rect x="259.50" y="348.12" width="3.81" height="5.35" fill="#d2dfed"/>
<rect x="263.26" y="348.12" width="3.81" height="5.35" fill="#f5f4f3"/>
<rect x="267.01" y="348.12" width="3.81" height="5.35" fill="#e7c1a6"/>
<rect x="270.77" y="348.12" width="3.81" height="5.35" fill="#f5f4f3"/>
<rect x="274.53" y="348.12" width="7.57" height="5.35" fill="#f3e5da"/>
<rect x="282.05" y="348.12" width="3.81" height="5.35" fill="#d2dfed"/>
<rect x="285.80" y="348.12" width="11.32" height="5.35" fill="#b3cbe4"/>
<rect x="297.08" y="348.12" width="3.81" height="5.35" fill="#f5f4f3"/>
<rect x="300.84" y="348.12" width="3.81" height="5.35" fill="#e7c1a6"/>
<rect x="304.60" y="348.12" width="18.84" height="5.35" fill="#eed5c3"/>
<rect x="323.39" y="348.12" width="7.57" height="5.35" fill="#e7c1a6"/>
<rect x="330.90" y="348.12" width="3.81" height="5.35" fill="#f5f4f3"/>
<rect x="334.66" y="348.12" width="3.81" height="5.35" fill="#f3e5da"/>
<rect x="338.42" y="348.12" width="3.81" height="5.35" fill="#e7c1a6"/>
<rect x="342.18" y="348.12" width="3.81" height="5.35" fill="#f3e5da"/>
<rect x="345.93" y="348.12" width="7.57" height="5.35" fill="#e6ebf2"/>
<rect x="353.45" y="348.12" width="3.81" height="5.35" fill="#f5f4f3"/>
<rect x="357.21" y="348.12" width="7.57" height="5.35" fill="#d2dfed"/>
<rect x="364.72" y="348.12" width="3.81" height="5.35" fill="#f5f4f3"/>
<rect x="368.48" y="348.12" width="3.81" height="5.35" fill="#eed5c3"/>
<rect x="372.24" y="348.12" width="3.81" height="5.35" fill="#f3e5da"/>
<rect x="376.00" y="348.12" width="7.57" height="5.35" fill="#e6ebf2"/>
<rect x="383.51" y="348.12" width="3.81" height="5.35" fill="#f3e5da"/>
<rect x="387.27" y="348.12" width="3.81" height="5.35" fill="#b3cbe4"/>
<rect x="391.03" y="348.12" width="3.81" height="5.35" fill="#f3e5da"/>
<rect x="394.79" y="348.12" width="3.81" height="5.35" fill="#eed5c3"/>
<rect x="398.55" y="348.12" width="3.81" height="5.35" fill="#f3e5da"/>
<rect x="402.30" y="348.12" width="3.81" height="5.35" fill="#f5f4f3"/>
<rect x="406.06" y="348.12" width="11.32" height="5.35" fill="#e7c1a6"/>
<rect x="417.34" y="348.12" width="11.32" height="5.35" fill="#eed5c3"/>
<rect x="428.61" y="348.12" width="3.81" height="5.35" fill="#e7c1a6"/>
<rect x="432.37" y="348.12" width="3.81" height="5.35" fill="#cf9474"/>
<rect x="436.13" y="348.12" width="7.57" height="5.35" fill="#e7c1a6"/>
<rect x="443.64" y="348.12" width="3.81" height="5.35" fill="#eed5c3"/>
<rect x="143.00" y="353.42" width="45.15" height="5.35" fill="#d2dfed"/>
<rect x="188.10" y="353.42" width="3.81" height="5.35" fill="#e6ebf2"/>
<rect x="191.85" y="353.42" width="3.81" height="5.35" fill="#d2dfed"/>
<rect x="195.61" y="353.42" width="3.81" height="5.35" fill="#f5f4f3"/>
<rect x="199.37" y="353.42" width="3.81" height="5.35" fill="#d2dfed"/>
<rect x="203.13" y="353.42" width="3.81" height="5.35" fill="#f5f4f3"/>
<rect x="206.89" y="353.42" width="7.57" height="5.35" fill="#eed5c3"/>
<rect x="214.40" y="353.42" width="3.81" height="5.35" fill="#e6ebf2"/>
<rect x="218.16" y="353.42" width="3.81" height="5.35" fill="#d2dfed"/>
<rect x="221.92" y="353.42" width="3.81" height="5.35" fill="#f3e5da"/>
<rect x="225.68" y="353.42" width="11.32" height="5.35" fill="#e6ebf2"/>
<rect x="236.95" y="353.42" width="3.81" height="5.35" fill="#dcaa8a"/>
<rect x="240.71" y="353.42" width="3.81" height="5.35" fill="#eed5c3"/>
<rect x="244.47" y="353.42" width="7.57" height="5.35" fill="#e6ebf2"/>
<rect x="251.98" y="353.42" width="3.81" height="5.35" fill="#e7c1a6"/>
<rect x="255.74" y="353.42" width="7.57" height="5.35" fill="#f5f4f3"/>
<rect x="263.26" y="353.42" width="3.81" height="5.35" fill="#bd765d"/>
<rect x="267.01" y="353.42" width="3.81" height="5.35" fill="#eed5c3"/>
<rect x="270.77" y="353.42" width="3.81" height="5.35" fill="#5c0b21"/>
<rect x="274.53" y="353.42" width="3.81" height="5.35" fill="#a65548"/>
<rect x="278.29" y="353.42" width="3.81" height="5.35" fill="#eed5c3"/>
<rect x="282.05" y="353.42" width="3.81" height="5.35" fill="#f3e5da"/>
<rect x="285.80" y="353.42" width="3.81" height="5.35" fill="#f5f4f3"/>
<rect x="289.56" y="353.42" width="7.57" height="5.35" fill="#eed5c3"/>
<rect x="297.08" y="353.42" width="3.81" height="5.35" fill="#e6ebf2"/>
<rect x="300.84" y="353.42" width="11.32" height="5.35" fill="#f5f4f3"/>
<rect x="312.11" y="353.42" width="3.81" height="5.35" fill="#e7c1a6"/>
<rect x="315.87" y="353.42" width="3.81" height="5.35" fill="#f5f4f3"/>
<rect x="319.63" y="353.42" width="3.81" height="5.35" fill="#f3e5da"/>
<rect x="323.39" y="353.42" width="7.57" height="5.35" fill="#e6ebf2"/>
<rect x="330.90" y="353.42" width="3.81" height="5.35" fill="#e7c1a6"/>
<rect x="334.66" y="353.42" width="3.81" height="5.35" fill="#f3e5da"/>
<rect x="338.42" y="353.42" width="7.57" height="5.35" fill="#f5f4f3"/>
<rect x="345.93" y="353.42" width="3.81" height="5.35" fill="#bd765d"/>
<rect x="349.69" y="353.42" width="3.81" height="5.35" fill="#f5f4f3"/>
<rect x="353.45" y="353.42" width="3.81" height="5.35" fill="#bd765d"/>
<rect x="357.21" y="353.42" width="3.81" height="5.35" fill="#e6ebf2"/>
<rect x="360.97" y="353.42" width="3.81" height="5.35" fill="#f3e5da"/>
<rect x="364.72" y="353.42" width="3.81" height="5.35" fill="#f5f4f3"/>
<rect x="368.48" y="353.42" width="15.08" height="5.35" fill="#e6ebf2"/>
<rect x="383.51" y="353.42" width="3.81" height="5.35" fill="#f3e5da"/>
<rect x="387.27" y="353.42" width="3.81" height="5.35" fill="#e6ebf2"/>
<rect x="391.03" y="353.42" width="7.57" height="5.35" fill="#f3e5da"/>
<rect x="398.55" y="353.42" width="3.81" height="5.35" fill="#f5f4f3"/>
<rect x="402.30" y="353.42" width="3.81" height="5.35" fill="#eed5c3"/>
<rect x="406.06" y="353.42" width="3.81" height="5.35" fill="#dcaa8a"/>
<rect x="409.82" y="353.42" width="3.81" height="5.35" fill="#cf9474"/>
<rect x="413.58" y="353.42" width="3.81" height="5.35" fill="#f3e5da"/>
<rect x="417.34" y="353.42" width="3.81" height="5.35" fill="#e6ebf2"/>
<rect x="421.09" y="353.42" width="3.81" height="5.35" fill="#f3e5da"/>
<rect x="424.85" y="353.42" width="3.81" height="5.35" fill="#dcaa8a"/>
<rect x="428.61" y="353.42" width="3.81" height="5.35" fill="#e7c1a6"/>
<rect x="432.37" y="353.42" width="3.81" height="5.35" fill="#f3e5da"/>
<rect x="436.13" y="353.42" width="3.81" height="5.35" fill="#cf9474"/>
<rect x="439.88" y="353.42" width="3.81" height="5.35" fill="#eed5c3"/>
<rect x="443.64" y="353.42" width="3.81" height="5.35" fill="#e6ebf2"/>
<rect x="143.00" y="358.72" width="3.81" height="5.35" fill="#e6ebf2"/>
<rect x="146.76" y="358.72" width="3.81" height="5.35" fill="#f5f4f3"/>
<rect x="150.52" y="358.72" width="37.63" height="5.35" fill="#e6ebf2"/>
<rect x="188.10" y="358.72" width="3.81" height="5.35" fill="#f5f4f3"/>
<rect x="191.85" y="358.72" width="3.81" height="5.35" fill="#5c0b21"/>
<rect x="195.61" y="358.72" width="7.57" height="5.35" fill="#dcaa8a"/>
<rect x="203.13" y="358.72" width="3.81" height="5.35" fill="#882e36"/>
<rect x="206.89" y="358.72" width="3.81" height="5.35" fill="#f5f4f3"/>
<rect x="210.64" y="358.72" width="7.57" height="5.35" fill="#e6ebf2"/>
<rect x="218.16" y="358.72" width="11.32" height="5.35" fill="#eed5c3"/>
<rect x="229.43" y="358.72" width="3.81" height="5.35" fill="#e6ebf2"/>
<rect x="233.19" y="358.72" width="3.81" height="5.35" fill="#f3e5da"/>
<rect x="236.95" y="358.72" width="18.84" height="5.35" fill="#e6ebf2"/>
<rect x="255.74" y="358.72" width="3.81" height="5.35" fill="#f5f4f3"/>
<rect x="259.50" y="358.72" width="3.81" height="5.35" fill="#eed5c3"/>
<rect x="263.26" y="358.72" width="3.81" height="5.35" fill="#e6ebf2"/>
<rect x="267.01" y="358.72" width="11.32" height="5.35" fill="#f5f4f3"/>
<rect x="278.29" y="358.72" width="3.81" height="5.35" fill="#e6ebf2"/>
<rect x="282.05" y="358.72" width="3.81" height="5.35" fill="#f3e5da"/>
<rect x="285.80" y="358.72" width="37.63" height="5.35" fill="#e6ebf2"/>
<rect x="323.39" y="358.72" width="3.81" height="5.35" fill="#cf9474"/>
<rect x="327.14" y="358.72" width="3.81" height="5.35" fill="#f3e5da"/>
<rect x="330.90" y="358.72" width="3.81" height="5.35" fill="#eed5c3"/>
<rect x="334.66" y="358.72" width="3.81" height="5.35" fill="#bd765d"/>
<rect x="338.42" y="358.72" width="3.81" height="5.35" fill="#f5f4f3"/>
<rect x="342.18" y="358.72" width="3.81" height="5.35" fill="#eed5c3"/>
<rect x="345.93" y="358.72" width="3.81" height="5.35" fill="#f5f4f3"/>
<rect x="349.69" y="358.72" width="3.81" height="5.35" fill="#5c0b21"/>
<rect x="353.45" y="358.72" width="3.81" height="5.35" fill="#dcaa8a"/>
<rect x="357.21" y="358.72" width="3.81" height="5.35" fill="#e6ebf2"/>
<rect x="360.97" y="358.72" width="3.81" height="5.35" fill="#f5f4f3"/>
<rect x="364.72" y="358.72" width="3.81" height="5.35" fill="#eed5c3"/>
<rect x="368.48" y="358.72" width="3.81" height="5.35" fill="#f3e5da"/>
<rect x="372.24" y="358.72" width="11.32" height="5.35" fill="#f5f4f3"/>
<rect x="383.51" y="358.72" width="3.81" height="5.35" fill="#bd765d"/>
<rect x="387.27" y="358.72" width="3.81" height="5.35" fill="#cf9474"/>
<rect x="391.03" y="358.72" width="7.57" height="5.35" fill="#e7c1a6"/>
<rect x="398.55" y="358.72" width="3.81" height="5.35" fill="#bd765d"/>
<rect x="402.30" y="358.72" width="15.08" height="5.35" fill="#e7c1a6"/>
<rect x="417.34" y="358.72" width="3.81" height="5.35" fill="#eed5c3"/>
<rect x="421.09" y="358.72" width="11.32" height="5.35" fill="#f5f4f3"/>
<rect x="432.37" y="358.72" width="3.81" height="5.35" fill="#e7c1a6"/>
<rect x="436.13" y="358.72" width="3.81" height="5.35" fill="#f3e5da"/>
<rect x="439.88" y="358.72" width="3.81" height="5.35" fill="#eed5c3"/>
<rect x="443.64" y="358.72" width="3.81" height="5.35" fill="#e7c1a6"/>
<rect x="143.00" y="364.02" width="45.15" height="5.35" fill="#b3cbe4"/>
<rect x="188.10" y="364.02" width="3.81" height="5.35" fill="#eed5c3"/>
<rect x="191.85" y="364.02" width="3.81" height="5.35" fill="#e6ebf2"/>
<rect x="195.61" y="364.02" width="3.81" height="5.35" fill="#f3e5da"/>
<rect x="199.37" y="364.02" width="3.81" height="5.35" fill="#f5f4f3"/>
<rect x="203.13" y="364.02" width="3.81" height="5.35" fill="#bd765d"/>
<rect x="206.89" y="364.02" width="7.57" height="5.35" fill="#f5f4f3"/>
<rect x="214.40" y="364.02" width="3.81" height="5.35" fill="#e6ebf2"/>
<rect x="218.16" y="364.02" width="3.81" height="5.35" fill="#b3cbe4"/>
<rect x="221.92" y="364.02" width="3.81" height="5.35" fill="#d2dfed"/>
<rect x="225.68" y="364.02" width="7.57" height="5.35" fill="#f3e5da"/>
<rect x="233.19" y="364.02" width="3.81" height="5.35" fill="#eed5c3"/>
<rect x="236.95" y="364.02" width="3.81" height="5.35" fill="#d2dfed"/>
<rect x="240.71" y="364.02" width="3.81" height="5.35" fill="#b3cbe4"/>
<rect x="244.47" y="364.02" width="3.81" height="5.35" fill="#d2dfed"/>
<rect x="248.22" y="364.02" width="3.81" height="5.35" fill="#f3e5da"/>
<rect x="251.98" y="364.02" width="3.81" height="5.35" fill="#e6ebf2"/>
<rect x="255.74" y="364.02" width="7.57" height="5.35" fill="#eed5c3"/>
<rect x="263.26" y="364.02" width="3.81" height="5.35" fill="#e6ebf2"/>
<rect x="267.01" y="364.02" width="3.81" height="5.35" fill="#f5f4f3"/>
<rect x="270.77" y="364.02" width="3.81" height="5.35" fill="#b3cbe4"/>
<rect x="274.53" y="364.02" width="3.81" height="5.35" fill="#f3e5da"/>
<rect x="278.29" y="364.02" width="3.81" height="5.35" fill="#f5f4f3"/>
<rect x="282.05" y="364.02" width="3.81" height="5.35" fill="#dcaa8a"/>
<rect x="285.80" y="364.02" width="11.32" height="5.35" fill="#f5f4f3"/>
<rect x="297.08" y="364.02" width="3.81" height="5.35" fill="#e6ebf2"/>
<rect x="300.84" y="364.02" width="3.81" height="5.35" fill="#b3cbe4"/>
<rect x="304.60" y="364.02" width="3.81" height="5.35" fill="#e6ebf2"/>
<rect x="308.35" y="364.02" width="3.81" height="5.35" fill="#f5f4f3"/>
<rect x="312.11" y="364.02" width="3.81" height="5.35" fill="#e6ebf2"/>
<rect x="315.87" y="364.02" width="3.81" height="5.35" fill="#f3e5da"/>
<rect x="319.63" y="364.02" width="3.81" height="5.35" fill="#b3cbe4"/>
<rect x="323.39" y="364.02" width="3.81" height="5.35" fill="#f5f4f3"/>
<rect x="327.14" y="364.02" width="3.81" height="5.35" fill="#cf9474"/>
<rect x="330.90" y="364.02" width="3.81" height="5.35" fill="#dcaa8a"/>
<rect x="334.66" y="364.02" width="3.81" height="5.35" fill="#d2dfed"/>
<rect x="338.42" y="364.02" width="3.81" height="5.35" fill="#b3cbe4"/>
<rect x="342.18" y="364.02" width="3.81" height="5.35" fill="#f5f4f3"/>
<rect x="345.93" y="364.02" width="3.81" height="5.35" fill="#f3e5da"/>
<rect x="349.69" y="364.02" width="7.57" height="5.35" fill="#bd765d"/>
<rect x="357.21" y="364.02" width="3.81" height="5.35" fill="#f5f4f3"/>
<rect x="360.97" y="364.02" width="3.81" height="5.35" fill="#f3e5da"/>
<rect x="364.72" y="364.02" width="3.81" height="5.35" fill="#e6ebf2"/>
<rect x="368.48" y="364.02" width="3.81" height="5.35" fill="#f3e5da"/>
<rect x="372.24" y="364.02" width="3.81" height="5.35" fill="#f5f4f3"/>
<rect x="376.00" y="364.02" width="7.57" height="5.35" fill="#e6ebf2"/>
<rect x="383.51" y="364.02" width="3.81" height="5.35" fill="#b3cbe4"/>
<rect x="387.27" y="364.02" width="3.81" height="5.35" fill="#eed5c3"/>
<rect x="391.03" y="364.02" width="3.81" height="5.35" fill="#e6ebf2"/>
<rect x="394.79" y="364.02" width="3.81" height="5.35" fill="#f3e5da"/>
<rect x="398.55" y="364.02" width="3.81" height="5.35" fill="#bd765d"/>
<rect x="402.30" y="364.02" width="3.81" height="5.35" fill="#dcaa8a"/>
<rect x="406.06" y="364.02" width="3.81" height="5.35" fill="#e7c1a6"/>
<rect x="409.82" y="364.02" width="3.81" height="5.35" fill="#cf9474"/>
<rect x="413.58" y="364.02" width="3.81" height="5.35" fill="#f3e5da"/>
<rect x="417.34" y="364.02" width="7.57" height="5.35" fill="#e6ebf2"/>
<rect x="424.85" y="364.02" width="7.57" height="5.35" fill="#f3e5da"/>
<rect x="432.37" y="364.02" width="3.81" height="5.35" fill="#e7c1a6"/>
<rect x="436.13" y="364.02" width="3.81" height="5.35" fill="#eed5c3"/>
<rect x="439.88" y="364.02" width="3.81" height="5.35" fill="#e6ebf2"/>
<rect x="443.64" y="364.02" width="3.81" height="5.35" fill="#f3e5da"/>
<rect x="143.00" y="369.31" width="15.08" height="5.35" fill="#e6ebf2"/>
<rect x="158.03" y="369.31" width="3.81" height="5.35" fill="#d2dfed"/>
<rect x="161.79" y="369.31" width="3.81" height="5.35" fill="#e6ebf2"/>
<rect x="165.55" y="369.31" width="3.81" height="5.35" fill="#d2dfed"/>
<rect x="169.31" y="369.31" width="3.81" height="5.35" fill="#e6ebf2"/>
<rect x="173.06" y="369.31" width="3.81" height="5.35" fill="#d2dfed"/>
<rect x="176.82" y="369.31" width="11.32" height="5.35" fill="#e6ebf2"/>
<rect x="188.10" y="369.31" width="3.81" height="5.35" fill="#5c0b21"/>
<rect x="191.85" y="369.31" width="3.81" height="5.35" fill="#dcaa8a"/>
<rect x="195.61" y="369.31" width="3.81" height="5.35" fill="#cf9474"/>
<rect x="199.37" y="369.31" width="3.81" height="5.35" fill="#e7c1a6"/>
<rect x="203.13" y="369.31" width="3.81" height="5.35" fill="#f3e5da"/>
<rect x="206.89" y="369.31" width="7.57" height="5.35" fill="#f5f4f3"/>
<rect x="214.40" y="369.31" width="3.81" height="5.35" fill="#eed5c3"/>
<rect x="218.16" y="369.31" width="3.81" height="5.35" fill="#f3e5da"/>
<rect x="221.92" y="369.31" width="3.81" height="5.35" fill="#f5f4f3"/>
<rect x="225.68" y="369.31" width="11.32" height="5.35" fill="#e6ebf2"/>
<rect x="236.95" y="369.31" width="7.57" height="5.35" fill="#f5f4f3"/>
<rect x="244.47" y="369.31" width="3.81" height="5.35" fill="#cf9474"/>
<rect x="248.22" y="369.31" width="7.57" height="5.35" fill="#eed5c3"/>
<rect x="255.74" y="369.31" width="7.57" height="5.35" fill="#e6ebf2"/>
<rect x="263.26" y="369.31" width="3.81" height="5.35" fill="#f3e5da"/>
<rect x="267.01" y="369.31" width="11.32" height="5.35" fill="#e6ebf2"/>
<rect x="278.29" y="369.31" width="3.81" height="5.35" fill="#e7c1a6"/>
<rect x="282.05" y="369.31" width="3.81" height="5.35" fill="#eed5c3"/>
<rect x="285.80" y="369.31" width="3.81" height="5.35" fill="#e7c1a6"/>
<rect x="289.56" y="369.31" width="3.81" height="5.35" fill="#cf9474"/>
<rect x="293.32" y="369.31" width="3.81" height="5.35" fill="#f5f4f3"/>
<rect x="297.08" y="369.31" width="3.81" height="5.35" fill="#eed5c3"/>
<rect x="300.84" y="369.31" width="7.57" height="5.35" fill="#e6ebf2"/>
<rect x="308.35" y="369.31" width="11.32" height="5.35" fill="#f5f4f3"/>
<rect x="319.63" y="369.31" width="3.81" height="5.35" fill="#eed5c3"/>
<rect x="323.39" y="369.31" width="3.81" height="5.35" fill="#e6ebf2"/>
<rect x="327.14" y="369.31" width="7.57" height="5.35" fill="#f5f4f3"/>
<rect x="334.66" y="369.31" width="3.81" height="5.35" fill="#e7c1a6"/>
<rect x="338.42" y="369.31" width="3.81" height="5.35" fill="#f5f4f3"/>
<rect x="342.18" y="369.31" width="3.81" height="5.35" fill="#eed5c3"/>
<rect x="345.93" y="369.31" width="3.81" height="5.35" fill="#bd765d"/>
<rect x="349.69" y="369.31" width="3.81" height="5.35" fill="#f3e5da"/>
<rect x="353.45" y="369.31" width="7.57" height="5.35" fill="#f5f4f3"/>
<rect x="360.97" y="369.31" width="7.57" height="5.35" fill="#e6ebf2"/>
<rect x="368.48" y="369.31" width="3.81" height="5.35" fill="#f5f4f3"/>
<rect x="372.24" y="369.31" width="3.81" height="5.35" fill="#f3e5da"/>
<rect x="376.00" y="369.31" width="3.81" height="5.35" fill="#f5f4f3"/>
<rect x="379.76" y="369.31" width="3.81" height="5.35" fill="#e6ebf2"/>
<rect x="383.51" y="369.31" width="7.57" height="5.35" fill="#e7c1a6"/>
<rect x="391.03" y="369.31" width="7.57" height="5.35" fill="#f3e5da"/>
<rect x="398.55" y="369.31" width="3.81" height="5.35" fill="#e6ebf2"/>
<rect x="402.30" y="369.31" width="3.81" height="5.35" fill="#eed5c3"/>
<rect x="406.06" y="369.31" width="3.81" height="5.35" fill="#dcaa8a"/>
<rect x="409.82" y="369.31" width="3.81" height="5.35" fill="#e6ebf2"/>
<rect x="413.58" y="369.31" width="3.81" height="5.35" fill="#f3e5da"/>
<rect x="417.34" y="369.31" width="3.81" height="5.35" fill="#e6ebf2"/>
<rect x="421.09" y="369.31" width="7.57" height="5.35" fill="#eed5c3"/>
<rect x="428.61" y="369.31" width="7.57" height="5.35" fill="#e6ebf2"/>
<rect x="436.13" y="369.31" width="3.81" height="5.35" fill="#f5f4f3"/>
<rect x="439.88" y="369.31" width="3.81" height="5.35" fill="#e7c1a6"/>
<rect x="443.64" y="369.31" width="3.81" height="5.35" fill="#bd765d"/>
<rect x="143.00" y="374.61" width="11.32" height="5.35" fill="#e6ebf2"/>
<rect x="154.27" y="374.61" width="7.57" height="5.35" fill="#d2dfed"/>
<rect x="161.79" y="374.61" width="3.81" height="5.35" fill="#e6ebf2"/>
<rect x="165.55" y="374.61" width="15.08" height="5.35" fill="#d2dfed"/>
<rect x="180.58" y="374.61" width="3.81" height="5.35" fill="#e6ebf2"/>
<rect x="184.34" y="374.61" width="3.81" height="5.35" fill="#d2dfed"/>
<rect x="188.10" y="374.61" width="3.81" height="5.35" fill="#882e36"/>
<rect x="191.85" y="374.61" width="3.81" height="5.35" fill="#dcaa8a"/>
<rect x="195.61" y="374.61" width="3.81" height="5.35" fill="#bd765d"/>
<rect x="199.37" y="374.61" width="3.81" height="5.35" fill="#e7c1a6"/>
<rect x="203.13" y="374.61" width="3.81" height="5.35" fill="#eed5c3"/>
<rect x="206.89" y="374.61" width="7.57" height="5.35" fill="#e6ebf2"/>
<rect x="214.40" y="374.61" width="3.81" height="5.35" fill="#f5f4f3"/>
<rect x="218.16" y="374.61" width="3.81" height="5.35" fill="#e7c1a6"/>
<rect x="221.92" y="374.61" width="3.81" height="5.35" fill="#f5f4f3"/>
<rect x="225.68" y="374.61" width="11.32" height="5.35" fill="#e6ebf2"/>
<rect x="236.95" y="374.61" width="7.57" height="5.35" fill="#f5f4f3"/>
<rect x="244.47" y="374.61" width="3.81" height="5.35" fill="#bd765d"/>
<rect x="248.22" y="374.61" width="3.81" height="5.35" fill="#e7c1a6"/>
<rect x="251.98" y="374.61" width="3.81" height="5.35" fill="#cf9474"/>
<rect x="255.74" y="374.61" width="3.81" height="5.35" fill="#f5f4f3"/>
<rect x="259.50" y="374.61" width="3.81" height="5.35" fill="#f3e5da"/>
<rect x="263.26" y="374.61" width="3.81" height="5.35" fill="#e7c1a6"/>
<rect x="267.01" y="374.61" width="3.81" height="5.35" fill="#f3e5da"/>
<rect x="270.77" y="374.61" width="7.57" height="5.35" fill="#f5f4f3"/>
<rect x="278.29" y="374.61" width="3.81" height="5.35" fill="#dcaa8a"/>
<rect x="282.05" y="374.61" width="3.81" height="5.35" fill="#f3e5da"/>
<rect x="285.80" y="374.61" width="3.81" height="5.35" fill="#eed5c3"/>
<rect x="289.56" y="374.61" width="3.81" height="5.35" fill="#e7c1a6"/>
<rect x="293.32" y="374.61" width="3.81" height="5.35" fill="#f5f4f3"/>
<rect x="297.08" y="374.61" width="11.32" height="5.35" fill="#e6ebf2"/>
<rect x="308.35" y="374.61" width="7.57" height="5.35" fill="#f5f4f3"/>
<rect x="315.87" y="374.61" width="3.81" height="5.35" fill="#f3e5da"/>
<rect x="319.63" y="374.61" width="3.81" height="5.35" fill="#eed5c3"/>
<rect x="323.39" y="374.61" width="3.81" height="5.35" fill="#e6ebf2"/>
<rect x="327.14" y="374.61" width="7.57" height="5.35" fill="#f3e5da"/>
<rect x="334.66" y="374.61" width="3.81" height="5.35" fill="#f5f4f3"/>
<rect x="338.42" y="374.61" width="3.81" height="5.35" fill="#e6ebf2"/>
<rect x="342.18" y="374.61" width="3.81" height="5.35" fill="#f3e5da"/>
<rect x="345.93" y="374.61" width="3.81" height="5.35" fill="#e7c1a6"/>
<rect x="349.69" y="374.61" width="3.81" height="5.35" fill="#eed5c3"/>
<rect x="353.45" y="374.61" width="3.81" height="5.35" fill="#f5f4f3"/>
<rect x="357.21" y="374.61" width="3.81" height="5.35" fill="#f3e5da"/>
<rect x="360.97" y="374.61" width="3.81" height="5.35" fill="#f5f4f3"/>
<rect x="364.72" y="374.61" width="3.81" height="5.35" fill="#d2dfed"/>
<rect x="368.48" y="374.61" width="3.81" height="5.35" fill="#f5f4f3"/>
<rect x="372.24" y="374.61" width="3.81" height="5.35" fill="#f3e5da"/>
<rect x="376.00" y="374.61" width="7.57" height="5.35" fill="#e6ebf2"/>
<rect x="383.51" y="374.61" width="3.81" height="5.35" fill="#e7c1a6"/>
<rect x="387.27" y="374.61" width="3.81" height="5.35" fill="#f3e5da"/>
<rect x="391.03" y="374.61" width="3.81" height="5.35" fill="#f5f4f3"/>
<rect x="394.79" y="374.61" width="3.81" height="5.35" fill="#eed5c3"/>
<rect x="398.55" y="374.61" width="7.57" height="5.35" fill="#f5f4f3"/>
<rect x="406.06" y="374.61" width="3.81" height="5.35" fill="#dcaa8a"/>
<rect x="409.82" y="374.61" width="7.57" height="5.35" fill="#e6ebf2"/>
<rect x="417.34" y="374.61" width="3.81" height="5.35" fill="#dcaa8a"/>
<rect x="421.09" y="374.61" width="3.81" height="5.35" fill="#f3e5da"/>
<rect x="424.85" y="374.61" width="3.81" height="5.35" fill="#f5f4f3"/>
<rect x="428.61" y="374.61" width="11.32" height="5.35" fill="#d2dfed"/>
<rect x="439.88" y="374.61" width="3.81" height="5.35" fill="#f5f4f3"/>
<rect x="443.64" y="374.61" width="3.81" height="5.35" fill="#e7c1a6"/>
<rect x="143.00" y="379.91" width="41.39" height="5.35" fill="#d2dfed"/>
<rect x="184.34" y="379.91" width="3.81" height="5.35" fill="#e6ebf2"/>
<rect x="188.10" y="379.91" width="3.81" height="5.35" fill="#f3e5da"/>
<rect x="191.85" y="379.91" width="3.81" height="5.35" fill="#cf9474"/>
<rect x="195.61" y="379.91" width="3.81" height="5.35" fill="#f3e5da"/>
<rect x="199.37" y="379.91" width="7.57" height="5.35" fill="#e6ebf2"/>
<rect x="206.89" y="379.91" width="3.81" height="5.35" fill="#f3e5da"/>
<rect x="210.64" y="379.91" width="11.32" height="5.35" fill="#e7c1a6"/>
<rect x="221.92" y="379.91" width="3.81" height="5.35" fill="#f5f4f3"/>
<rect x="225.68" y="379.91" width="3.81" height="5.35" fill="#e6ebf2"/>
<rect x="229.43" y="379.91" width="3.81" height="5.35" fill="#f5f4f3"/>
<rect x="233.19" y="379.91" width="3.81" height="5.35" fill="#e6ebf2"/>
<rect x="236.95" y="379.91" width="3.81" height="5.35" fill="#eed5c3"/>
<rect x="240.71" y="379.91" width="3.81" height="5.35" fill="#e6ebf2"/>
<rect x="244.47" y="379.91" width="11.32" height="5.35" fill="#f3e5da"/>
<rect x="255.74" y="379.91" width="3.81" height="5.35" fill="#f5f4f3"/>
<rect x="259.50" y="379.91" width="7.57" height="5.35" fill="#a65548"/>
<rect x="267.01" y="379.91" width="11.32" height="5.35" fill="#cf9474"/>
<rect x="278.29" y="379.91" width="3.81" height="5.35" fill="#bd765d"/>
<rect x="282.05" y="379.91" width="3.81" height="5.35" fill="#eed5c3"/>
<rect x="285.80" y="379.91" width="3.81" height="5.35" fill="#dcaa8a"/>
<rect x="289.56" y="379.91" width="3.81" height="5.35" fill="#eed5c3"/>
<rect x="293.32" y="379.91" width="3.81" height="5.35" fill="#882e36"/>
<rect x="297.08" y="379.91" width="3.81" height="5.35" fill="#bd765d"/>
<rect x="300.84" y="379.91" width="3.81" height="5.35" fill="#e7c1a6"/>
<rect x="304.60" y="379.91" width="11.32" height="5.35" fill="#e6ebf2"/>
<rect x="315.87" y="379.91" width="3.81" height="5.35" fill="#f5f4f3"/>
<rect x="319.63" y="379.91" width="3.81" height="5.35" fill="#f3e5da"/>
<rect x="323.39" y="379.91" width="3.81" height="5.35" fill="#d2dfed"/>
<rect x="327.14" y="379.91" width="7.57" height="5.35" fill="#f3e5da"/>
<rect x="334.66" y="379.91" width="3.81" height="5.35" fill="#bd765d"/>
<rect x="338.42" y="379.91" width="3.81" height="5.35" fill="#e7c1a6"/>
<rect x="342.18" y="379.91" width="3.81" height="5.35" fill="#eed5c3"/>
<rect x="345.93" y="379.91" width="3.81" height="5.35" fill="#f3e5da"/>
<rect x="349.69" y="379.91" width="3.81" height="5.35" fill="#eed5c3"/>
<rect x="353.45" y="379.91" width="3.81" height="5.35" fill="#f5f4f3"/>
<rect x="357.21" y="379.91" width="7.57" height="5.35" fill="#e6ebf2"/>
<rect x="364.72" y="379.91" width="7.57" height="5.35" fill="#f5f4f3"/>
<rect x="372.24" y="379.91" width="3.81" height="5.35" fill="#eed5c3"/>
<rect x="376.00" y="379.91" width="3.81" height="5.35" fill="#f5f4f3"/>
<rect x="379.76" y="379.91" width="33.87" height="5.35" fill="#e6ebf2"/>
<rect x="413.58" y="379.91" width="3.81" height="5.35" fill="#f3e5da"/>
<rect x="417.34" y="379.91" width="3.81" height="5.35" fill="#d2dfed"/>
<rect x="421.09" y="379.91" width="7.57" height="5.35" fill="#f5f4f3"/>
<rect x="428.61" y="379.91" width="11.32" height="5.35" fill="#e6ebf2"/>
<rect x="439.88" y="379.91" width="3.81" height="5.35" fill="#f5f4f3"/>
<rect x="443.64" y="379.91" width="3.81" height="5.35" fill="#f3e5da"/>
<rect x="143.00" y="385.21" width="41.39" height="5.35" fill="#d2dfed"/>
<rect x="184.34" y="385.21" width="3.81" height="5.35" fill="#e6ebf2"/>
<rect x="188.10" y="385.21" width="3.81" height="5.35" fill="#f5f4f3"/>
<rect x="191.85" y="385.21" width="3.81" height="5.35" fill="#cf9474"/>
<rect x="195.61" y="385.21" width="3.81" height="5.35" fill="#e6ebf2"/>
<rect x="199.37" y="385.21" width="3.81" height="5.35" fill="#eed5c3"/>
<rect x="203.13" y="385.21" width="3.81" height="5.35" fill="#e6ebf2"/>
<rect x="206.89" y="385.21" width="3.81" height="5.35" fill="#f3e5da"/>
<rect x="210.64" y="385.21" width="11.32" height="5.35" fill="#eed5c3"/>
<rect x="221.92" y="385.21" width="15.08" height="5.35" fill="#e6ebf2"/>
<rect x="236.95" y="385.21" width="3.81" height="5.35" fill="#f3e5da"/>
<rect x="240.71" y="385.21" width="3.81" height="5.35" fill="#e6ebf2"/>
<rect x="244.47" y="385.21" width="3.81" height="5.35" fill="#f3e5da"/>
<rect x="248.22" y="385.21" width="3.81" height="5.35" fill="#eed5c3"/>
<rect x="251.98" y="385.21" width="7.57" height="5.35" fill="#f5f4f3"/>
<rect x="259.50" y="385.21" width="3.81" height="5.35" fill="#e7c1a6"/>
<rect x="263.26" y="385.21" width="3.81" height="5.35" fill="#a65548"/>
<rect x="267.01" y="385.21" width="3.81" height="5.35" fill="#e7c1a6"/>
<rect x="270.77" y="385.21" width="3.81" height="5.35" fill="#dcaa8a"/>
<rect x="274.53" y="385.21" width="3.81" height="5.35" fill="#e7c1a6"/>
<rect x="278.29" y="385.21" width="3.81" height="5.35" fill="#dcaa8a"/>
<rect x="282.05" y="385.21" width="3.81" height="5.35" fill="#f3e5da"/>
<rect x="285.80" y="385.21" width="3.81" height="5.35" fill="#e7c1a6"/>
<rect x="289.56" y="385.21" width="3.81" height="5.35" fill="#f3e5da"/>
<rect x="293.32" y="385.21" width="3.81" height="5.35" fill="#bd765d"/>
<rect x="297.08" y="385.21" width="3.81" height="5.35" fill="#f3e5da"/>
<rect x="300.84" y="385.21" width="3.81" height="5.35" fill="#e7c1a6"/>
<rect x="304.60" y="385.21" width="3.81" height="5.35" fill="#e6ebf2"/>
<rect x="308.35" y="385.21" width="3.81" height="5.35" fill="#f5f4f3"/>
<rect x="312.11" y="385.21" width="3.81" height="5.35" fill="#f3e5da"/>
<rect x="315.87" y="385.21" width="3.81" height="5.35" fill="#e6ebf2"/>
<rect x="319.63" y="385.21" width="3.81" height="5.35" fill="#eed5c3"/>
<rect x="323.39" y="385.21" width="3.81" height="5.35" fill="#e7c1a6"/>
<rect x="327.14" y="385.21" width="3.81" height="5.35" fill="#f5f4f3"/>
<rect x="330.90" y="385.21" width="3.81" height="5.35" fill="#e7c1a6"/>
<rect x="334.66" y="385.21" width="3.81" height="5.35" fill="#bd765d"/>
<rect x="338.42" y="385.21" width="3.81" height="5.35" fill="#eed5c3"/>
<rect x="342.18" y="385.21" width="3.81" height="5.35" fill="#e7c1a6"/>
<rect x="345.93" y="385.21" width="3.81" height="5.35" fill="#f3e5da"/>
<rect x="349.69" y="385.21" width="3.81" height="5.35" fill="#eed5c3"/>
<rect x="353.45" y="385.21" width="3.81" height="5.35" fill="#f5f4f3"/>
<rect x="357.21" y="385.21" width="7.57" height="5.35" fill="#e6ebf2"/>
<rect x="364.72" y="385.21" width="3.81" height="5.35" fill="#f3e5da"/>
<rect x="368.48" y="385.21" width="7.57" height="5.35" fill="#f5f4f3"/>
<rect x="376.00" y="385.21" width="7.57" height="5.35" fill="#e6ebf2"/>
<rect x="383.51" y="385.21" width="3.81" height="5.35" fill="#f5f4f3"/>
<rect x="387.27" y="385.21" width="3.81" height="5.35" fill="#e6ebf2"/>
<rect x="391.03" y="385.21" width="3.81" height="5.35" fill="#d2dfed"/>
<rect x="394.79" y="385.21" width="7.57" height="5.35" fill="#e6ebf2"/>
<rect x="402.30" y="385.21" width="3.81" height="5.35" fill="#f5f4f3"/>
<rect x="406.06" y="385.21" width="3.81" height="5.35" fill="#e6ebf2"/>
<rect x="409.82" y="385.21" width="3.81" height="5.35" fill="#d2dfed"/>
<rect x="413.58" y="385.21" width="3.81" height="5.35" fill="#e6ebf2"/>
<rect x="417.34" y="385.21" width="3.81" height="5.35" fill="#d2dfed"/>
<rect x="421.09" y="385.21" width="7.57" height="5.35" fill="#f5f4f3"/>
<rect x="428.61" y="385.21" width="3.81" height="5.35" fill="#e6ebf2"/>
<rect x="432.37" y="385.21" width="3.81" height="5.35" fill="#b3cbe4"/>
<rect x="436.13" y="385.21" width="11.32" height="5.35" fill="#f5f4f3"/>
<rect x="143.00" y="390.50" width="45.15" height="5.35" fill="#f5f4f3"/>
<rect x="188.10" y="390.50" width="3.81" height="5.35" fill="#f3e5da"/>
<rect x="191.85" y="390.50" width="3.81" height="5.35" fill="#dcaa8a"/>
<rect x="195.61" y="390.50" width="3.81" height="5.35" fill="#a65548"/>
<rect x="199.37" y="390.50" width="3.81" height="5.35" fill="#e7c1a6"/>
<rect x="203.13" y="390.50" width="3.81" height="5.35" fill="#dcaa8a"/>
<rect x="206.89" y="390.50" width="3.81" height="5.35" fill="#f5f4f3"/>
<rect x="210.64" y="390.50" width="3.81" height="5.35" fill="#eed5c3"/>
<rect x="214.40" y="390.50" width="7.57" height="5.35" fill="#f3e5da"/>
<rect x="221.92" y="390.50" width="3.81" height="5.35" fill="#eed5c3"/>
<rect x="225.68" y="390.50" width="7.57" height="5.35" fill="#f5f4f3"/>
<rect x="233.19" y="390.50" width="3.81" height="5.35" fill="#e7c1a6"/>
<rect x="236.95" y="390.50" width="15.08" height="5.35" fill="#bd765d"/>
<rect x="251.98" y="390.50" width="7.57" height="5.35" fill="#882e36"/>
<rect x="259.50" y="390.50" width="3.81" height="5.35" fill="#e7c1a6"/>
<rect x="263.26" y="390.50" width="3.81" height="5.35" fill="#5c0b21"/>
<rect x="267.01" y="390.50" width="11.32" height="5.35" fill="#eed5c3"/>
<rect x="278.29" y="390.50" width="3.81" height="5.35" fill="#f3e5da"/>
<rect x="282.05" y="390.50" width="3.81" height="5.35" fill="#eed5c3"/>
<rect x="285.80" y="390.50" width="3.81" height="5.35" fill="#f3e5da"/>
<rect x="289.56" y="390.50" width="7.57" height="5.35" fill="#e7c1a6"/>
<rect x="297.08" y="390.50" width="3.81" height="5.35" fill="#f5f4f3"/>
<rect x="300.84" y="390.50" width="3.81" height="5.35" fill="#e6ebf2"/>
<rect x="304.60" y="390.50" width="3.81" height="5.35" fill="#882e36"/>
<rect x="308.35" y="390.50" width="7.57" height="5.35" fill="#f5f4f3"/>
<rect x="315.87" y="390.50" width="3.81" height="5.35" fill="#eed5c3"/>
<rect x="319.63" y="390.50" width="3.81" height="5.35" fill="#f3e5da"/>
<rect x="323.39" y="390.50" width="3.81" height="5.35" fill="#e6ebf2"/>
<rect x="327.14" y="390.50" width="3.81" height="5.35" fill="#e7c1a6"/>
<rect x="330.90" y="390.50" width="26.36" height="5.35" fill="#f5f4f3"/>
<rect x="357.21" y="390.50" width="3.81" height="5.35" fill="#f3e5da"/>
<rect x="360.97" y="390.50" width="7.57" height="5.35" fill="#f5f4f3"/>
<rect x="368.48" y="390.50" width="3.81" height="5.35" fill="#e6ebf2"/>
<rect x="372.24" y="390.50" width="15.08" height="5.35" fill="#f5f4f3"/>
<rect x="387.27" y="390.50" width="3.81" height="5.35" fill="#f3e5da"/>
<rect x="391.03" y="390.50" width="7.57" height="5.35" fill="#f5f4f3"/>
<rect x="398.55" y="390.50" width="11.32" height="5.35" fill="#e6ebf2"/>
<rect x="409.82" y="390.50" width="3.81" height="5.35" fill="#e7c1a6"/>
<rect x="413.58" y="390.50" width="3.81" height="5.35" fill="#f5f4f3"/>
<rect x="417.34" y="390.50" width="7.57" height="5.35" fill="#e6ebf2"/>
<rect x="424.85" y="390.50" width="22.60" height="5.35" fill="#f5f4f3"/>
</g>
<text x="450.70" y="193.85" font-size="5.45" text-anchor="start" font-weight="normal" fill="#000" >NK</text>
<text x="450.70" y="199.15" font-size="5.45" text-anchor="start" font-weight="normal" fill="#000" >NKT</text>
<text x="450.70" y="204.44" font-size="5.45" text-anchor="start" font-weight="normal" fill="#000" >B pSTAT1+</text>
<text x="450.70" y="209.74" font-size="5.45" text-anchor="start" font-weight="normal" fill="#000" >M1</text>
<text x="450.70" y="215.04" font-size="5.45" text-anchor="start" font-weight="normal" fill="#000" >TIM3+</text>
<text x="450.70" y="220.34" font-size="5.45" text-anchor="start" font-weight="normal" fill="#000" >Tcyt CD27+</text>
<text x="450.70" y="225.63" font-size="5.45" text-anchor="start" font-weight="normal" fill="#000" >Thelp CD27+</text>
<text x="450.70" y="230.93" font-size="5.45" text-anchor="start" font-weight="normal" fill="#000" >Thelp GrB+</text>
<text x="450.70" y="236.23" font-size="5.45" text-anchor="start" font-weight="normal" fill="#000" >Tcyt GrB+</text>
<text x="450.70" y="241.53" font-size="5.45" text-anchor="start" font-weight="normal" fill="#000" >Thelp CD57+</text>
<text x="450.70" y="246.82" font-size="5.45" text-anchor="start" font-weight="normal" fill="#000" >Tcyt CD57+</text>
<text x="450.70" y="252.12" font-size="5.45" text-anchor="start" font-weight="normal" fill="#000" >Tcyt</text>
<text x="450.70" y="257.42" font-size="5.45" text-anchor="start" font-weight="normal" fill="#000" >Thelp</text>
<text x="450.70" y="262.72" font-size="5.45" text-anchor="start" font-weight="normal" fill="#000" >CD3+</text>
<text x="450.70" y="268.01" font-size="5.45" text-anchor="start" font-weight="normal" fill="#000" >NK pSTAT1+</text>
<text x="450.70" y="273.31" font-size="5.45" text-anchor="start" font-weight="normal" fill="#000" >HLAABC+</text>
<text x="450.70" y="278.61" font-size="5.45" text-anchor="start" font-weight="normal" fill="#000" >PDL1+</text>
<text x="450.70" y="283.91" font-size="5.45" text-anchor="start" font-weight="normal" fill="#000" >B</text>
<text x="450.70" y="289.20" font-size="5.45" text-anchor="start" font-weight="normal" fill="#000" >mDC2</text>
<text x="450.70" y="294.50" font-size="5.45" text-anchor="start" font-weight="normal" fill="#000" >Tcyt LAG3+</text>
<text x="450.70" y="299.80" font-size="5.45" text-anchor="start" font-weight="normal" fill="#000" >Thelp LAG3+</text>
<text x="450.70" y="305.09" font-size="5.45" text-anchor="start" font-weight="normal" fill="#000" >Thelp CTLA4+</text>
<text x="450.70" y="310.39" font-size="5.45" text-anchor="start" font-weight="normal" fill="#000" >Tcyt CTLA4+</text>
<text x="450.70" y="315.69" font-size="5.45" text-anchor="start" font-weight="normal" fill="#000" >Tcyt TIM3+</text>
<text x="450.70" y="320.99" font-size="5.45" text-anchor="start" font-weight="normal" fill="#000" >Thelp TIM3+</text>
<text x="450.70" y="326.28" font-size="5.45" text-anchor="start" font-weight="normal" fill="#000" >HLAG+</text>
<text x="450.70" y="331.58" font-size="5.45" text-anchor="start" font-weight="normal" fill="#000" >Thelp OX40+</text>
<text x="450.70" y="336.88" font-size="5.45" text-anchor="start" font-weight="normal" fill="#000" >Tcyt OX40+</text>
<text x="450.70" y="342.18" font-size="5.45" text-anchor="start" font-weight="normal" fill="#000" >Treg</text>
<text x="450.70" y="347.47" font-size="5.45" text-anchor="start" font-weight="normal" fill="#000" >Tcyt CD45RO+</text>
<text x="450.70" y="352.77" font-size="5.45" text-anchor="start" font-weight="normal" fill="#000" >Thelp CD45RO+</text>
<text x="450.70" y="358.07" font-size="5.45" text-anchor="start" font-weight="normal" fill="#000" >MDSC</text>
<text x="450.70" y="363.37" font-size="5.45" text-anchor="start" font-weight="normal" fill="#000" >mDC1</text>
<text x="450.70" y="368.66" font-size="5.45" text-anchor="start" font-weight="normal" fill="#000" >M2</text>
<text x="450.70" y="373.96" font-size="5.45" text-anchor="start" font-weight="normal" fill="#000" >Tcyt PD1+</text>
<text x="450.70" y="379.26" font-size="5.45" text-anchor="start" font-weight="normal" fill="#000" >Thelp PD1+</text>
<text x="450.70" y="384.56" font-size="5.45" text-anchor="start" font-weight="normal" fill="#000" >Tcyt CD25+</text>
<text x="450.70" y="389.85" font-size="5.45" text-anchor="start" font-weight="normal" fill="#000" >Thelp CD25+</text>
<text x="450.70" y="395.15" font-size="5.45" text-anchor="start" font-weight="normal" fill="#000" >PDL2+</text>
<line x1="137.00" y1="191.85" x2="138.60" y2="191.85" stroke="#000" stroke-width="0.7" />
<line x1="137.00" y1="197.15" x2="138.60" y2="197.15" stroke="#000" stroke-width="0.7" />
<line x1="137.00" y1="191.85" x2="137.00" y2="197.15" stroke="#000" stroke-width="0.7" />
<line x1="137.50" y1="207.74" x2="138.60" y2="207.74" stroke="#000" stroke-width="0.7" />
<line x1="137.50" y1="213.04" x2="138.60" y2="213.04" stroke="#000" stroke-width="0.7" />
<line x1="137.50" y1="207.74" x2="137.50" y2="213.04" stroke="#000" stroke-width="0.7" />
<line x1="136.00" y1="202.44" x2="138.60" y2="202.44" stroke="#000" stroke-width="0.7" />
<line x1="136.00" y1="210.39" x2="137.50" y2="210.39" stroke="#000" stroke-width="0.7" />
<line x1="136.00" y1="202.44" x2="136.00" y2="210.39" stroke="#000" stroke-width="0.7" />
<line x1="133.20" y1="194.50" x2="137.00" y2="194.50" stroke="#000" stroke-width="0.7" />
<line x1="133.20" y1="206.42" x2="136.00" y2="206.42" stroke="#000" stroke-width="0.7" />
<line x1="133.20" y1="194.50" x2="133.20" y2="206.42" stroke="#000" stroke-width="0.7" />
<line x1="137.00" y1="218.34" x2="138.60" y2="218.34" stroke="#000" stroke-width="0.7" />
<line x1="137.00" y1="223.63" x2="138.60" y2="223.63" stroke="#000" stroke-width="0.7" />
<line x1="137.00" y1="218.34" x2="137.00" y2="223.63" stroke="#000" stroke-width="0.7" />
<line x1="137.00" y1="228.93" x2="138.60" y2="228.93" stroke="#000" stroke-width="0.7" />
<line x1="137.00" y1="234.23" x2="138.60" y2="234.23" stroke="#000" stroke-width="0.7" />
<line x1="137.00" y1="228.93" x2="137.00" y2="234.23" stroke="#000" stroke-width="0.7" />
<line x1="137.00" y1="239.53" x2="138.60" y2="239.53" stroke="#000" stroke-width="0.7" />
<line x1="137.00" y1="244.82" x2="138.60" y2="244.82" stroke="#000" stroke-width="0.7" />
<line x1="137.00" y1="239.53" x2="137.00" y2="244.82" stroke="#000" stroke-width="0.7" />
<line x1="133.70" y1="231.58" x2="137.00" y2="231.58" stroke="#000" stroke-width="0.7" />
<line x1="133.70" y1="242.17" x2="137.00" y2="242.17" stroke="#000" stroke-width="0.7" />
<line x1="133.70" y1="231.58" x2="133.70" y2="242.17" stroke="#000" stroke-width="0.7" />
<line x1="127.70" y1="220.98" x2="137.00" y2="220.98" stroke="#000" stroke-width="0.7" />
<line x1="127.70" y1="236.88" x2="133.70" y2="236.88" stroke="#000" stroke-width="0.7" />
<line x1="127.70" y1="220.98" x2="127.70" y2="236.88" stroke="#000" stroke-width="0.7" />
<line x1="124.40" y1="200.46" x2="133.20" y2="200.46" stroke="#000" stroke-width="0.7" />
<line x1="124.40" y1="228.93" x2="127.70" y2="228.93" stroke="#000" stroke-width="0.7" />
<line x1="124.40" y1="200.46" x2="124.40" y2="228.93" stroke="#000" stroke-width="0.7" />
<line x1="137.00" y1="250.12" x2="138.60" y2="250.12" stroke="#000" stroke-width="0.7" />
<line x1="137.00" y1="255.42" x2="138.60" y2="255.42" stroke="#000" stroke-width="0.7" />
<line x1="137.00" y1="250.12" x2="137.00" y2="255.42" stroke="#000" stroke-width="0.7" />
<line x1="136.00" y1="252.77" x2="137.00" y2="252.77" stroke="#000" stroke-width="0.7" />
<line x1="136.00" y1="260.72" x2="138.60" y2="260.72" stroke="#000" stroke-width="0.7" />
<line x1="136.00" y1="252.77" x2="136.00" y2="260.72" stroke="#000" stroke-width="0.7" />
<line x1="137.00" y1="266.01" x2="138.60" y2="266.01" stroke="#000" stroke-width="0.7" />
<line x1="137.00" y1="271.31" x2="138.60" y2="271.31" stroke="#000" stroke-width="0.7" />
<line x1="137.00" y1="266.01" x2="137.00" y2="271.31" stroke="#000" stroke-width="0.7" />
<line x1="137.00" y1="276.61" x2="138.60" y2="276.61" stroke="#000" stroke-width="0.7" />
<line x1="137.00" y1="281.91" x2="138.60" y2="281.91" stroke="#000" stroke-width="0.7" />
<line x1="137.00" y1="276.61" x2="137.00" y2="281.91" stroke="#000" stroke-width="0.7" />
<line x1="135.00" y1="268.66" x2="137.00" y2="268.66" stroke="#000" stroke-width="0.7" />
<line x1="135.00" y1="279.26" x2="137.00" y2="279.26" stroke="#000" stroke-width="0.7" />
<line x1="135.00" y1="268.66" x2="135.00" y2="279.26" stroke="#000" stroke-width="0.7" />
<line x1="131.80" y1="256.74" x2="136.00" y2="256.74" stroke="#000" stroke-width="0.7" />
<line x1="131.80" y1="273.96" x2="135.00" y2="273.96" stroke="#000" stroke-width="0.7" />
<line x1="131.80" y1="256.74" x2="131.80" y2="273.96" stroke="#000" stroke-width="0.7" />
<line x1="131.50" y1="265.35" x2="131.80" y2="265.35" stroke="#000" stroke-width="0.7" />
<line x1="131.50" y1="287.20" x2="138.60" y2="287.20" stroke="#000" stroke-width="0.7" />
<line x1="131.50" y1="265.35" x2="131.50" y2="287.20" stroke="#000" stroke-width="0.7" />
<line x1="138.10" y1="292.50" x2="138.60" y2="292.50" stroke="#000" stroke-width="0.7" />
<line x1="138.10" y1="297.80" x2="138.60" y2="297.80" stroke="#000" stroke-width="0.7" />
<line x1="138.10" y1="292.50" x2="138.10" y2="297.80" stroke="#000" stroke-width="0.7" />
<line x1="117.30" y1="276.28" x2="131.50" y2="276.28" stroke="#000" stroke-width="0.7" />
<line x1="117.30" y1="295.15" x2="138.10" y2="295.15" stroke="#000" stroke-width="0.7" />
<line x1="117.30" y1="276.28" x2="117.30" y2="295.15" stroke="#000" stroke-width="0.7" />
<line x1="114.40" y1="214.69" x2="124.40" y2="214.69" stroke="#000" stroke-width="0.7" />
<line x1="114.40" y1="285.71" x2="117.30" y2="285.71" stroke="#000" stroke-width="0.7" />
<line x1="114.40" y1="214.69" x2="114.40" y2="285.71" stroke="#000" stroke-width="0.7" />
<line x1="134.00" y1="303.09" x2="138.60" y2="303.09" stroke="#000" stroke-width="0.7" />
<line x1="134.00" y1="308.39" x2="138.60" y2="308.39" stroke="#000" stroke-width="0.7" />
<line x1="134.00" y1="303.09" x2="134.00" y2="308.39" stroke="#000" stroke-width="0.7" />
<line x1="137.50" y1="313.69" x2="138.60" y2="313.69" stroke="#000" stroke-width="0.7" />
<line x1="137.50" y1="318.99" x2="138.60" y2="318.99" stroke="#000" stroke-width="0.7" />
<line x1="137.50" y1="313.69" x2="137.50" y2="318.99" stroke="#000" stroke-width="0.7" />
<line x1="133.00" y1="305.74" x2="134.00" y2="305.74" stroke="#000" stroke-width="0.7" />
<line x1="133.00" y1="316.34" x2="137.50" y2="316.34" stroke="#000" stroke-width="0.7" />
<line x1="133.00" y1="305.74" x2="133.00" y2="316.34" stroke="#000" stroke-width="0.7" />
<line x1="131.00" y1="311.04" x2="133.00" y2="311.04" stroke="#000" stroke-width="0.7" />
<line x1="131.00" y1="324.28" x2="138.60" y2="324.28" stroke="#000" stroke-width="0.7" />
<line x1="131.00" y1="311.04" x2="131.00" y2="324.28" stroke="#000" stroke-width="0.7" />
<line x1="130.50" y1="329.58" x2="138.60" y2="329.58" stroke="#000" stroke-width="0.7" />
<line x1="130.50" y1="334.88" x2="138.60" y2="334.88" stroke="#000" stroke-width="0.7" />
<line x1="130.50" y1="329.58" x2="130.50" y2="334.88" stroke="#000" stroke-width="0.7" />
<line x1="121.20" y1="317.66" x2="131.00" y2="317.66" stroke="#000" stroke-width="0.7" />
<line x1="121.20" y1="332.23" x2="130.50" y2="332.23" stroke="#000" stroke-width="0.7" />
<line x1="121.20" y1="317.66" x2="121.20" y2="332.23" stroke="#000" stroke-width="0.7" />
<line x1="135.00" y1="345.47" x2="138.60" y2="345.47" stroke="#000" stroke-width="0.7" />
<line x1="135.00" y1="350.77" x2="138.60" y2="350.77" stroke="#000" stroke-width="0.7" />
<line x1="135.00" y1="345.47" x2="135.00" y2="350.77" stroke="#000" stroke-width="0.7" />
<line x1="131.00" y1="340.18" x2="138.60" y2="340.18" stroke="#000" stroke-width="0.7" />
<line x1="131.00" y1="348.12" x2="135.00" y2="348.12" stroke="#000" stroke-width="0.7" />
<line x1="131.00" y1="340.18" x2="131.00" y2="348.12" stroke="#000" stroke-width="0.7" />
<line x1="128.30" y1="344.15" x2="131.00" y2="344.15" stroke="#000" stroke-width="0.7" />
<line x1="128.30" y1="356.07" x2="138.60" y2="356.07" stroke="#000" stroke-width="0.7" />
<line x1="128.30" y1="344.15" x2="128.30" y2="356.07" stroke="#000" stroke-width="0.7" />
<line x1="112.20" y1="324.95" x2="121.20" y2="324.95" stroke="#000" stroke-width="0.7" />
<line x1="112.20" y1="350.11" x2="128.30" y2="350.11" stroke="#000" stroke-width="0.7" />
<line x1="112.20" y1="324.95" x2="112.20" y2="350.11" stroke="#000" stroke-width="0.7" />
<line x1="132.40" y1="361.37" x2="138.60" y2="361.37" stroke="#000" stroke-width="0.7" />
<line x1="132.40" y1="366.66" x2="138.60" y2="366.66" stroke="#000" stroke-width="0.7" />
<line x1="132.40" y1="361.37" x2="132.40" y2="366.66" stroke="#000" stroke-width="0.7" />
<line x1="110.20" y1="337.53" x2="112.20" y2="337.53" stroke="#000" stroke-width="0.7" />
<line x1="110.20" y1="364.02" x2="132.40" y2="364.02" stroke="#000" stroke-width="0.7" />
<line x1="110.20" y1="337.53" x2="110.20" y2="364.02" stroke="#000" stroke-width="0.7" />
<line x1="136.00" y1="371.96" x2="138.60" y2="371.96" stroke="#000" stroke-width="0.7" />
<line x1="136.00" y1="377.26" x2="138.60" y2="377.26" stroke="#000" stroke-width="0.7" />
<line x1="136.00" y1="371.96" x2="136.00" y2="377.26" stroke="#000" stroke-width="0.7" />
<line x1="136.00" y1="382.56" x2="138.60" y2="382.56" stroke="#000" stroke-width="0.7" />
<line x1="136.00" y1="387.85" x2="138.60" y2="387.85" stroke="#000" stroke-width="0.7" />
<line x1="136.00" y1="382.56" x2="136.00" y2="387.85" stroke="#000" stroke-width="0.7" />
<line x1="128.60" y1="374.61" x2="136.00" y2="374.61" stroke="#000" stroke-width="0.7" />
<line x1="128.60" y1="385.21" x2="136.00" y2="385.21" stroke="#000" stroke-width="0.7" />
<line x1="128.60" y1="374.61" x2="128.60" y2="385.21" stroke="#000" stroke-width="0.7" />
<line x1="125.50" y1="379.91" x2="128.60" y2="379.91" stroke="#000" stroke-width="0.7" />
<line x1="125.50" y1="393.15" x2="138.60" y2="393.15" stroke="#000" stroke-width="0.7" />
<line x1="125.50" y1="379.91" x2="125.50" y2="393.15" stroke="#000" stroke-width="0.7" />
<line x1="94.80" y1="350.77" x2="110.20" y2="350.77" stroke="#000" stroke-width="0.7" />
<line x1="94.80" y1="386.53" x2="125.50" y2="386.53" stroke="#000" stroke-width="0.7" />
<line x1="94.80" y1="350.77" x2="94.80" y2="386.53" stroke="#000" stroke-width="0.7" />
<line x1="56.40" y1="250.20" x2="114.40" y2="250.20" stroke="#000" stroke-width="0.7" />
<line x1="56.40" y1="368.65" x2="94.80" y2="368.65" stroke="#000" stroke-width="0.7" />
<line x1="56.40" y1="250.20" x2="56.40" y2="368.65" stroke="#000" stroke-width="0.7" />
<line x1="154.50" y1="6.80" x2="276.30" y2="6.80" stroke="#000" stroke-width="0.7" />
<line x1="276.30" y1="6.80" x2="276.30" y2="33.50" stroke="#000" stroke-width="0.7" />
<line x1="219.00" y1="33.50" x2="334.00" y2="33.50" stroke="#000" stroke-width="0.7" />
<line x1="219.00" y1="33.50" x2="219.00" y2="61.00" stroke="#000" stroke-width="0.7" />
<line x1="334.00" y1="33.50" x2="334.00" y2="63.00" stroke="#000" stroke-width="0.7" />
<line x1="193.80" y1="61.00" x2="244.00" y2="61.00" stroke="#000" stroke-width="0.7" />
<line x1="244.00" y1="61.00" x2="244.00" y2="68.50" stroke="#000" stroke-width="0.7" />
<line x1="218.30" y1="68.50" x2="269.60" y2="68.50" stroke="#000" stroke-width="0.7" />
<line x1="218.30" y1="68.50" x2="218.30" y2="76.20" stroke="#000" stroke-width="0.7" />
<line x1="269.60" y1="68.50" x2="269.60" y2="72.70" stroke="#000" stroke-width="0.7" />
<line x1="204.20" y1="76.20" x2="232.00" y2="76.20" stroke="#000" stroke-width="0.7" />
<line x1="260.40" y1="72.70" x2="279.20" y2="72.70" stroke="#000" stroke-width="0.7" />
<line x1="310.40" y1="63.00" x2="357.00" y2="63.00" stroke="#000" stroke-width="0.7" />
<line x1="310.40" y1="63.00" x2="310.40" y2="65.00" stroke="#000" stroke-width="0.7" />
<line x1="303.50" y1="65.00" x2="317.60" y2="65.00" stroke="#000" stroke-width="0.7" />
<line x1="317.60" y1="65.00" x2="317.60" y2="76.50" stroke="#000" stroke-width="0.7" />
<line x1="310.80" y1="76.50" x2="324.20" y2="76.50" stroke="#000" stroke-width="0.7" />
<line x1="357.00" y1="63.00" x2="357.00" y2="72.40" stroke="#000" stroke-width="0.7" />
<line x1="336.50" y1="72.40" x2="376.20" y2="72.40" stroke="#000" stroke-width="0.7" />
<line x1="376.20" y1="72.40" x2="376.20" y2="74.70" stroke="#000" stroke-width="0.7" />
<line x1="350.80" y1="74.70" x2="402.70" y2="74.70" stroke="#000" stroke-width="0.7" />
<line x1="402.70" y1="74.70" x2="402.70" y2="75.90" stroke="#000" stroke-width="0.7" />
<line x1="384.30" y1="75.90" x2="420.00" y2="75.90" stroke="#000" stroke-width="0.7" />
<line x1="154.50" y1="6.80" x2="154.50" y2="79.80" stroke="#000" stroke-width="0.7" />
<line x1="144.88" y1="83.09" x2="148.64" y2="83.09" stroke="#000" stroke-width="0.7" />
<line x1="144.88" y1="83.09" x2="144.88" y2="84.60" stroke="#000" stroke-width="0.7" />
<line x1="148.64" y1="83.09" x2="148.64" y2="84.60" stroke="#000" stroke-width="0.7" />
<line x1="152.40" y1="83.48" x2="156.15" y2="83.48" stroke="#000" stroke-width="0.7" />
<line x1="152.40" y1="83.48" x2="152.40" y2="84.60" stroke="#000" stroke-width="0.7" />
<line x1="156.15" y1="83.48" x2="156.15" y2="84.60" stroke="#000" stroke-width="0.7" />
<line x1="146.76" y1="81.00" x2="154.27" y2="81.00" stroke="#000" stroke-width="0.7" />
<line x1="146.76" y1="81.00" x2="146.76" y2="83.09" stroke="#000" stroke-width="0.7" />
<line x1="154.27" y1="81.00" x2="154.27" y2="83.48" stroke="#000" stroke-width="0.7" />
<line x1="182.46" y1="83.80" x2="186.22" y2="83.80" stroke="#000" stroke-width="0.7" />
<line x1="182.46" y1="83.80" x2="182.46" y2="84.60" stroke="#000" stroke-width="0.7" />
<line x1="186.22" y1="83.80" x2="186.22" y2="84.60" stroke="#000" stroke-width="0.7" />
<line x1="178.70" y1="83.40" x2="184.34" y2="83.40" stroke="#000" stroke-width="0.7" />
<line x1="178.70" y1="83.40" x2="178.70" y2="84.60" stroke="#000" stroke-width="0.7" />
<line x1="184.34" y1="83.40" x2="184.34" y2="83.80" stroke="#000" stroke-width="0.7" />
<line x1="174.94" y1="83.00" x2="181.52" y2="83.00" stroke="#000" stroke-width="0.7" />
<line x1="174.94" y1="83.00" x2="174.94" y2="84.60" stroke="#000" stroke-width="0.7" />
<line x1="181.52" y1="83.00" x2="181.52" y2="83.40" stroke="#000" stroke-width="0.7" />
<line x1="171.19" y1="82.60" x2="178.23" y2="82.60" stroke="#000" stroke-width="0.7" />
<line x1="171.19" y1="82.60" x2="171.19" y2="84.60" stroke="#000" stroke-width="0.7" />
<line x1="178.23" y1="82.60" x2="178.23" y2="83.00" stroke="#000" stroke-width="0.7" />
<line x1="167.43" y1="82.20" x2="174.71" y2="82.20" stroke="#000" stroke-width="0.7" />
<line x1="167.43" y1="82.20" x2="167.43" y2="84.60" stroke="#000" stroke-width="0.7" />
<line x1="174.71" y1="82.20" x2="174.71" y2="82.60" stroke="#000" stroke-width="0.7" />
<line x1="163.67" y1="81.80" x2="171.07" y2="81.80" stroke="#000" stroke-width="0.7" />
<line x1="163.67" y1="81.80" x2="163.67" y2="84.60" stroke="#000" stroke-width="0.7" />
<line x1="171.07" y1="81.80" x2="171.07" y2="82.20" stroke="#000" stroke-width="0.7" />
<line x1="159.91" y1="81.40" x2="167.37" y2="81.40" stroke="#000" stroke-width="0.7" />
<line x1="159.91" y1="81.40" x2="159.91" y2="84.60" stroke="#000" stroke-width="0.7" />
<line x1="167.37" y1="81.40" x2="167.37" y2="81.80" stroke="#000" stroke-width="0.7" />
<line x1="150.52" y1="79.80" x2="163.64" y2="79.80" stroke="#000" stroke-width="0.7" />
<line x1="150.52" y1="79.80" x2="150.52" y2="81.00" stroke="#000" stroke-width="0.7" />
<line x1="163.64" y1="79.80" x2="163.64" y2="81.40" stroke="#000" stroke-width="0.7" />
<line x1="193.73" y1="81.41" x2="197.49" y2="81.41" stroke="#000" stroke-width="0.7" />
<line x1="193.73" y1="81.41" x2="193.73" y2="84.60" stroke="#000" stroke-width="0.7" />
<line x1="197.49" y1="81.41" x2="197.49" y2="84.60" stroke="#000" stroke-width="0.7" />
<line x1="189.98" y1="78.00" x2="195.61" y2="78.00" stroke="#000" stroke-width="0.7" />
<line x1="189.98" y1="78.00" x2="189.98" y2="84.60" stroke="#000" stroke-width="0.7" />
<line x1="195.61" y1="78.00" x2="195.61" y2="81.41" stroke="#000" stroke-width="0.7" />
<line x1="193.80" y1="61.00" x2="193.80" y2="78.00" stroke="#000" stroke-width="0.7" />
<line x1="192.79" y1="78.00" x2="193.80" y2="78.00" stroke="#000" stroke-width="0.7" />
<line x1="201.25" y1="80.22" x2="205.01" y2="80.22" stroke="#000" stroke-width="0.7" />
<line x1="201.25" y1="80.22" x2="201.25" y2="84.60" stroke="#000" stroke-width="0.7" />
<line x1="205.01" y1="80.22" x2="205.01" y2="84.60" stroke="#000" stroke-width="0.7" />
<line x1="208.77" y1="79.77" x2="212.52" y2="79.77" stroke="#000" stroke-width="0.7" />
<line x1="208.77" y1="79.77" x2="208.77" y2="84.60" stroke="#000" stroke-width="0.7" />
<line x1="212.52" y1="79.77" x2="212.52" y2="84.60" stroke="#000" stroke-width="0.7" />
<line x1="203.13" y1="78.50" x2="210.64" y2="78.50" stroke="#000" stroke-width="0.7" />
<line x1="203.13" y1="78.50" x2="203.13" y2="80.22" stroke="#000" stroke-width="0.7" />
<line x1="210.64" y1="78.50" x2="210.64" y2="79.77" stroke="#000" stroke-width="0.7" />
<line x1="204.20" y1="76.20" x2="204.20" y2="78.50" stroke="#000" stroke-width="0.7" />
<line x1="204.20" y1="78.50" x2="206.89" y2="78.50" stroke="#000" stroke-width="0.7" />
<line x1="216.28" y1="80.98" x2="220.04" y2="80.98" stroke="#000" stroke-width="0.7" />
<line x1="216.28" y1="80.98" x2="216.28" y2="84.60" stroke="#000" stroke-width="0.7" />
<line x1="220.04" y1="80.98" x2="220.04" y2="84.60" stroke="#000" stroke-width="0.7" />
<line x1="223.80" y1="81.90" x2="227.56" y2="81.90" stroke="#000" stroke-width="0.7" />
<line x1="223.80" y1="81.90" x2="223.80" y2="84.60" stroke="#000" stroke-width="0.7" />
<line x1="227.56" y1="81.90" x2="227.56" y2="84.60" stroke="#000" stroke-width="0.7" />
<line x1="235.07" y1="82.86" x2="238.83" y2="82.86" stroke="#000" stroke-width="0.7" />
<line x1="235.07" y1="82.86" x2="235.07" y2="84.60" stroke="#000" stroke-width="0.7" />
<line x1="238.83" y1="82.86" x2="238.83" y2="84.60" stroke="#000" stroke-width="0.7" />
<line x1="231.31" y1="81.67" x2="236.95" y2="81.67" stroke="#000" stroke-width="0.7" />
<line x1="231.31" y1="81.67" x2="231.31" y2="84.60" stroke="#000" stroke-width="0.7" />
<line x1="236.95" y1="81.67" x2="236.95" y2="82.86" stroke="#000" stroke-width="0.7" />
<line x1="225.68" y1="80.44" x2="234.13" y2="80.44" stroke="#000" stroke-width="0.7" />
<line x1="225.68" y1="80.44" x2="225.68" y2="81.90" stroke="#000" stroke-width="0.7" />
<line x1="234.13" y1="80.44" x2="234.13" y2="81.67" stroke="#000" stroke-width="0.7" />
<line x1="218.16" y1="78.00" x2="229.90" y2="78.00" stroke="#000" stroke-width="0.7" />
<line x1="218.16" y1="78.00" x2="218.16" y2="80.98" stroke="#000" stroke-width="0.7" />
<line x1="229.90" y1="78.00" x2="229.90" y2="80.44" stroke="#000" stroke-width="0.7" />
<line x1="232.00" y1="76.20" x2="232.00" y2="78.00" stroke="#000" stroke-width="0.7" />
<line x1="224.03" y1="78.00" x2="232.00" y2="78.00" stroke="#000" stroke-width="0.7" />
<line x1="246.35" y1="82.13" x2="250.10" y2="82.13" stroke="#000" stroke-width="0.7" />
<line x1="246.35" y1="82.13" x2="246.35" y2="84.60" stroke="#000" stroke-width="0.7" />
<line x1="250.10" y1="82.13" x2="250.10" y2="84.60" stroke="#000" stroke-width="0.7" />
<line x1="242.59" y1="79.52" x2="248.22" y2="79.52" stroke="#000" stroke-width="0.7" />
<line x1="242.59" y1="79.52" x2="242.59" y2="84.60" stroke="#000" stroke-width="0.7" />
<line x1="248.22" y1="79.52" x2="248.22" y2="82.13" stroke="#000" stroke-width="0.7" />
<line x1="253.86" y1="81.64" x2="257.62" y2="81.64" stroke="#000" stroke-width="0.7" />
<line x1="253.86" y1="81.64" x2="253.86" y2="84.60" stroke="#000" stroke-width="0.7" />
<line x1="257.62" y1="81.64" x2="257.62" y2="84.60" stroke="#000" stroke-width="0.7" />
<line x1="261.38" y1="81.34" x2="265.14" y2="81.34" stroke="#000" stroke-width="0.7" />
<line x1="261.38" y1="81.34" x2="261.38" y2="84.60" stroke="#000" stroke-width="0.7" />
<line x1="265.14" y1="81.34" x2="265.14" y2="84.60" stroke="#000" stroke-width="0.7" />
<line x1="255.74" y1="79.56" x2="263.26" y2="79.56" stroke="#000" stroke-width="0.7" />
<line x1="255.74" y1="79.56" x2="255.74" y2="81.64" stroke="#000" stroke-width="0.7" />
<line x1="263.26" y1="79.56" x2="263.26" y2="81.34" stroke="#000" stroke-width="0.7" />
<line x1="245.41" y1="77.50" x2="259.50" y2="77.50" stroke="#000" stroke-width="0.7" />
<line x1="245.41" y1="77.50" x2="245.41" y2="79.52" stroke="#000" stroke-width="0.7" />
<line x1="259.50" y1="77.50" x2="259.50" y2="79.56" stroke="#000" stroke-width="0.7" />
<line x1="260.40" y1="72.70" x2="260.40" y2="77.50" stroke="#000" stroke-width="0.7" />
<line x1="252.45" y1="77.50" x2="260.40" y2="77.50" stroke="#000" stroke-width="0.7" />
<line x1="272.65" y1="82.69" x2="276.41" y2="82.69" stroke="#000" stroke-width="0.7" />
<line x1="272.65" y1="82.69" x2="272.65" y2="84.60" stroke="#000" stroke-width="0.7" />
<line x1="276.41" y1="82.69" x2="276.41" y2="84.60" stroke="#000" stroke-width="0.7" />
<line x1="268.89" y1="80.43" x2="274.53" y2="80.43" stroke="#000" stroke-width="0.7" />
<line x1="268.89" y1="80.43" x2="268.89" y2="84.60" stroke="#000" stroke-width="0.7" />
<line x1="274.53" y1="80.43" x2="274.53" y2="82.69" stroke="#000" stroke-width="0.7" />
<line x1="283.93" y1="82.89" x2="287.68" y2="82.89" stroke="#000" stroke-width="0.7" />
<line x1="283.93" y1="82.89" x2="283.93" y2="84.60" stroke="#000" stroke-width="0.7" />
<line x1="287.68" y1="82.89" x2="287.68" y2="84.60" stroke="#000" stroke-width="0.7" />
<line x1="291.44" y1="83.09" x2="295.20" y2="83.09" stroke="#000" stroke-width="0.7" />
<line x1="291.44" y1="83.09" x2="291.44" y2="84.60" stroke="#000" stroke-width="0.7" />
<line x1="295.20" y1="83.09" x2="295.20" y2="84.60" stroke="#000" stroke-width="0.7" />
<line x1="285.80" y1="82.15" x2="293.32" y2="82.15" stroke="#000" stroke-width="0.7" />
<line x1="285.80" y1="82.15" x2="285.80" y2="82.89" stroke="#000" stroke-width="0.7" />
<line x1="293.32" y1="82.15" x2="293.32" y2="83.09" stroke="#000" stroke-width="0.7" />
<line x1="280.17" y1="81.00" x2="289.56" y2="81.00" stroke="#000" stroke-width="0.7" />
<line x1="280.17" y1="81.00" x2="280.17" y2="84.60" stroke="#000" stroke-width="0.7" />
<line x1="289.56" y1="81.00" x2="289.56" y2="82.15" stroke="#000" stroke-width="0.7" />
<line x1="271.71" y1="77.00" x2="284.87" y2="77.00" stroke="#000" stroke-width="0.7" />
<line x1="271.71" y1="77.00" x2="271.71" y2="80.43" stroke="#000" stroke-width="0.7" />
<line x1="284.87" y1="77.00" x2="284.87" y2="81.00" stroke="#000" stroke-width="0.7" />
<line x1="279.20" y1="72.70" x2="279.20" y2="77.00" stroke="#000" stroke-width="0.7" />
<line x1="278.29" y1="77.00" x2="279.20" y2="77.00" stroke="#000" stroke-width="0.7" />
<line x1="298.96" y1="82.00" x2="302.72" y2="82.00" stroke="#000" stroke-width="0.7" />
<line x1="298.96" y1="82.00" x2="298.96" y2="84.60" stroke="#000" stroke-width="0.7" />
<line x1="302.72" y1="82.00" x2="302.72" y2="84.60" stroke="#000" stroke-width="0.7" />
<line x1="303.50" y1="65.00" x2="303.50" y2="82.00" stroke="#000" stroke-width="0.7" />
<line x1="300.84" y1="82.00" x2="303.50" y2="82.00" stroke="#000" stroke-width="0.7" />
<line x1="310.23" y1="82.13" x2="313.99" y2="82.13" stroke="#000" stroke-width="0.7" />
<line x1="310.23" y1="82.13" x2="310.23" y2="84.60" stroke="#000" stroke-width="0.7" />
<line x1="313.99" y1="82.13" x2="313.99" y2="84.60" stroke="#000" stroke-width="0.7" />
<line x1="306.47" y1="79.50" x2="312.11" y2="79.50" stroke="#000" stroke-width="0.7" />
<line x1="306.47" y1="79.50" x2="306.47" y2="84.60" stroke="#000" stroke-width="0.7" />
<line x1="312.11" y1="79.50" x2="312.11" y2="82.13" stroke="#000" stroke-width="0.7" />
<line x1="310.80" y1="76.50" x2="310.80" y2="79.50" stroke="#000" stroke-width="0.7" />
<line x1="309.29" y1="79.50" x2="310.80" y2="79.50" stroke="#000" stroke-width="0.7" />
<line x1="317.75" y1="78.00" x2="321.51" y2="78.00" stroke="#000" stroke-width="0.7" />
<line x1="317.75" y1="78.00" x2="317.75" y2="84.60" stroke="#000" stroke-width="0.7" />
<line x1="321.51" y1="78.00" x2="321.51" y2="84.60" stroke="#000" stroke-width="0.7" />
<line x1="324.20" y1="76.50" x2="324.20" y2="78.00" stroke="#000" stroke-width="0.7" />
<line x1="319.63" y1="78.00" x2="324.20" y2="78.00" stroke="#000" stroke-width="0.7" />
<line x1="329.02" y1="82.74" x2="332.78" y2="82.74" stroke="#000" stroke-width="0.7" />
<line x1="329.02" y1="82.74" x2="329.02" y2="84.60" stroke="#000" stroke-width="0.7" />
<line x1="332.78" y1="82.74" x2="332.78" y2="84.60" stroke="#000" stroke-width="0.7" />
<line x1="325.26" y1="81.66" x2="330.90" y2="81.66" stroke="#000" stroke-width="0.7" />
<line x1="325.26" y1="81.66" x2="325.26" y2="84.60" stroke="#000" stroke-width="0.7" />
<line x1="330.90" y1="81.66" x2="330.90" y2="82.74" stroke="#000" stroke-width="0.7" />
<line x1="336.54" y1="81.88" x2="340.30" y2="81.88" stroke="#000" stroke-width="0.7" />
<line x1="336.54" y1="81.88" x2="336.54" y2="84.60" stroke="#000" stroke-width="0.7" />
<line x1="340.30" y1="81.88" x2="340.30" y2="84.60" stroke="#000" stroke-width="0.7" />
<line x1="328.08" y1="78.80" x2="338.42" y2="78.80" stroke="#000" stroke-width="0.7" />
<line x1="328.08" y1="78.80" x2="328.08" y2="81.66" stroke="#000" stroke-width="0.7" />
<line x1="338.42" y1="78.80" x2="338.42" y2="81.88" stroke="#000" stroke-width="0.7" />
<line x1="336.50" y1="72.40" x2="336.50" y2="78.80" stroke="#000" stroke-width="0.7" />
<line x1="333.25" y1="78.80" x2="336.50" y2="78.80" stroke="#000" stroke-width="0.7" />
<line x1="344.05" y1="80.67" x2="347.81" y2="80.67" stroke="#000" stroke-width="0.7" />
<line x1="344.05" y1="80.67" x2="344.05" y2="84.60" stroke="#000" stroke-width="0.7" />
<line x1="347.81" y1="80.67" x2="347.81" y2="84.60" stroke="#000" stroke-width="0.7" />
<line x1="351.57" y1="80.21" x2="355.33" y2="80.21" stroke="#000" stroke-width="0.7" />
<line x1="351.57" y1="80.21" x2="351.57" y2="84.60" stroke="#000" stroke-width="0.7" />
<line x1="355.33" y1="80.21" x2="355.33" y2="84.60" stroke="#000" stroke-width="0.7" />
<line x1="345.93" y1="79.30" x2="353.45" y2="79.30" stroke="#000" stroke-width="0.7" />
<line x1="345.93" y1="79.30" x2="345.93" y2="80.67" stroke="#000" stroke-width="0.7" />
<line x1="353.45" y1="79.30" x2="353.45" y2="80.21" stroke="#000" stroke-width="0.7" />
<line x1="350.80" y1="74.70" x2="350.80" y2="79.30" stroke="#000" stroke-width="0.7" />
<line x1="349.69" y1="79.30" x2="350.80" y2="79.30" stroke="#000" stroke-width="0.7" />
<line x1="362.84" y1="83.14" x2="366.60" y2="83.14" stroke="#000" stroke-width="0.7" />
<line x1="362.84" y1="83.14" x2="362.84" y2="84.60" stroke="#000" stroke-width="0.7" />
<line x1="366.60" y1="83.14" x2="366.60" y2="84.60" stroke="#000" stroke-width="0.7" />
<line x1="359.09" y1="82.46" x2="364.72" y2="82.46" stroke="#000" stroke-width="0.7" />
<line x1="359.09" y1="82.46" x2="359.09" y2="84.60" stroke="#000" stroke-width="0.7" />
<line x1="364.72" y1="82.46" x2="364.72" y2="83.14" stroke="#000" stroke-width="0.7" />
<line x1="361.90" y1="81.11" x2="370.36" y2="81.11" stroke="#000" stroke-width="0.7" />
<line x1="361.90" y1="81.11" x2="361.90" y2="82.46" stroke="#000" stroke-width="0.7" />
<line x1="370.36" y1="81.11" x2="370.36" y2="84.60" stroke="#000" stroke-width="0.7" />
<line x1="374.12" y1="83.04" x2="377.88" y2="83.04" stroke="#000" stroke-width="0.7" />
<line x1="374.12" y1="83.04" x2="374.12" y2="84.60" stroke="#000" stroke-width="0.7" />
<line x1="377.88" y1="83.04" x2="377.88" y2="84.60" stroke="#000" stroke-width="0.7" />
<line x1="385.39" y1="82.96" x2="389.15" y2="82.96" stroke="#000" stroke-width="0.7" />
<line x1="385.39" y1="82.96" x2="385.39" y2="84.60" stroke="#000" stroke-width="0.7" />
<line x1="389.15" y1="82.96" x2="389.15" y2="84.60" stroke="#000" stroke-width="0.7" />
<line x1="381.63" y1="82.89" x2="387.27" y2="82.89" stroke="#000" stroke-width="0.7" />
<line x1="381.63" y1="82.89" x2="381.63" y2="84.60" stroke="#000" stroke-width="0.7" />
<line x1="387.27" y1="82.89" x2="387.27" y2="82.96" stroke="#000" stroke-width="0.7" />
<line x1="376.00" y1="81.49" x2="384.45" y2="81.49" stroke="#000" stroke-width="0.7" />
<line x1="376.00" y1="81.49" x2="376.00" y2="83.04" stroke="#000" stroke-width="0.7" />
<line x1="384.45" y1="81.49" x2="384.45" y2="82.89" stroke="#000" stroke-width="0.7" />
<line x1="366.13" y1="77.50" x2="380.23" y2="77.50" stroke="#000" stroke-width="0.7" />
<line x1="366.13" y1="77.50" x2="366.13" y2="81.11" stroke="#000" stroke-width="0.7" />
<line x1="380.23" y1="77.50" x2="380.23" y2="81.49" stroke="#000" stroke-width="0.7" />
<line x1="384.30" y1="75.90" x2="384.30" y2="77.50" stroke="#000" stroke-width="0.7" />
<line x1="373.18" y1="77.50" x2="384.30" y2="77.50" stroke="#000" stroke-width="0.7" />
<line x1="396.67" y1="82.56" x2="400.42" y2="82.56" stroke="#000" stroke-width="0.7" />
<line x1="396.67" y1="82.56" x2="396.67" y2="84.60" stroke="#000" stroke-width="0.7" />
<line x1="400.42" y1="82.56" x2="400.42" y2="84.60" stroke="#000" stroke-width="0.7" />
<line x1="392.91" y1="82.00" x2="398.55" y2="82.00" stroke="#000" stroke-width="0.7" />
<line x1="392.91" y1="82.00" x2="392.91" y2="84.60" stroke="#000" stroke-width="0.7" />
<line x1="398.55" y1="82.00" x2="398.55" y2="82.56" stroke="#000" stroke-width="0.7" />
<line x1="407.94" y1="83.58" x2="411.70" y2="83.58" stroke="#000" stroke-width="0.7" />
<line x1="407.94" y1="83.58" x2="407.94" y2="84.60" stroke="#000" stroke-width="0.7" />
<line x1="411.70" y1="83.58" x2="411.70" y2="84.60" stroke="#000" stroke-width="0.7" />
<line x1="404.18" y1="82.55" x2="409.82" y2="82.55" stroke="#000" stroke-width="0.7" />
<line x1="404.18" y1="82.55" x2="404.18" y2="84.60" stroke="#000" stroke-width="0.7" />
<line x1="409.82" y1="82.55" x2="409.82" y2="83.58" stroke="#000" stroke-width="0.7" />
<line x1="395.73" y1="80.65" x2="407.00" y2="80.65" stroke="#000" stroke-width="0.7" />
<line x1="395.73" y1="80.65" x2="395.73" y2="82.00" stroke="#000" stroke-width="0.7" />
<line x1="407.00" y1="80.65" x2="407.00" y2="82.55" stroke="#000" stroke-width="0.7" />
<line x1="419.21" y1="83.04" x2="422.97" y2="83.04" stroke="#000" stroke-width="0.7" />
<line x1="419.21" y1="83.04" x2="419.21" y2="84.60" stroke="#000" stroke-width="0.7" />
<line x1="422.97" y1="83.04" x2="422.97" y2="84.60" stroke="#000" stroke-width="0.7" />
<line x1="415.46" y1="82.65" x2="421.09" y2="82.65" stroke="#000" stroke-width="0.7" />
<line x1="415.46" y1="82.65" x2="415.46" y2="84.60" stroke="#000" stroke-width="0.7" />
<line x1="421.09" y1="82.65" x2="421.09" y2="83.04" stroke="#000" stroke-width="0.7" />
<line x1="426.73" y1="82.24" x2="430.49" y2="82.24" stroke="#000" stroke-width="0.7" />
<line x1="426.73" y1="82.24" x2="426.73" y2="84.60" stroke="#000" stroke-width="0.7" />
<line x1="430.49" y1="82.24" x2="430.49" y2="84.60" stroke="#000" stroke-width="0.7" />
<line x1="418.28" y1="81.86" x2="428.61" y2="81.86" stroke="#000" stroke-width="0.7" />
<line x1="418.28" y1="81.86" x2="418.28" y2="82.65" stroke="#000" stroke-width="0.7" />
<line x1="428.61" y1="81.86" x2="428.61" y2="82.24" stroke="#000" stroke-width="0.7" />
<line x1="434.25" y1="82.72" x2="438.00" y2="82.72" stroke="#000" stroke-width="0.7" />
<line x1="434.25" y1="82.72" x2="434.25" y2="84.60" stroke="#000" stroke-width="0.7" />
<line x1="438.00" y1="82.72" x2="438.00" y2="84.60" stroke="#000" stroke-width="0.7" />
<line x1="441.76" y1="82.21" x2="445.52" y2="82.21" stroke="#000" stroke-width="0.7" />
<line x1="441.76" y1="82.21" x2="441.76" y2="84.60" stroke="#000" stroke-width="0.7" />
<line x1="445.52" y1="82.21" x2="445.52" y2="84.60" stroke="#000" stroke-width="0.7" />
<line x1="436.13" y1="81.26" x2="443.64" y2="81.26" stroke="#000" stroke-width="0.7" />
<line x1="436.13" y1="81.26" x2="436.13" y2="82.72" stroke="#000" stroke-width="0.7" />
<line x1="443.64" y1="81.26" x2="443.64" y2="82.21" stroke="#000" stroke-width="0.7" />
<line x1="423.44" y1="80.12" x2="439.88" y2="80.12" stroke="#000" stroke-width="0.7" />
<line x1="423.44" y1="80.12" x2="423.44" y2="81.86" stroke="#000" stroke-width="0.7" />
<line x1="439.88" y1="80.12" x2="439.88" y2="81.26" stroke="#000" stroke-width="0.7" />
<line x1="401.36" y1="77.80" x2="431.66" y2="77.80" stroke="#000" stroke-width="0.7" />
<line x1="401.36" y1="77.80" x2="401.36" y2="80.65" stroke="#000" stroke-width="0.7" />
<line x1="431.66" y1="77.80" x2="431.66" y2="80.12" stroke="#000" stroke-width="0.7" />
<line x1="420.00" y1="75.90" x2="420.00" y2="77.80" stroke="#000" stroke-width="0.7" />
<line x1="416.51" y1="77.80" x2="420.00" y2="77.80" stroke="#000" stroke-width="0.7" />
<line x1="33.40" y1="452.30" x2="33.40" y2="660.80" stroke="#000" stroke-width="1.0" />
<line x1="30.30" y1="459.95" x2="33.40" y2="459.95" stroke="#000" stroke-width="0.7" />
<text x="27.00" y="462.15" font-size="6.3" text-anchor="end" font-weight="normal" fill="#000" >5</text>
<line x1="30.30" y1="520.80" x2="33.40" y2="520.80" stroke="#000" stroke-width="0.7" />
<text x="27.00" y="523.00" font-size="6.3" text-anchor="end" font-weight="normal" fill="#000" >0</text>
<line x1="30.30" y1="581.65" x2="33.40" y2="581.65" stroke="#000" stroke-width="0.7" />
<text x="27.00" y="583.85" font-size="6.3" text-anchor="end" font-weight="normal" fill="#000" textLength="4.60" lengthAdjust="spacingAndGlyphs" >-5</text>
<line x1="30.30" y1="642.50" x2="33.40" y2="642.50" stroke="#000" stroke-width="0.7" />
<text x="27.00" y="644.70" font-size="6.3" text-anchor="end" font-weight="normal" fill="#000" textLength="7.30" lengthAdjust="spacingAndGlyphs" >-10</text>
<text x="13.10" y="556.60" font-size="7.0" text-anchor="middle" font-weight="normal" fill="#000" transform="rotate(-90 13.10 556.60)" textLength="74.00" lengthAdjust="spacingAndGlyphs" >Log2 fold change in expression</text>
<rect x="43.10" y="462.02" width="3.70" height="58.78" fill="#df8a17" />
<text x="46.95" y="524.50" font-size="5.45" text-anchor="end" font-weight="normal" fill="#000" transform="rotate(-90 46.95 524.50)" >MDSC</text>
<rect x="44.15" y="456.62" width="1.60" height="1.20" fill="#444" />
<rect x="44.15" y="454.72" width="1.60" height="1.20" fill="#444" />
<rect x="44.15" y="452.82" width="1.60" height="1.20" fill="#444" />
<rect x="49.04" y="468.35" width="3.70" height="52.45" fill="#68a843" />
<text x="52.89" y="524.50" font-size="5.45" text-anchor="end" font-weight="normal" fill="#000" transform="rotate(-90 52.89 524.50)" >Thelp CD25+</text>
<rect x="50.09" y="462.95" width="1.60" height="1.20" fill="#444" />
<rect x="50.09" y="461.05" width="1.60" height="1.20" fill="#444" />
<rect x="50.09" y="459.15" width="1.60" height="1.20" fill="#444" />
<rect x="54.98" y="473.34" width="3.70" height="47.46" fill="#df8a17" />
<text x="58.83" y="524.50" font-size="5.45" text-anchor="end" font-weight="normal" fill="#000" transform="rotate(-90 58.83 524.50)" >M2</text>
<rect x="56.03" y="467.94" width="1.60" height="1.20" fill="#444" />
<rect x="56.03" y="466.04" width="1.60" height="1.20" fill="#444" />
<rect x="56.03" y="464.14" width="1.60" height="1.20" fill="#444" />
<rect x="60.93" y="479.79" width="3.70" height="41.01" fill="#68a843" />
<text x="64.78" y="524.50" font-size="5.45" text-anchor="end" font-weight="normal" fill="#000" transform="rotate(-90 64.78 524.50)" >Tcyt CD25+</text>
<rect x="61.98" y="474.39" width="1.60" height="1.20" fill="#444" />
<rect x="61.98" y="472.49" width="1.60" height="1.20" fill="#444" />
<rect x="61.98" y="470.59" width="1.60" height="1.20" fill="#444" />
<rect x="61.98" y="468.69" width="1.60" height="1.20" fill="#444" />
<rect x="66.87" y="482.10" width="3.70" height="38.70" fill="#df8a17" />
<text x="70.72" y="524.50" font-size="5.45" text-anchor="end" font-weight="normal" fill="#000" transform="rotate(-90 70.72 524.50)" >Thelp PD1+</text>
<rect x="67.92" y="476.70" width="1.60" height="1.20" fill="#444" />
<rect x="67.92" y="474.80" width="1.60" height="1.20" fill="#444" />
<rect x="67.92" y="472.90" width="1.60" height="1.20" fill="#444" />
<rect x="72.81" y="482.59" width="3.70" height="38.21" fill="#df8a17" />
<text x="76.66" y="524.50" font-size="5.45" text-anchor="end" font-weight="normal" fill="#000" transform="rotate(-90 76.66 524.50)" >HLAG+</text>
<rect x="73.86" y="477.19" width="1.60" height="1.20" fill="#444" />
<rect x="73.86" y="475.29" width="1.60" height="1.20" fill="#444" />
<rect x="78.75" y="487.82" width="3.70" height="32.98" fill="#df8a17" />
<text x="82.60" y="524.50" font-size="5.45" text-anchor="end" font-weight="normal" fill="#000" transform="rotate(-90 82.60 524.50)" >Tcyt PD1+</text>
<rect x="79.80" y="482.42" width="1.60" height="1.20" fill="#444" />
<rect x="79.80" y="480.52" width="1.60" height="1.20" fill="#444" />
<rect x="79.80" y="478.62" width="1.60" height="1.20" fill="#444" />
<rect x="84.69" y="501.81" width="3.70" height="18.99" fill="#df8a17" />
<text x="88.54" y="524.50" font-size="5.45" text-anchor="end" font-weight="normal" fill="#000" transform="rotate(-90 88.54 524.50)" >PDL2+</text>
<rect x="85.74" y="496.41" width="1.60" height="1.20" fill="#444" />
<rect x="85.74" y="494.51" width="1.60" height="1.20" fill="#444" />
<rect x="90.64" y="504.86" width="3.70" height="15.94" fill="#df8a17" />
<text x="94.49" y="524.50" font-size="5.45" text-anchor="end" font-weight="normal" fill="#000" transform="rotate(-90 94.49 524.50)" >Treg</text>
<rect x="91.69" y="499.46" width="1.60" height="1.20" fill="#444" />
<rect x="91.69" y="497.56" width="1.60" height="1.20" fill="#444" />
<rect x="91.69" y="495.66" width="1.60" height="1.20" fill="#444" />
<rect x="96.58" y="506.80" width="3.70" height="14.00" fill="#68a843" />
<text x="100.43" y="524.50" font-size="5.45" text-anchor="end" font-weight="normal" fill="#000" transform="rotate(-90 100.43 524.50)" >Tcyt CD45RO+</text>
<rect x="97.63" y="501.40" width="1.60" height="1.20" fill="#444" />
<rect x="97.63" y="499.50" width="1.60" height="1.20" fill="#444" />
<rect x="97.63" y="497.60" width="1.60" height="1.20" fill="#444" />
<rect x="102.52" y="514.59" width="3.70" height="6.21" fill="#68a843" />
<text x="106.37" y="524.50" font-size="5.45" text-anchor="end" font-weight="normal" fill="#000" transform="rotate(-90 106.37 524.50)" >Thelp CD45RO+</text>
<rect x="103.57" y="509.19" width="1.60" height="1.20" fill="#444" />
<rect x="103.57" y="507.29" width="1.60" height="1.20" fill="#444" />
<rect x="108.46" y="515.32" width="3.70" height="5.48" fill="#68a843" />
<text x="112.31" y="524.50" font-size="5.45" text-anchor="end" font-weight="normal" fill="#000" transform="rotate(-90 112.31 524.50)" >Thelp OX40+</text>
<rect x="109.51" y="509.92" width="1.60" height="1.20" fill="#444" />
<rect x="114.40" y="520.80" width="3.70" height="2.19" fill="#68a843" />
<text x="118.25" y="516.80" font-size="5.45" text-anchor="start" font-weight="normal" fill="#000" transform="rotate(-90 118.25 516.80)" >HLAABC+</text>
<rect x="115.45" y="527.19" width="1.60" height="1.20" fill="#444" />
<rect x="115.45" y="529.09" width="1.60" height="1.20" fill="#444" />
<rect x="115.45" y="530.99" width="1.60" height="1.20" fill="#444" />
<rect x="120.35" y="520.80" width="3.70" height="5.11" fill="#68a843" />
<text x="124.20" y="516.80" font-size="5.45" text-anchor="start" font-weight="normal" fill="#000" transform="rotate(-90 124.20 516.80)" >mDC2 CD11b+</text>
<rect x="121.40" y="530.11" width="1.60" height="1.20" fill="#444" />
<rect x="121.40" y="532.01" width="1.60" height="1.20" fill="#444" />
<rect x="126.29" y="520.80" width="3.70" height="5.11" fill="#68a843" />
<text x="130.14" y="516.80" font-size="5.45" text-anchor="start" font-weight="normal" fill="#000" transform="rotate(-90 130.14 516.80)" >Thelp CD57+</text>
<rect x="127.34" y="530.11" width="1.60" height="1.20" fill="#444" />
<rect x="127.34" y="532.01" width="1.60" height="1.20" fill="#444" />
<rect x="132.23" y="520.80" width="3.70" height="5.96" fill="#68a843" />
<text x="136.08" y="516.80" font-size="5.45" text-anchor="start" font-weight="normal" fill="#000" transform="rotate(-90 136.08 516.80)" >Tcyt GrB+</text>
<rect x="133.28" y="530.96" width="1.60" height="1.20" fill="#444" />
<rect x="138.17" y="520.80" width="3.70" height="10.10" fill="#68a843" />
<text x="142.02" y="516.80" font-size="5.45" text-anchor="start" font-weight="normal" fill="#000" transform="rotate(-90 142.02 516.80)" >Tcyt</text>
<rect x="139.22" y="535.10" width="1.60" height="1.20" fill="#444" />
<rect x="144.11" y="520.80" width="3.70" height="10.83" fill="#df8a17" />
<text x="147.96" y="516.80" font-size="5.45" text-anchor="start" font-weight="normal" fill="#000" transform="rotate(-90 147.96 516.80)" >Thelp TIM3+</text>
<rect x="145.16" y="535.83" width="1.60" height="1.20" fill="#444" />
<rect x="145.16" y="537.73" width="1.60" height="1.20" fill="#444" />
<rect x="150.06" y="520.80" width="3.70" height="11.20" fill="#df8a17" />
<text x="153.91" y="516.80" font-size="5.45" text-anchor="start" font-weight="normal" fill="#000" transform="rotate(-90 153.91 516.80)" >PDL1+</text>
<rect x="151.11" y="536.20" width="1.60" height="1.20" fill="#444" />
<rect x="156.00" y="520.80" width="3.70" height="11.80" fill="#df8a17" />
<text x="159.85" y="516.80" font-size="5.45" text-anchor="start" font-weight="normal" fill="#000" transform="rotate(-90 159.85 516.80)" >Tcyt TIM3+</text>
<rect x="157.05" y="536.80" width="1.60" height="1.20" fill="#444" />
<rect x="157.05" y="538.70" width="1.60" height="1.20" fill="#444" />
<rect x="161.94" y="520.80" width="3.70" height="12.17" fill="#68a843" />
<text x="165.79" y="516.80" font-size="5.45" text-anchor="start" font-weight="normal" fill="#000" transform="rotate(-90 165.79 516.80)" >Tcyt CD57+</text>
<rect x="162.99" y="537.17" width="1.60" height="1.20" fill="#444" />
<rect x="162.99" y="539.07" width="1.60" height="1.20" fill="#444" />
<rect x="162.99" y="540.97" width="1.60" height="1.20" fill="#444" />
<rect x="167.88" y="520.80" width="3.70" height="13.75" fill="#68a843" />
<text x="171.73" y="516.80" font-size="5.45" text-anchor="start" font-weight="normal" fill="#000" transform="rotate(-90 171.73 516.80)" >Thelp GrB+</text>
<rect x="168.93" y="538.75" width="1.60" height="1.20" fill="#444" />
<rect x="168.93" y="540.65" width="1.60" height="1.20" fill="#444" />
<rect x="173.82" y="520.80" width="3.70" height="15.21" fill="#68a843" />
<text x="177.67" y="516.80" font-size="5.45" text-anchor="start" font-weight="normal" fill="#000" transform="rotate(-90 177.67 516.80)" >B</text>
<rect x="174.87" y="540.21" width="1.60" height="1.20" fill="#444" />
<rect x="174.87" y="542.11" width="1.60" height="1.20" fill="#444" />
<rect x="179.77" y="520.80" width="3.70" height="16.67" fill="#68a843" />
<text x="183.62" y="516.80" font-size="5.45" text-anchor="start" font-weight="normal" fill="#000" transform="rotate(-90 183.62 516.80)" >Thelp</text>
<rect x="180.82" y="541.67" width="1.60" height="1.20" fill="#444" />
<rect x="180.82" y="543.57" width="1.60" height="1.20" fill="#444" />
<rect x="185.71" y="520.80" width="3.70" height="18.01" fill="#df8a17" />
<text x="189.56" y="516.80" font-size="5.45" text-anchor="start" font-weight="normal" fill="#000" transform="rotate(-90 189.56 516.80)" >Thelp LAG3+</text>
<rect x="186.76" y="543.01" width="1.60" height="1.20" fill="#444" />
<rect x="186.76" y="544.91" width="1.60" height="1.20" fill="#444" />
<rect x="191.65" y="520.80" width="3.70" height="20.45" fill="#68a843" />
<text x="195.50" y="516.80" font-size="5.45" text-anchor="start" font-weight="normal" fill="#000" transform="rotate(-90 195.50 516.80)" >Thelp CD27+</text>
<rect x="192.70" y="545.45" width="1.60" height="1.20" fill="#444" />
<rect x="192.70" y="547.35" width="1.60" height="1.20" fill="#444" />
<rect x="192.70" y="549.25" width="1.60" height="1.20" fill="#444" />
<rect x="197.59" y="520.80" width="3.70" height="25.80" fill="#df8a17" />
<text x="201.44" y="516.80" font-size="5.45" text-anchor="start" font-weight="normal" fill="#000" transform="rotate(-90 201.44 516.80)" >Tcyt LAG3+</text>
<rect x="198.64" y="550.80" width="1.60" height="1.20" fill="#444" />
<rect x="198.64" y="552.70" width="1.60" height="1.20" fill="#444" />
<rect x="198.64" y="554.60" width="1.60" height="1.20" fill="#444" />
<rect x="203.53" y="520.80" width="3.70" height="26.77" fill="#68a843" />
<text x="207.38" y="516.80" font-size="5.45" text-anchor="start" font-weight="normal" fill="#000" transform="rotate(-90 207.38 516.80)" >Tcyt CD27+</text>
<rect x="204.58" y="551.77" width="1.60" height="1.20" fill="#444" />
<rect x="204.58" y="553.67" width="1.60" height="1.20" fill="#444" />
<rect x="204.58" y="555.57" width="1.60" height="1.20" fill="#444" />
<rect x="209.48" y="520.80" width="3.70" height="29.09" fill="#68a843" />
<text x="213.33" y="516.80" font-size="5.45" text-anchor="start" font-weight="normal" fill="#000" transform="rotate(-90 213.33 516.80)" >NKT</text>
<rect x="210.53" y="554.09" width="1.60" height="1.20" fill="#444" />
<rect x="210.53" y="555.99" width="1.60" height="1.20" fill="#444" />
<rect x="215.42" y="520.80" width="3.70" height="43.20" fill="#68a843" />
<text x="219.27" y="516.80" font-size="5.45" text-anchor="start" font-weight="normal" fill="#000" transform="rotate(-90 219.27 516.80)" >NK pSTAT1+</text>
<rect x="216.47" y="568.20" width="1.60" height="1.20" fill="#444" />
<rect x="216.47" y="570.10" width="1.60" height="1.20" fill="#444" />
<rect x="216.47" y="572.00" width="1.60" height="1.20" fill="#444" />
<rect x="221.36" y="520.80" width="3.70" height="49.17" fill="#68a843" />
<text x="225.21" y="516.80" font-size="5.45" text-anchor="start" font-weight="normal" fill="#000" transform="rotate(-90 225.21 516.80)" >NK</text>
<rect x="222.41" y="574.17" width="1.60" height="1.20" fill="#444" />
<rect x="222.41" y="576.07" width="1.60" height="1.20" fill="#444" />
<rect x="222.41" y="577.97" width="1.60" height="1.20" fill="#444" />
<rect x="227.30" y="520.80" width="3.70" height="58.42" fill="#df8a17" />
<text x="231.15" y="516.80" font-size="5.45" text-anchor="start" font-weight="normal" fill="#000" transform="rotate(-90 231.15 516.80)" >TIM3+</text>
<rect x="228.35" y="583.42" width="1.60" height="1.20" fill="#444" />
<rect x="228.35" y="585.32" width="1.60" height="1.20" fill="#444" />
<rect x="228.35" y="587.22" width="1.60" height="1.20" fill="#444" />
<rect x="233.24" y="520.80" width="3.70" height="90.79" fill="#68a843" />
<text x="237.09" y="516.80" font-size="5.45" text-anchor="start" font-weight="normal" fill="#000" transform="rotate(-90 237.09 516.80)" >M1</text>
<rect x="234.29" y="615.79" width="1.60" height="1.20" fill="#444" />
<rect x="234.29" y="617.69" width="1.60" height="1.20" fill="#444" />
<rect x="234.29" y="619.59" width="1.60" height="1.20" fill="#444" />
<rect x="239.19" y="520.80" width="3.70" height="129.73" fill="#68a843" />
<text x="243.04" y="516.80" font-size="5.45" text-anchor="start" font-weight="normal" fill="#000" transform="rotate(-90 243.04 516.80)" >B pSTAT1+</text>
<rect x="240.24" y="654.73" width="1.60" height="1.20" fill="#444" />
<rect x="240.24" y="656.63" width="1.60" height="1.20" fill="#444" />
<rect x="240.24" y="658.53" width="1.60" height="1.20" fill="#444" />
<text x="75.00" y="634.50" font-size="5.4" text-anchor="start" font-weight="normal" fill="#000" >Function</text>
<rect x="65.60" y="639.00" width="6.00" height="5.50" fill="#68a843" />
<text x="75.00" y="643.70" font-size="5.4" text-anchor="start" font-weight="normal" fill="#000" >Anti-cancer</text>
<rect x="65.60" y="648.00" width="6.00" height="5.50" fill="#df8a17" />
<text x="75.00" y="652.70" font-size="5.4" text-anchor="start" font-weight="normal" fill="#000" >Pro-cancer</text>
<g shape-rendering="crispEdges">
<rect x="304.80" y="453.50" width="5.33" height="5.33" fill="#cb2b1d"/>
<rect x="310.08" y="453.50" width="5.33" height="5.33" fill="#d3574c"/>
<rect x="315.36" y="453.50" width="5.33" height="5.33" fill="#d3574c"/>
<rect x="320.65" y="453.50" width="5.33" height="5.33" fill="#e6a4a2"/>
<rect x="325.93" y="453.50" width="5.33" height="5.33" fill="#e6a4a2"/>
<rect x="336.49" y="453.50" width="5.33" height="5.33" fill="#efc3c3"/>
<rect x="368.18" y="453.50" width="5.33" height="5.33" fill="#efc3c3"/>
<rect x="304.80" y="458.78" width="5.33" height="5.33" fill="#d3574c"/>
<rect x="310.08" y="458.78" width="5.33" height="5.33" fill="#ce3d2e"/>
<rect x="315.36" y="458.78" width="5.33" height="5.33" fill="#d3574c"/>
<rect x="320.65" y="458.78" width="5.33" height="5.33" fill="#e6a4a2"/>
<rect x="325.93" y="458.78" width="5.33" height="5.33" fill="#dc827b"/>
<rect x="336.49" y="458.78" width="5.33" height="5.33" fill="#efc3c3"/>
<rect x="304.80" y="464.06" width="5.33" height="5.33" fill="#d3574c"/>
<rect x="310.08" y="464.06" width="5.33" height="5.33" fill="#d3574c"/>
<rect x="315.36" y="464.06" width="5.33" height="5.33" fill="#ce3d2e"/>
<rect x="320.65" y="464.06" width="5.33" height="5.33" fill="#e6a4a2"/>
<rect x="325.93" y="464.06" width="5.33" height="5.33" fill="#dc827b"/>
<rect x="336.49" y="464.06" width="5.33" height="5.33" fill="#efc3c3"/>
<rect x="357.62" y="464.06" width="5.33" height="5.33" fill="#aab1f4"/>
<rect x="304.80" y="469.35" width="5.33" height="5.33" fill="#e6a4a2"/>
<rect x="310.08" y="469.35" width="5.33" height="5.33" fill="#e6a4a2"/>
<rect x="315.36" y="469.35" width="5.33" height="5.33" fill="#e6a4a2"/>
<rect x="320.65" y="469.35" width="5.33" height="5.33" fill="#cb2b1d"/>
<rect x="325.93" y="469.35" width="5.33" height="5.33" fill="#e6a4a2"/>
<rect x="331.21" y="469.35" width="5.33" height="5.33" fill="#efc3c3"/>
<rect x="336.49" y="469.35" width="5.33" height="5.33" fill="#e6a4a2"/>
<rect x="341.77" y="469.35" width="5.33" height="5.33" fill="#e6a4a2"/>
<rect x="347.06" y="469.35" width="5.33" height="5.33" fill="#efc3c3"/>
<rect x="352.34" y="469.35" width="5.33" height="5.33" fill="#e6a4a2"/>
<rect x="304.80" y="474.63" width="5.33" height="5.33" fill="#e6a4a2"/>
<rect x="310.08" y="474.63" width="5.33" height="5.33" fill="#dc827b"/>
<rect x="315.36" y="474.63" width="5.33" height="5.33" fill="#dc827b"/>
<rect x="320.65" y="474.63" width="5.33" height="5.33" fill="#e6a4a2"/>
<rect x="325.93" y="474.63" width="5.33" height="5.33" fill="#cb2b1d"/>
<rect x="331.21" y="474.63" width="5.33" height="5.33" fill="#efc3c3"/>
<rect x="336.49" y="474.63" width="5.33" height="5.33" fill="#e6a4a2"/>
<rect x="352.34" y="474.63" width="5.33" height="5.33" fill="#efc3c3"/>
<rect x="320.65" y="479.91" width="5.33" height="5.33" fill="#efc3c3"/>
<rect x="325.93" y="479.91" width="5.33" height="5.33" fill="#efc3c3"/>
<rect x="331.21" y="479.91" width="5.33" height="5.33" fill="#cb2b1d"/>
<rect x="336.49" y="479.91" width="5.33" height="5.33" fill="#d3574c"/>
<rect x="341.77" y="479.91" width="5.33" height="5.33" fill="#e6a4a2"/>
<rect x="347.06" y="479.91" width="5.33" height="5.33" fill="#dc827b"/>
<rect x="352.34" y="479.91" width="5.33" height="5.33" fill="#e6a4a2"/>
<rect x="310.08" y="485.19" width="5.33" height="5.33" fill="#efc3c3"/>
<rect x="315.36" y="485.19" width="5.33" height="5.33" fill="#efc3c3"/>
<rect x="320.65" y="485.19" width="5.33" height="5.33" fill="#e6a4a2"/>
<rect x="325.93" y="485.19" width="5.33" height="5.33" fill="#e6a4a2"/>
<rect x="331.21" y="485.19" width="5.33" height="5.33" fill="#d3574c"/>
<rect x="336.49" y="485.19" width="5.33" height="5.33" fill="#cb2b1d"/>
<rect x="341.77" y="485.19" width="5.33" height="5.33" fill="#e6a4a2"/>
<rect x="347.06" y="485.19" width="5.33" height="5.33" fill="#e6a4a2"/>
<rect x="352.34" y="485.19" width="5.33" height="5.33" fill="#dc827b"/>
<rect x="320.65" y="490.47" width="5.33" height="5.33" fill="#e6a4a2"/>
<rect x="331.21" y="490.47" width="5.33" height="5.33" fill="#e6a4a2"/>
<rect x="336.49" y="490.47" width="5.33" height="5.33" fill="#e6a4a2"/>
<rect x="341.77" y="490.47" width="5.33" height="5.33" fill="#cb2b1d"/>
<rect x="347.06" y="490.47" width="5.33" height="5.33" fill="#e6a4a2"/>
<rect x="352.34" y="490.47" width="5.33" height="5.33" fill="#e6a4a2"/>
<rect x="320.65" y="495.76" width="5.33" height="5.33" fill="#efc3c3"/>
<rect x="331.21" y="495.76" width="5.33" height="5.33" fill="#dc827b"/>
<rect x="336.49" y="495.76" width="5.33" height="5.33" fill="#e6a4a2"/>
<rect x="341.77" y="495.76" width="5.33" height="5.33" fill="#e6a4a2"/>
<rect x="347.06" y="495.76" width="5.33" height="5.33" fill="#cb2b1d"/>
<rect x="352.34" y="495.76" width="5.33" height="5.33" fill="#d3574c"/>
<rect x="320.65" y="501.04" width="5.33" height="5.33" fill="#e6a4a2"/>
<rect x="325.93" y="501.04" width="5.33" height="5.33" fill="#efc3c3"/>
<rect x="331.21" y="501.04" width="5.33" height="5.33" fill="#e6a4a2"/>
<rect x="336.49" y="501.04" width="5.33" height="5.33" fill="#dc827b"/>
<rect x="341.77" y="501.04" width="5.33" height="5.33" fill="#e6a4a2"/>
<rect x="347.06" y="501.04" width="5.33" height="5.33" fill="#d3574c"/>
<rect x="352.34" y="501.04" width="5.33" height="5.33" fill="#cb2b1d"/>
<rect x="357.62" y="506.32" width="5.33" height="5.33" fill="#cb2b1d"/>
<rect x="362.90" y="506.32" width="5.33" height="5.33" fill="#d3574c"/>
<rect x="347.06" y="511.60" width="5.33" height="5.33" fill="#efc3c3"/>
<rect x="352.34" y="511.60" width="5.33" height="5.33" fill="#efc3c3"/>
<rect x="357.62" y="511.60" width="5.33" height="5.33" fill="#d3574c"/>
<rect x="362.90" y="511.60" width="5.33" height="5.33" fill="#cb2b1d"/>
<rect x="357.62" y="516.88" width="5.33" height="5.33" fill="#efc3c3"/>
<rect x="368.18" y="516.88" width="5.33" height="5.33" fill="#cb2b1d"/>
<rect x="373.47" y="453.50" width="5.33" height="5.33" fill="#e6a4a2"/>
<rect x="378.75" y="453.50" width="5.33" height="5.33" fill="#e6a4a2"/>
<rect x="389.31" y="453.50" width="5.33" height="5.33" fill="#e6a4a2"/>
<rect x="410.44" y="453.50" width="5.33" height="5.33" fill="#e6a4a2"/>
<rect x="436.85" y="453.50" width="5.33" height="5.33" fill="#aab1f4"/>
<rect x="442.13" y="453.50" width="5.33" height="5.33" fill="#aab1f4"/>
<rect x="373.47" y="458.78" width="5.33" height="5.33" fill="#e6a4a2"/>
<rect x="378.75" y="458.78" width="5.33" height="5.33" fill="#e6a4a2"/>
<rect x="384.03" y="458.78" width="5.33" height="5.33" fill="#e6a4a2"/>
<rect x="399.88" y="458.78" width="5.33" height="5.33" fill="#efc3c3"/>
<rect x="410.44" y="458.78" width="5.33" height="5.33" fill="#dc827b"/>
<rect x="373.47" y="464.06" width="5.33" height="5.33" fill="#e6a4a2"/>
<rect x="378.75" y="464.06" width="5.33" height="5.33" fill="#e6a4a2"/>
<rect x="389.31" y="464.06" width="5.33" height="5.33" fill="#e6a4a2"/>
<rect x="399.88" y="464.06" width="5.33" height="5.33" fill="#efc3c3"/>
<rect x="410.44" y="464.06" width="5.33" height="5.33" fill="#dc827b"/>
<rect x="399.88" y="469.35" width="5.33" height="5.33" fill="#efc3c3"/>
<rect x="436.85" y="469.35" width="5.33" height="5.33" fill="#aab1f4"/>
<rect x="442.13" y="469.35" width="5.33" height="5.33" fill="#aab1f4"/>
<rect x="447.42" y="469.35" width="5.33" height="5.33" fill="#c9cdf8"/>
<rect x="384.03" y="474.63" width="5.33" height="5.33" fill="#efc3c3"/>
<rect x="410.44" y="474.63" width="5.33" height="5.33" fill="#e6a4a2"/>
<rect x="473.83" y="474.63" width="5.33" height="5.33" fill="#e6a4a2"/>
<rect x="384.03" y="479.91" width="5.33" height="5.33" fill="#efc3c3"/>
<rect x="405.16" y="485.19" width="5.33" height="5.33" fill="#efc3c3"/>
<rect x="399.88" y="490.47" width="5.33" height="5.33" fill="#efc3c3"/>
<rect x="463.26" y="490.47" width="5.33" height="5.33" fill="#c9cdf8"/>
<rect x="405.16" y="495.76" width="5.33" height="5.33" fill="#efc3c3"/>
<rect x="405.16" y="501.04" width="5.33" height="5.33" fill="#efc3c3"/>
<rect x="463.26" y="501.04" width="5.33" height="5.33" fill="#aab1f4"/>
<rect x="405.16" y="506.32" width="5.33" height="5.33" fill="#efc3c3"/>
<rect x="405.16" y="511.60" width="5.33" height="5.33" fill="#efc3c3"/>
<rect x="373.47" y="516.88" width="5.33" height="5.33" fill="#d3574c"/>
<rect x="378.75" y="516.88" width="5.33" height="5.33" fill="#efc3c3"/>
<rect x="384.03" y="516.88" width="5.33" height="5.33" fill="#e6a4a2"/>
<rect x="389.31" y="516.88" width="5.33" height="5.33" fill="#efc3c3"/>
<rect x="304.80" y="522.17" width="5.33" height="5.33" fill="#e6a4a2"/>
<rect x="310.08" y="522.17" width="5.33" height="5.33" fill="#e6a4a2"/>
<rect x="315.36" y="522.17" width="5.33" height="5.33" fill="#e6a4a2"/>
<rect x="331.21" y="522.17" width="5.33" height="5.33" fill="#efc3c3"/>
<rect x="336.49" y="522.17" width="5.33" height="5.33" fill="#efc3c3"/>
<rect x="368.18" y="522.17" width="5.33" height="5.33" fill="#d3574c"/>
<rect x="373.47" y="522.17" width="5.33" height="5.33" fill="#cb2b1d"/>
<rect x="384.03" y="522.17" width="5.33" height="5.33" fill="#e6a4a2"/>
<rect x="410.44" y="522.17" width="5.33" height="5.33" fill="#e6a4a2"/>
<rect x="304.80" y="527.45" width="5.33" height="5.33" fill="#e6a4a2"/>
<rect x="310.08" y="527.45" width="5.33" height="5.33" fill="#e6a4a2"/>
<rect x="315.36" y="527.45" width="5.33" height="5.33" fill="#e6a4a2"/>
<rect x="368.18" y="527.45" width="5.33" height="5.33" fill="#e6a4a2"/>
<rect x="373.47" y="527.45" width="5.33" height="5.33" fill="#e6a4a2"/>
<rect x="378.75" y="527.45" width="5.33" height="5.33" fill="#cb2b1d"/>
<rect x="384.03" y="527.45" width="5.33" height="5.33" fill="#dc827b"/>
<rect x="405.16" y="527.45" width="5.33" height="5.33" fill="#e6a4a2"/>
<rect x="410.44" y="527.45" width="5.33" height="5.33" fill="#e6a4a2"/>
<rect x="457.98" y="527.45" width="5.33" height="5.33" fill="#e6a4a2"/>
<rect x="463.26" y="527.45" width="5.33" height="5.33" fill="#e6a4a2"/>
<rect x="468.54" y="527.45" width="5.33" height="5.33" fill="#e6a4a2"/>
<rect x="304.80" y="532.73" width="5.33" height="5.33" fill="#efc3c3"/>
<rect x="310.08" y="532.73" width="5.33" height="5.33" fill="#e6a4a2"/>
<rect x="315.36" y="532.73" width="5.33" height="5.33" fill="#efc3c3"/>
<rect x="325.93" y="532.73" width="5.33" height="5.33" fill="#e6a4a2"/>
<rect x="331.21" y="532.73" width="5.33" height="5.33" fill="#e6a4a2"/>
<rect x="336.49" y="532.73" width="5.33" height="5.33" fill="#e6a4a2"/>
<rect x="347.06" y="532.73" width="5.33" height="5.33" fill="#efc3c3"/>
<rect x="352.34" y="532.73" width="5.33" height="5.33" fill="#efc3c3"/>
<rect x="357.62" y="532.73" width="5.33" height="5.33" fill="#efc3c3"/>
<rect x="362.90" y="532.73" width="5.33" height="5.33" fill="#efc3c3"/>
<rect x="368.18" y="532.73" width="5.33" height="5.33" fill="#e6a4a2"/>
<rect x="373.47" y="532.73" width="5.33" height="5.33" fill="#e6a4a2"/>
<rect x="378.75" y="532.73" width="5.33" height="5.33" fill="#dc827b"/>
<rect x="384.03" y="532.73" width="5.33" height="5.33" fill="#cb2b1d"/>
<rect x="389.31" y="532.73" width="5.33" height="5.33" fill="#dc827b"/>
<rect x="394.59" y="532.73" width="5.33" height="5.33" fill="#dc827b"/>
<rect x="405.16" y="532.73" width="5.33" height="5.33" fill="#e6a4a2"/>
<rect x="410.44" y="532.73" width="5.33" height="5.33" fill="#e6a4a2"/>
<rect x="415.72" y="532.73" width="5.33" height="5.33" fill="#efc3c3"/>
<rect x="426.29" y="532.73" width="5.33" height="5.33" fill="#efc3c3"/>
<rect x="447.42" y="532.73" width="5.33" height="5.33" fill="#aab1f4"/>
<rect x="304.80" y="538.01" width="5.33" height="5.33" fill="#efc3c3"/>
<rect x="310.08" y="538.01" width="5.33" height="5.33" fill="#efc3c3"/>
<rect x="315.36" y="538.01" width="5.33" height="5.33" fill="#e6a4a2"/>
<rect x="320.65" y="538.01" width="5.33" height="5.33" fill="#e6a4a2"/>
<rect x="336.49" y="538.01" width="5.33" height="5.33" fill="#efc3c3"/>
<rect x="368.18" y="538.01" width="5.33" height="5.33" fill="#efc3c3"/>
<rect x="373.47" y="538.01" width="5.33" height="5.33" fill="#efc3c3"/>
<rect x="384.03" y="538.01" width="5.33" height="5.33" fill="#e6a4a2"/>
<rect x="389.31" y="538.01" width="5.33" height="5.33" fill="#cb2b1d"/>
<rect x="394.59" y="538.01" width="5.33" height="5.33" fill="#dc827b"/>
<rect x="405.16" y="538.01" width="5.33" height="5.33" fill="#efc3c3"/>
<rect x="410.44" y="538.01" width="5.33" height="5.33" fill="#e6a4a2"/>
<rect x="421.01" y="538.01" width="5.33" height="5.33" fill="#aab1f4"/>
<rect x="426.29" y="538.01" width="5.33" height="5.33" fill="#c9cdf8"/>
<rect x="436.85" y="538.01" width="5.33" height="5.33" fill="#8a92f0"/>
<rect x="442.13" y="538.01" width="5.33" height="5.33" fill="#8a92f0"/>
<rect x="447.42" y="538.01" width="5.33" height="5.33" fill="#8a92f0"/>
<rect x="452.70" y="538.01" width="5.33" height="5.33" fill="#aab1f4"/>
<rect x="325.93" y="543.29" width="5.33" height="5.33" fill="#efc3c3"/>
<rect x="331.21" y="543.29" width="5.33" height="5.33" fill="#efc3c3"/>
<rect x="341.77" y="543.29" width="5.33" height="5.33" fill="#efc3c3"/>
<rect x="352.34" y="543.29" width="5.33" height="5.33" fill="#efc3c3"/>
<rect x="368.18" y="543.29" width="5.33" height="5.33" fill="#efc3c3"/>
<rect x="384.03" y="543.29" width="5.33" height="5.33" fill="#e6a4a2"/>
<rect x="389.31" y="543.29" width="5.33" height="5.33" fill="#e6a4a2"/>
<rect x="394.59" y="543.29" width="5.33" height="5.33" fill="#cb2b1d"/>
<rect x="405.16" y="543.29" width="5.33" height="5.33" fill="#efc3c3"/>
<rect x="436.85" y="543.29" width="5.33" height="5.33" fill="#8a92f0"/>
<rect x="442.13" y="543.29" width="5.33" height="5.33" fill="#8a92f0"/>
<rect x="447.42" y="543.29" width="5.33" height="5.33" fill="#5d67eb"/>
<rect x="452.70" y="543.29" width="5.33" height="5.33" fill="#8a92f0"/>
<rect x="463.26" y="543.29" width="5.33" height="5.33" fill="#aab1f4"/>
<rect x="399.88" y="548.58" width="5.33" height="5.33" fill="#cb2b1d"/>
<rect x="405.16" y="548.58" width="5.33" height="5.33" fill="#e6a4a2"/>
<rect x="384.03" y="553.86" width="5.33" height="5.33" fill="#e6a4a2"/>
<rect x="399.88" y="553.86" width="5.33" height="5.33" fill="#e6a4a2"/>
<rect x="405.16" y="553.86" width="5.33" height="5.33" fill="#cb2b1d"/>
<rect x="410.44" y="553.86" width="5.33" height="5.33" fill="#e6a4a2"/>
<rect x="304.80" y="559.14" width="5.33" height="5.33" fill="#efc3c3"/>
<rect x="310.08" y="559.14" width="5.33" height="5.33" fill="#e6a4a2"/>
<rect x="315.36" y="559.14" width="5.33" height="5.33" fill="#e6a4a2"/>
<rect x="320.65" y="559.14" width="5.33" height="5.33" fill="#efc3c3"/>
<rect x="325.93" y="559.14" width="5.33" height="5.33" fill="#efc3c3"/>
<rect x="368.18" y="559.14" width="5.33" height="5.33" fill="#efc3c3"/>
<rect x="373.47" y="559.14" width="5.33" height="5.33" fill="#efc3c3"/>
<rect x="378.75" y="559.14" width="5.33" height="5.33" fill="#efc3c3"/>
<rect x="384.03" y="559.14" width="5.33" height="5.33" fill="#efc3c3"/>
<rect x="389.31" y="559.14" width="5.33" height="5.33" fill="#efc3c3"/>
<rect x="405.16" y="559.14" width="5.33" height="5.33" fill="#e6a4a2"/>
<rect x="410.44" y="559.14" width="5.33" height="5.33" fill="#cb2b1d"/>
<rect x="463.26" y="559.14" width="5.33" height="5.33" fill="#efc3c3"/>
<rect x="415.72" y="564.42" width="5.33" height="5.33" fill="#cb2b1d"/>
<rect x="421.01" y="564.42" width="5.33" height="5.33" fill="#e6a4a2"/>
<rect x="426.29" y="564.42" width="5.33" height="5.33" fill="#e6a4a2"/>
<rect x="320.65" y="569.71" width="5.33" height="5.33" fill="#aab1f4"/>
<rect x="341.77" y="569.71" width="5.33" height="5.33" fill="#aab1f4"/>
<rect x="389.31" y="569.71" width="5.33" height="5.33" fill="#aab1f4"/>
<rect x="421.01" y="569.71" width="5.33" height="5.33" fill="#cb2b1d"/>
<rect x="426.29" y="569.71" width="5.33" height="5.33" fill="#ce3d2e"/>
<rect x="436.85" y="569.71" width="5.33" height="5.33" fill="#e6a4a2"/>
<rect x="442.13" y="569.71" width="5.33" height="5.33" fill="#dc827b"/>
<rect x="341.77" y="574.99" width="5.33" height="5.33" fill="#c9cdf8"/>
<rect x="357.62" y="574.99" width="5.33" height="5.33" fill="#aab1f4"/>
<rect x="415.72" y="574.99" width="5.33" height="5.33" fill="#efc3c3"/>
<rect x="421.01" y="574.99" width="5.33" height="5.33" fill="#ce3d2e"/>
<rect x="426.29" y="574.99" width="5.33" height="5.33" fill="#ce3d2e"/>
<rect x="442.13" y="574.99" width="5.33" height="5.33" fill="#e6a4a2"/>
<rect x="431.57" y="580.27" width="5.33" height="5.33" fill="#cb2b1d"/>
<rect x="304.80" y="585.55" width="5.33" height="5.33" fill="#8a92f0"/>
<rect x="310.08" y="585.55" width="5.33" height="5.33" fill="#c9cdf8"/>
<rect x="315.36" y="585.55" width="5.33" height="5.33" fill="#c9cdf8"/>
<rect x="320.65" y="585.55" width="5.33" height="5.33" fill="#8a92f0"/>
<rect x="341.77" y="585.55" width="5.33" height="5.33" fill="#aab1f4"/>
<rect x="352.34" y="585.55" width="5.33" height="5.33" fill="#c9cdf8"/>
<rect x="389.31" y="585.55" width="5.33" height="5.33" fill="#8a92f0"/>
<rect x="394.59" y="585.55" width="5.33" height="5.33" fill="#8a92f0"/>
<rect x="421.01" y="585.55" width="5.33" height="5.33" fill="#e6a4a2"/>
<rect x="426.29" y="585.55" width="5.33" height="5.33" fill="#efc3c3"/>
<rect x="431.57" y="585.55" width="5.33" height="5.33" fill="#efc3c3"/>
<rect x="436.85" y="585.55" width="5.33" height="5.33" fill="#cb2b1d"/>
<rect x="442.13" y="585.55" width="5.33" height="5.33" fill="#d3574c"/>
<rect x="447.42" y="585.55" width="5.33" height="5.33" fill="#e6a4a2"/>
<rect x="452.70" y="585.55" width="5.33" height="5.33" fill="#e6a4a2"/>
<rect x="463.26" y="585.55" width="5.33" height="5.33" fill="#efc3c3"/>
<rect x="489.67" y="585.55" width="5.33" height="5.33" fill="#efc3c3"/>
<rect x="304.80" y="590.83" width="5.33" height="5.33" fill="#8a92f0"/>
<rect x="315.36" y="590.83" width="5.33" height="5.33" fill="#c9cdf8"/>
<rect x="320.65" y="590.83" width="5.33" height="5.33" fill="#8a92f0"/>
<rect x="341.77" y="590.83" width="5.33" height="5.33" fill="#aab1f4"/>
<rect x="352.34" y="590.83" width="5.33" height="5.33" fill="#c9cdf8"/>
<rect x="368.18" y="590.83" width="5.33" height="5.33" fill="#aab1f4"/>
<rect x="373.47" y="590.83" width="5.33" height="5.33" fill="#c9cdf8"/>
<rect x="389.31" y="590.83" width="5.33" height="5.33" fill="#8a92f0"/>
<rect x="394.59" y="590.83" width="5.33" height="5.33" fill="#8a92f0"/>
<rect x="421.01" y="590.83" width="5.33" height="5.33" fill="#dc827b"/>
<rect x="426.29" y="590.83" width="5.33" height="5.33" fill="#e6a4a2"/>
<rect x="431.57" y="590.83" width="5.33" height="5.33" fill="#e6a4a2"/>
<rect x="436.85" y="590.83" width="5.33" height="5.33" fill="#ce3d2e"/>
<rect x="442.13" y="590.83" width="5.33" height="5.33" fill="#cb2b1d"/>
<rect x="447.42" y="590.83" width="5.33" height="5.33" fill="#efc3c3"/>
<rect x="463.26" y="590.83" width="5.33" height="5.33" fill="#efc3c3"/>
<rect x="489.67" y="590.83" width="5.33" height="5.33" fill="#efc3c3"/>
<rect x="384.03" y="596.12" width="5.33" height="5.33" fill="#aab1f4"/>
<rect x="389.31" y="596.12" width="5.33" height="5.33" fill="#8a92f0"/>
<rect x="394.59" y="596.12" width="5.33" height="5.33" fill="#5d67eb"/>
<rect x="436.85" y="596.12" width="5.33" height="5.33" fill="#dc827b"/>
<rect x="447.42" y="596.12" width="5.33" height="5.33" fill="#cb2b1d"/>
<rect x="452.70" y="596.12" width="5.33" height="5.33" fill="#ce3d2e"/>
<rect x="463.26" y="596.12" width="5.33" height="5.33" fill="#efc3c3"/>
<rect x="347.06" y="601.40" width="5.33" height="5.33" fill="#aab1f4"/>
<rect x="394.59" y="601.40" width="5.33" height="5.33" fill="#5d67eb"/>
<rect x="447.42" y="601.40" width="5.33" height="5.33" fill="#ce3d2e"/>
<rect x="452.70" y="601.40" width="5.33" height="5.33" fill="#cb2b1d"/>
<rect x="457.98" y="601.40" width="5.33" height="5.33" fill="#efc3c3"/>
<rect x="463.26" y="601.40" width="5.33" height="5.33" fill="#e6a4a2"/>
<rect x="315.36" y="606.68" width="5.33" height="5.33" fill="#e6a4a2"/>
<rect x="347.06" y="606.68" width="5.33" height="5.33" fill="#aab1f4"/>
<rect x="378.75" y="606.68" width="5.33" height="5.33" fill="#e6a4a2"/>
<rect x="452.70" y="606.68" width="5.33" height="5.33" fill="#e6a4a2"/>
<rect x="457.98" y="606.68" width="5.33" height="5.33" fill="#cb2b1d"/>
<rect x="463.26" y="606.68" width="5.33" height="5.33" fill="#e6a4a2"/>
<rect x="468.54" y="606.68" width="5.33" height="5.33" fill="#efc3c3"/>
<rect x="452.70" y="611.96" width="5.33" height="5.33" fill="#e6a4a2"/>
<rect x="457.98" y="611.96" width="5.33" height="5.33" fill="#efc3c3"/>
<rect x="463.26" y="611.96" width="5.33" height="5.33" fill="#cb2b1d"/>
<rect x="468.54" y="611.96" width="5.33" height="5.33" fill="#d3574c"/>
<rect x="463.26" y="617.24" width="5.33" height="5.33" fill="#d3574c"/>
<rect x="468.54" y="617.24" width="5.33" height="5.33" fill="#cb2b1d"/>
<rect x="331.21" y="622.53" width="5.33" height="5.33" fill="#e6a4a2"/>
<rect x="473.83" y="622.53" width="5.33" height="5.33" fill="#cb2b1d"/>
<rect x="479.11" y="627.81" width="5.33" height="5.33" fill="#cb2b1d"/>
<rect x="368.18" y="633.09" width="5.33" height="5.33" fill="#aab1f4"/>
<rect x="373.47" y="633.09" width="5.33" height="5.33" fill="#aab1f4"/>
<rect x="484.39" y="633.09" width="5.33" height="5.33" fill="#cb2b1d"/>
<rect x="489.67" y="633.09" width="5.33" height="5.33" fill="#e6a4a2"/>
<rect x="494.95" y="633.09" width="5.33" height="5.33" fill="#efc3c3"/>
<rect x="447.42" y="638.37" width="5.33" height="5.33" fill="#efc3c3"/>
<rect x="452.70" y="638.37" width="5.33" height="5.33" fill="#efc3c3"/>
<rect x="463.26" y="638.37" width="5.33" height="5.33" fill="#efc3c3"/>
<rect x="484.39" y="638.37" width="5.33" height="5.33" fill="#e6a4a2"/>
<rect x="489.67" y="638.37" width="5.33" height="5.33" fill="#cb2b1d"/>
<rect x="494.95" y="638.37" width="5.33" height="5.33" fill="#ce3d2e"/>
<rect x="447.42" y="643.65" width="5.33" height="5.33" fill="#efc3c3"/>
<rect x="452.70" y="643.65" width="5.33" height="5.33" fill="#efc3c3"/>
<rect x="484.39" y="643.65" width="5.33" height="5.33" fill="#efc3c3"/>
<rect x="489.67" y="643.65" width="5.33" height="5.33" fill="#ce3d2e"/>
<rect x="494.95" y="643.65" width="5.33" height="5.33" fill="#cb2b1d"/>
<rect x="500.24" y="648.94" width="5.33" height="5.33" fill="#cb2b1d"/>
<rect x="505.52" y="654.22" width="5.33" height="5.33" fill="#cb2b1d"/>
</g>
<rect x="304.80" y="453.50" width="110.92" height="110.92" fill="none" stroke="#333" stroke-width="0.9"/>
<rect x="415.72" y="564.42" width="94.68" height="94.68" fill="none" stroke="#444" stroke-width="0.9"/>
<text x="301.60" y="458.14" font-size="5.4" text-anchor="end" font-weight="normal" fill="#000" >Tcyt</text>
<text x="309.44" y="450.60" font-size="5.35" text-anchor="start" font-weight="normal" fill="#000" transform="rotate(-90 309.44 450.60)" >Tcyt</text>
<text x="301.60" y="463.42" font-size="5.4" text-anchor="end" font-weight="normal" fill="#000" >T</text>
<text x="314.72" y="450.60" font-size="5.35" text-anchor="start" font-weight="normal" fill="#000" transform="rotate(-90 314.72 450.60)" >T</text>
<text x="301.60" y="468.71" font-size="5.4" text-anchor="end" font-weight="normal" fill="#000" >Thelp</text>
<text x="320.01" y="450.60" font-size="5.35" text-anchor="start" font-weight="normal" fill="#000" transform="rotate(-90 320.01 450.60)" >Thelp</text>
<text x="301.60" y="473.99" font-size="5.4" text-anchor="end" font-weight="normal" fill="#000" >Tcyt CD57+</text>
<text x="325.29" y="450.60" font-size="5.35" text-anchor="start" font-weight="normal" fill="#000" transform="rotate(-90 325.29 450.60)" >Tcyt CD57+</text>
<text x="301.60" y="479.27" font-size="5.4" text-anchor="end" font-weight="normal" fill="#000" >Tcyt CTLA4+</text>
<text x="330.57" y="450.60" font-size="5.35" text-anchor="start" font-weight="normal" fill="#000" transform="rotate(-90 330.57 450.60)" >Tcyt CTLA4+</text>
<text x="301.60" y="484.55" font-size="5.4" text-anchor="end" font-weight="normal" fill="#000" >Thelp CD27+</text>
<text x="335.85" y="450.60" font-size="5.35" text-anchor="start" font-weight="normal" fill="#000" transform="rotate(-90 335.85 450.60)" >Thelp CD27+</text>
<text x="301.60" y="489.83" font-size="5.4" text-anchor="end" font-weight="normal" fill="#000" >Tcyt CD27+</text>
<text x="341.13" y="450.60" font-size="5.35" text-anchor="start" font-weight="normal" fill="#000" transform="rotate(-90 341.13 450.60)" >Tcyt CD27+</text>
<text x="301.60" y="495.12" font-size="5.4" text-anchor="end" font-weight="normal" fill="#000" >Thelp CD57+</text>
<text x="346.42" y="450.60" font-size="5.35" text-anchor="start" font-weight="normal" fill="#000" transform="rotate(-90 346.42 450.60)" >Thelp CD57+</text>
<text x="301.60" y="500.40" font-size="5.4" text-anchor="end" font-weight="normal" fill="#000" >Thelp CD25+</text>
<text x="351.70" y="450.60" font-size="5.35" text-anchor="start" font-weight="normal" fill="#000" transform="rotate(-90 351.70 450.60)" >Thelp CD25+</text>
<text x="301.60" y="505.68" font-size="5.4" text-anchor="end" font-weight="normal" fill="#000" >Tcyt CD25+</text>
<text x="356.98" y="450.60" font-size="5.35" text-anchor="start" font-weight="normal" fill="#000" transform="rotate(-90 356.98 450.60)" >Tcyt CD25+</text>
<text x="301.60" y="510.96" font-size="5.4" text-anchor="end" font-weight="normal" fill="#000" >Thelp GrB+</text>
<text x="362.26" y="450.60" font-size="5.35" text-anchor="start" font-weight="normal" fill="#000" transform="rotate(-90 362.26 450.60)" >Thelp GrB+</text>
<text x="301.60" y="516.24" font-size="5.4" text-anchor="end" font-weight="normal" fill="#000" >Tcyt GrB+</text>
<text x="367.54" y="450.60" font-size="5.35" text-anchor="start" font-weight="normal" fill="#000" transform="rotate(-90 367.54 450.60)" >Tcyt GrB+</text>
<text x="301.60" y="521.53" font-size="5.4" text-anchor="end" font-weight="normal" fill="#000" >Thelp PD1+</text>
<text x="372.83" y="450.60" font-size="5.35" text-anchor="start" font-weight="normal" fill="#000" transform="rotate(-90 372.83 450.60)" >Thelp PD1+</text>
<text x="301.60" y="526.81" font-size="5.4" text-anchor="end" font-weight="normal" fill="#000" >Tcyt PD1+</text>
<text x="378.11" y="450.60" font-size="5.35" text-anchor="start" font-weight="normal" fill="#000" transform="rotate(-90 378.11 450.60)" >Tcyt PD1+</text>
<text x="301.60" y="532.09" font-size="5.4" text-anchor="end" font-weight="normal" fill="#000" >M1</text>
<text x="383.39" y="450.60" font-size="5.35" text-anchor="start" font-weight="normal" fill="#000" transform="rotate(-90 383.39 450.60)" >M1</text>
<text x="301.60" y="537.37" font-size="5.4" text-anchor="end" font-weight="normal" fill="#000" >PDL1+</text>
<text x="388.67" y="450.60" font-size="5.35" text-anchor="start" font-weight="normal" fill="#000" transform="rotate(-90 388.67 450.60)" >PDL1+</text>
<text x="301.60" y="542.65" font-size="5.4" text-anchor="end" font-weight="normal" fill="#000" >HLAABC+</text>
<text x="393.95" y="450.60" font-size="5.35" text-anchor="start" font-weight="normal" fill="#000" transform="rotate(-90 393.95 450.60)" >HLAABC+</text>
<text x="301.60" y="547.94" font-size="5.4" text-anchor="end" font-weight="normal" fill="#000" >PDL2+</text>
<text x="399.24" y="450.60" font-size="5.35" text-anchor="start" font-weight="normal" fill="#000" transform="rotate(-90 399.24 450.60)" >PDL2+</text>
<text x="301.60" y="553.22" font-size="5.4" text-anchor="end" font-weight="normal" fill="#000" >B</text>
<text x="404.52" y="450.60" font-size="5.35" text-anchor="start" font-weight="normal" fill="#000" transform="rotate(-90 404.52 450.60)" >B</text>
<text x="301.60" y="558.50" font-size="5.4" text-anchor="end" font-weight="normal" fill="#000" >B pSTAT1+</text>
<text x="409.80" y="450.60" font-size="5.35" text-anchor="start" font-weight="normal" fill="#000" transform="rotate(-90 409.80 450.60)" >B pSTAT1+</text>
<text x="301.60" y="563.78" font-size="5.4" text-anchor="end" font-weight="normal" fill="#000" >NK pSTAT1+</text>
<text x="415.08" y="450.60" font-size="5.35" text-anchor="start" font-weight="normal" fill="#000" transform="rotate(-90 415.08 450.60)" >NK pSTAT1+</text>
<text x="301.60" y="569.06" font-size="5.4" text-anchor="end" font-weight="normal" fill="#000" >HLAG+</text>
<text x="420.36" y="450.60" font-size="5.35" text-anchor="start" font-weight="normal" fill="#000" transform="rotate(-90 420.36 450.60)" >HLAG+</text>
<text x="301.60" y="574.35" font-size="5.4" text-anchor="end" font-weight="normal" fill="#000" >Thelp LAG3+</text>
<text x="425.65" y="450.60" font-size="5.35" text-anchor="start" font-weight="normal" fill="#000" transform="rotate(-90 425.65 450.60)" >Thelp LAG3+</text>
<text x="301.60" y="579.63" font-size="5.4" text-anchor="end" font-weight="normal" fill="#000" >Tcyt LAG3+</text>
<text x="430.93" y="450.60" font-size="5.35" text-anchor="start" font-weight="normal" fill="#000" transform="rotate(-90 430.93 450.60)" >Tcyt LAG3+</text>
<text x="301.60" y="584.91" font-size="5.4" text-anchor="end" font-weight="normal" fill="#000" >Treg</text>
<text x="436.21" y="450.60" font-size="5.35" text-anchor="start" font-weight="normal" fill="#000" transform="rotate(-90 436.21 450.60)" >Treg</text>
<text x="301.60" y="590.19" font-size="5.4" text-anchor="end" font-weight="normal" fill="#000" >Tcyt CD45RO+</text>
<text x="441.49" y="450.60" font-size="5.35" text-anchor="start" font-weight="normal" fill="#000" transform="rotate(-90 441.49 450.60)" >Tcyt CD45RO+</text>
<text x="301.60" y="595.47" font-size="5.4" text-anchor="end" font-weight="normal" fill="#000" >Thelp CD45RO+</text>
<text x="446.77" y="450.60" font-size="5.35" text-anchor="start" font-weight="normal" fill="#000" transform="rotate(-90 446.77 450.60)" >Thelp CD45RO+</text>
<text x="301.60" y="600.76" font-size="5.4" text-anchor="end" font-weight="normal" fill="#000" >Thelp OX40+</text>
<text x="452.06" y="450.60" font-size="5.35" text-anchor="start" font-weight="normal" fill="#000" transform="rotate(-90 452.06 450.60)" >Thelp OX40+</text>
<text x="301.60" y="606.04" font-size="5.4" text-anchor="end" font-weight="normal" fill="#000" >Tcyt OX40+</text>
<text x="457.34" y="450.60" font-size="5.35" text-anchor="start" font-weight="normal" fill="#000" transform="rotate(-90 457.34 450.60)" >Tcyt OX40+</text>
<text x="301.60" y="611.32" font-size="5.4" text-anchor="end" font-weight="normal" fill="#000" >M2</text>
<text x="462.62" y="450.60" font-size="5.35" text-anchor="start" font-weight="normal" fill="#000" transform="rotate(-90 462.62 450.60)" >M2</text>
<text x="301.60" y="616.60" font-size="5.4" text-anchor="end" font-weight="normal" fill="#000" >mDC1</text>
<text x="467.90" y="450.60" font-size="5.35" text-anchor="start" font-weight="normal" fill="#000" transform="rotate(-90 467.90 450.60)" >mDC1</text>
<text x="301.60" y="621.88" font-size="5.4" text-anchor="end" font-weight="normal" fill="#000" >mDC2</text>
<text x="473.18" y="450.60" font-size="5.35" text-anchor="start" font-weight="normal" fill="#000" transform="rotate(-90 473.18 450.60)" >mDC2</text>
<text x="301.60" y="627.17" font-size="5.4" text-anchor="end" font-weight="normal" fill="#000" >Thelp CTLA4+</text>
<text x="478.47" y="450.60" font-size="5.35" text-anchor="start" font-weight="normal" fill="#000" transform="rotate(-90 478.47 450.60)" >Thelp CTLA4+</text>
<text x="301.60" y="632.45" font-size="5.4" text-anchor="end" font-weight="normal" fill="#000" >MK</text>
<text x="483.75" y="450.60" font-size="5.35" text-anchor="start" font-weight="normal" fill="#000" transform="rotate(-90 483.75 450.60)" >MK</text>
<text x="301.60" y="637.73" font-size="5.4" text-anchor="end" font-weight="normal" fill="#000" >TIM3+</text>
<text x="489.03" y="450.60" font-size="5.35" text-anchor="start" font-weight="normal" fill="#000" transform="rotate(-90 489.03 450.60)" >TIM3+</text>
<text x="301.60" y="643.01" font-size="5.4" text-anchor="end" font-weight="normal" fill="#000" >Thelp TIM3+</text>
<text x="494.31" y="450.60" font-size="5.35" text-anchor="start" font-weight="normal" fill="#000" transform="rotate(-90 494.31 450.60)" >Thelp TIM3+</text>
<text x="301.60" y="648.29" font-size="5.4" text-anchor="end" font-weight="normal" fill="#000" >Tcyt TIM3+</text>
<text x="499.59" y="450.60" font-size="5.35" text-anchor="start" font-weight="normal" fill="#000" transform="rotate(-90 499.59 450.60)" >Tcyt TIM3+</text>
<text x="301.60" y="653.58" font-size="5.4" text-anchor="end" font-weight="normal" fill="#000" >MDSC</text>
<text x="504.88" y="450.60" font-size="5.35" text-anchor="start" font-weight="normal" fill="#000" transform="rotate(-90 504.88 450.60)" >MDSC</text>
<text x="301.60" y="658.86" font-size="5.4" text-anchor="end" font-weight="normal" fill="#000" >NKT</text>
<text x="510.16" y="450.60" font-size="5.35" text-anchor="start" font-weight="normal" fill="#000" transform="rotate(-90 510.16 450.60)" >NKT</text>
<rect x="304.60" y="663.40" width="206.00" height="6.00" fill="url(#gc)" stroke="#000" stroke-width="0.9"/>
<line x1="304.60" y1="669.40" x2="304.60" y2="671.20" stroke="#000" stroke-width="0.5" />
<text x="304.60" y="680.00" font-size="5.4" text-anchor="middle" font-weight="normal" fill="#000" >-1</text>
<line x1="325.20" y1="669.40" x2="325.20" y2="671.20" stroke="#000" stroke-width="0.5" />
<text x="325.20" y="680.00" font-size="5.4" text-anchor="middle" font-weight="normal" fill="#000" >-0.8</text>
<line x1="345.80" y1="669.40" x2="345.80" y2="671.20" stroke="#000" stroke-width="0.5" />
<text x="345.80" y="680.00" font-size="5.4" text-anchor="middle" font-weight="normal" fill="#000" >-0.6</text>
<line x1="366.40" y1="669.40" x2="366.40" y2="671.20" stroke="#000" stroke-width="0.5" />
<text x="366.40" y="680.00" font-size="5.4" text-anchor="middle" font-weight="normal" fill="#000" >-0.4</text>
<line x1="387.00" y1="669.40" x2="387.00" y2="671.20" stroke="#000" stroke-width="0.5" />
<text x="387.00" y="680.00" font-size="5.4" text-anchor="middle" font-weight="normal" fill="#000" >-0.2</text>
<line x1="407.60" y1="669.40" x2="407.60" y2="671.20" stroke="#000" stroke-width="0.5" />
<text x="407.60" y="680.00" font-size="5.4" text-anchor="middle" font-weight="normal" fill="#000" >0</text>
<line x1="428.20" y1="669.40" x2="428.20" y2="671.20" stroke="#000" stroke-width="0.5" />
<text x="428.20" y="680.00" font-size="5.4" text-anchor="middle" font-weight="normal" fill="#000" >0.2</text>
<line x1="448.80" y1="669.40" x2="448.80" y2="671.20" stroke="#000" stroke-width="0.5" />
<text x="448.80" y="680.00" font-size="5.4" text-anchor="middle" font-weight="normal" fill="#000" >0.4</text>
<line x1="469.40" y1="669.40" x2="469.40" y2="671.20" stroke="#000" stroke-width="0.5" />
<text x="469.40" y="680.00" font-size="5.4" text-anchor="middle" font-weight="normal" fill="#000" >0.6</text>
<line x1="490.00" y1="669.40" x2="490.00" y2="671.20" stroke="#000" stroke-width="0.5" />
<text x="490.00" y="680.00" font-size="5.4" text-anchor="middle" font-weight="normal" fill="#000" >0.8</text>
<line x1="510.60" y1="669.40" x2="510.60" y2="671.20" stroke="#000" stroke-width="0.5" />
<text x="510.60" y="680.00" font-size="5.4" text-anchor="middle" font-weight="normal" fill="#000" >1</text>
<rect x="0.00" y="0.00" width="520.00" height="1.20" fill="#000" />
<rect x="0.00" y="686.70" width="520.00" height="1.30" fill="#000" />
<rect x="0.00" y="0.00" width="1.20" height="688.00" fill="#000" />
<rect x="518.80" y="0.00" width="1.20" height="688.00" fill="#000" />
</svg>
</body></html>
